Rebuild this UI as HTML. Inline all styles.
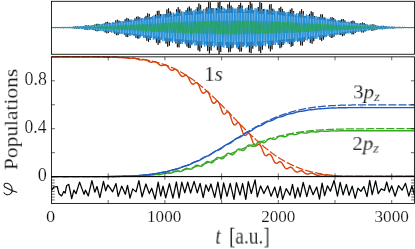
<!DOCTYPE html>
<html><head><meta charset="utf-8"><title>fig</title>
<style>
html,body{margin:0;padding:0;background:#fff;}
body{width:415px;height:249px;position:relative;overflow:hidden;font-family:"Liberation Serif",serif;color:#111;}
.t{position:absolute;left:0;top:0;white-space:nowrap;line-height:1;transform-origin:0 0;will-change:transform;-webkit-text-stroke:0.15px #fff;}
i{font-style:italic;}
sub{font-size:70%;vertical-align:baseline;position:relative;top:0.2em;line-height:0;}
</style></head><body>
<svg width="415" height="249" viewBox="0 0 415 249" style="position:absolute;left:0;top:0"><rect width="415" height="249" fill="#fff"/><clipPath id="ct"><rect x="51.5" y="1.3" width="362.9" height="52.95"/></clipPath><clipPath id="co"><path clip-rule="evenodd" d="M51.5,1.3H414.4V54.25H51.5ZM51.5,27.6L53.8,27.5L56.0,27.5L58.3,27.5L60.6,27.5L62.8,27.4L65.1,27.3L67.4,27.3L69.6,27.2L71.9,27.1L74.2,27.0L76.4,26.9L78.7,26.8L81.0,26.6L83.3,26.5L85.5,26.3L87.8,26.2L90.1,26.0L92.3,25.8L94.6,25.6L96.9,25.4L99.1,25.2L101.4,25.0L103.7,24.8L105.9,24.5L108.2,24.3L110.5,24.1L112.7,23.8L115.0,23.6L117.3,23.3L119.5,23.0L121.8,22.8L124.1,22.5L126.3,22.2L128.6,21.9L130.9,21.7L133.2,21.4L135.4,21.1L137.7,20.8L140.0,20.5L142.2,20.2L144.5,20.0L146.8,19.7L149.0,19.4L151.3,19.1L153.6,18.8L155.8,18.5L158.1,18.3L160.4,18.0L162.6,17.7L164.9,17.4L167.2,17.2L169.4,16.9L171.7,16.7L174.0,16.4L176.2,16.2L178.5,15.9L180.8,15.7L183.1,15.5L185.3,15.3L187.6,15.1L189.9,14.9L192.1,14.7L194.4,14.5L196.7,14.3L198.9,14.2L201.2,14.0L203.5,13.9L205.7,13.7L208.0,13.6L210.3,13.5L212.5,13.4L214.8,13.3L217.1,13.2L219.3,13.1L221.6,13.1L223.9,13.0L226.1,13.0L228.4,13.0L230.7,12.9L232.9,12.9L235.2,12.9L237.5,13.0L239.8,13.0L242.0,13.0L244.3,13.1L246.6,13.1L248.8,13.2L251.1,13.3L253.4,13.4L255.6,13.5L257.9,13.6L260.2,13.7L262.4,13.9L264.7,14.0L267.0,14.2L269.2,14.3L271.5,14.5L273.8,14.7L276.0,14.9L278.3,15.1L280.6,15.3L282.8,15.5L285.1,15.7L287.4,15.9L289.7,16.2L291.9,16.4L294.2,16.7L296.5,16.9L298.7,17.2L301.0,17.4L303.3,17.7L305.5,18.0L307.8,18.3L310.1,18.5L312.3,18.8L314.6,19.1L316.9,19.4L319.1,19.7L321.4,20.0L323.7,20.2L325.9,20.5L328.2,20.8L330.5,21.1L332.7,21.4L335.0,21.7L337.3,21.9L339.6,22.2L341.8,22.5L344.1,22.8L346.4,23.0L348.6,23.3L350.9,23.6L353.2,23.8L355.4,24.1L357.7,24.3L360.0,24.5L362.2,24.8L364.5,25.0L366.8,25.2L369.0,25.4L371.3,25.6L373.6,25.8L375.8,26.0L378.1,26.2L380.4,26.3L382.6,26.5L384.9,26.6L387.2,26.8L389.5,26.9L391.7,27.0L394.0,27.1L396.3,27.2L398.5,27.3L400.8,27.3L403.1,27.4L405.3,27.5L407.6,27.5L409.9,27.5L412.1,27.5L414.4,27.6L414.4,27.6L412.1,27.6L409.9,27.6L407.6,27.6L405.3,27.6L403.1,27.7L400.8,27.8L398.5,27.8L396.3,27.9L394.0,28.0L391.7,28.1L389.5,28.2L387.2,28.3L384.9,28.5L382.6,28.6L380.4,28.8L378.1,28.9L375.8,29.1L373.6,29.3L371.3,29.5L369.0,29.7L366.8,29.9L364.5,30.1L362.2,30.3L360.0,30.6L357.7,30.8L355.4,31.0L353.2,31.3L350.9,31.5L348.6,31.8L346.4,32.1L344.1,32.3L341.8,32.6L339.6,32.9L337.3,33.2L335.0,33.4L332.7,33.7L330.5,34.0L328.2,34.3L325.9,34.6L323.7,34.9L321.4,35.1L319.1,35.4L316.9,35.7L314.6,36.0L312.3,36.3L310.1,36.6L307.8,36.8L305.5,37.1L303.3,37.4L301.0,37.7L298.7,37.9L296.5,38.2L294.2,38.4L291.9,38.7L289.7,38.9L287.4,39.2L285.1,39.4L282.8,39.6L280.6,39.8L278.3,40.0L276.0,40.2L273.8,40.4L271.5,40.6L269.2,40.8L267.0,40.9L264.7,41.1L262.4,41.2L260.2,41.4L257.9,41.5L255.6,41.6L253.4,41.7L251.1,41.8L248.8,41.9L246.6,42.0L244.3,42.0L242.0,42.1L239.8,42.1L237.5,42.1L235.2,42.2L232.9,42.2L230.7,42.2L228.4,42.1L226.1,42.1L223.9,42.1L221.6,42.0L219.3,42.0L217.1,41.9L214.8,41.8L212.5,41.7L210.3,41.6L208.0,41.5L205.7,41.4L203.5,41.2L201.2,41.1L198.9,40.9L196.7,40.8L194.4,40.6L192.1,40.4L189.9,40.2L187.6,40.0L185.3,39.8L183.1,39.6L180.8,39.4L178.5,39.2L176.2,38.9L174.0,38.7L171.7,38.4L169.4,38.2L167.2,37.9L164.9,37.7L162.6,37.4L160.4,37.1L158.1,36.8L155.8,36.6L153.6,36.3L151.3,36.0L149.0,35.7L146.8,35.4L144.5,35.1L142.2,34.9L140.0,34.6L137.7,34.3L135.4,34.0L133.2,33.7L130.9,33.4L128.6,33.2L126.3,32.9L124.1,32.6L121.8,32.3L119.5,32.1L117.3,31.8L115.0,31.5L112.7,31.3L110.5,31.0L108.2,30.8L105.9,30.6L103.7,30.3L101.4,30.1L99.1,29.9L96.9,29.7L94.6,29.5L92.3,29.3L90.1,29.1L87.8,28.9L85.5,28.8L83.3,28.6L81.0,28.5L78.7,28.3L76.4,28.2L74.2,28.1L71.9,28.0L69.6,27.9L67.4,27.8L65.1,27.8L62.8,27.7L60.6,27.6L58.3,27.6L56.0,27.6L53.8,27.6L51.5,27.6Z"/></clipPath><g clip-path="url(#ct)" fill="none" stroke-linejoin="round"><path clip-path="url(#co)" d="M51.5,27.6L51.8,27.5L52.1,27.6L52.4,27.6L52.6,27.5L52.9,27.5L53.2,27.5L53.5,27.6L53.8,27.6L54.1,27.6L54.3,27.5L54.6,27.5L54.9,27.5L55.2,27.6L55.5,27.6L55.8,27.6L56.0,27.5L56.3,27.5L56.6,27.5L56.9,27.6L57.2,27.6L57.5,27.6L57.7,27.5L58.0,27.5L58.3,27.5L58.6,27.6L58.9,27.6L59.2,27.6L59.4,27.5L59.7,27.5L60.0,27.6L60.3,27.6L60.6,27.6L60.9,27.5L61.1,27.5L61.4,27.5L61.7,27.7L62.0,27.7L62.3,27.5L62.6,27.4L62.8,27.4L63.1,27.6L63.4,27.8L63.7,27.7L64.0,27.4L64.3,27.2L64.5,27.4L64.8,27.7L65.1,27.9L65.4,27.7L65.7,27.3L66.0,27.1L66.2,27.4L66.5,27.8L66.8,28.0L67.1,27.7L67.4,27.3L67.7,27.1L67.9,27.4L68.2,27.9L68.5,28.0L68.8,27.6L69.1,27.2L69.4,27.2L69.6,27.6L69.9,27.9L70.2,27.8L70.5,27.4L70.8,27.2L71.1,27.5L71.3,27.9L71.6,27.9L71.9,27.5L72.2,27.0L72.5,27.2L72.8,27.8L73.0,28.3L73.3,27.9L73.6,27.1L73.9,26.7L74.2,27.2L74.5,28.2L74.7,28.6L75.0,27.9L75.3,26.8L75.6,26.4L75.9,27.2L76.2,28.4L76.4,28.7L76.7,27.8L77.0,26.6L77.3,26.4L77.6,27.4L77.9,28.5L78.2,28.6L78.4,27.6L78.7,26.6L79.0,26.7L79.3,27.7L79.6,28.5L79.9,28.1L80.1,27.2L80.4,26.7L80.7,27.3L81.0,28.2L81.3,28.3L81.6,27.4L81.8,26.6L82.1,26.9L82.4,28.1L82.7,28.8L83.0,28.1L83.3,26.6L83.5,26.0L83.8,27.1L84.1,28.9L84.4,29.4L84.7,27.9L85.0,25.9L85.2,25.5L85.5,27.3L85.8,29.5L86.1,29.7L86.4,27.6L86.7,25.5L86.9,25.5L87.2,27.6L87.5,29.7L87.8,29.5L88.1,27.3L88.4,25.5L88.6,25.9L88.9,28.0L89.2,29.5L89.5,28.7L89.8,26.8L90.1,25.9L90.3,26.9L90.6,28.7L90.9,29.0L91.2,27.5L91.5,26.1L91.8,26.5L92.0,28.3L92.3,29.4L92.6,28.3L92.9,26.0L93.2,25.3L93.5,27.2L93.7,29.8L94.0,30.1L94.3,27.6L94.6,24.7L94.9,24.7L95.2,27.8L95.4,30.9L95.7,30.5L96.0,27.0L96.3,23.9L96.6,24.6L96.9,28.3L97.1,31.3L97.4,30.4L97.7,26.5L98.0,23.8L98.3,25.1L98.6,28.8L98.8,31.0L99.1,29.4L99.4,26.0L99.7,24.5L100.0,26.5L100.3,29.4L100.5,30.0L100.8,27.7L101.1,25.4L101.4,25.8L101.7,28.4L102.0,30.0L102.2,28.5L102.5,25.6L102.8,24.7L103.1,27.3L103.4,30.6L103.7,30.7L104.0,27.1L104.2,23.5L104.5,24.2L104.8,28.7L105.1,32.4L105.4,31.1L105.7,25.9L105.9,22.1L106.2,24.0L106.5,29.7L106.8,33.3L107.1,31.0L107.4,25.1L107.6,21.8L107.9,24.5L108.2,30.3L108.5,32.9L108.8,29.9L109.1,24.6L109.3,22.8L109.6,26.1L109.9,30.6L110.2,31.4L110.5,28.0L110.8,24.4L111.0,24.8L111.3,28.4L111.6,30.9L111.9,29.1L112.2,25.3L112.5,24.1L112.7,27.3L113.0,31.2L113.3,31.1L113.6,26.6L113.9,22.6L114.2,23.9L114.4,29.7L114.7,33.7L115.0,31.2L115.3,24.4L115.6,20.5L115.9,23.9L116.1,31.5L116.4,35.2L116.7,31.0L117.0,23.0L117.3,19.7L117.6,24.5L117.8,32.4L118.1,35.1L118.4,29.9L118.7,22.5L119.0,20.7L119.3,26.1L119.5,32.5L119.8,33.3L120.1,27.9L120.4,22.7L120.7,23.3L121.0,28.5L121.2,32.1L121.5,30.1L121.8,25.1L122.1,23.2L122.4,26.9L122.7,31.6L122.9,31.6L123.2,26.3L123.5,21.9L123.8,23.8L124.1,30.6L124.4,34.7L124.6,30.9L124.9,22.9L125.2,19.2L125.5,24.5L125.8,33.6L126.1,36.8L126.3,30.2L126.6,20.6L126.9,17.9L127.2,25.3L127.5,35.1L127.8,37.1L128.0,29.1L128.3,19.7L128.6,18.7L128.9,26.8L129.2,35.2L129.5,35.2L129.8,27.3L130.0,20.3L130.3,21.6L130.6,29.1L130.9,34.1L131.2,31.4L131.5,24.6L131.7,21.9L132.0,26.1L132.3,32.0L132.6,32.3L132.9,26.4L133.2,21.5L133.4,23.7L133.7,31.2L134.0,35.2L134.3,30.5L134.6,21.6L134.9,18.5L135.1,25.5L135.4,35.5L135.7,37.6L136.0,28.8L136.3,18.0L136.6,16.8L136.8,27.0L137.1,38.1L137.4,38.4L137.7,27.4L138.0,16.5L138.3,17.2L138.5,28.5L138.8,38.5L139.1,36.8L139.4,25.7L139.7,17.3L140.0,20.1L140.2,30.4L140.5,36.7L140.8,32.7L141.1,23.6L141.4,19.8L141.7,25.1L141.9,32.8L142.2,33.7L142.5,27.0L142.8,21.0L143.1,23.2L143.4,31.2L143.6,35.4L143.9,30.2L144.2,20.9L144.5,18.4L144.8,26.5L145.1,36.9L145.3,37.7L145.6,27.1L145.9,15.9L146.2,16.6L146.5,29.3L146.8,40.8L147.0,38.7L147.3,24.8L147.6,13.4L147.9,16.7L148.2,31.2L148.5,41.8L148.7,37.5L149.0,23.1L149.3,13.9L149.6,19.2L149.9,32.7L150.2,39.9L150.4,33.7L150.7,21.7L151.0,17.1L151.3,24.2L151.6,34.2L151.9,35.7L152.1,27.7L152.4,20.1L152.7,22.0L153.0,30.8L153.3,35.8L153.6,30.4L153.8,20.8L154.1,18.5L154.4,27.3L154.7,37.6L155.0,37.3L155.3,25.4L155.6,14.6L155.8,17.3L156.1,31.7L156.4,42.7L156.7,38.0L157.0,21.7L157.3,10.9L157.5,17.3L157.8,34.7L158.1,44.8L158.4,37.0L158.7,19.6L159.0,10.7L159.2,19.4L159.5,36.1L159.8,43.1L160.1,33.7L160.4,18.7L160.7,14.1L160.9,23.9L161.2,36.5L161.5,38.2L161.8,28.1L162.1,18.5L162.4,20.2L162.6,30.4L162.9,36.6L163.2,31.4L163.5,21.1L163.8,18.5L164.1,27.3L164.3,37.6L164.6,36.6L164.9,24.4L165.2,14.2L165.5,18.5L165.8,33.8L166.0,43.6L166.3,36.4L166.6,18.8L166.9,9.5L167.2,19.1L167.5,38.2L167.7,46.7L168.0,35.3L168.3,15.6L168.6,8.3L168.9,21.0L169.2,40.2L169.4,45.8L169.7,32.5L170.0,14.8L170.3,11.3L170.6,24.7L170.9,39.9L171.1,40.8L171.4,27.7L171.7,15.9L172.0,18.0L172.3,30.4L172.6,38.3L172.8,32.9L173.1,21.4L173.4,17.8L173.7,26.6L174.0,37.1L174.3,36.3L174.5,24.1L174.8,14.6L175.1,19.8L175.4,35.0L175.7,43.4L176.0,34.4L176.2,16.5L176.5,9.3L176.8,21.7L177.1,41.4L177.4,47.3L177.7,32.4L177.9,11.8L178.2,7.2L178.5,23.8L178.8,44.4L179.1,47.3L179.4,29.9L179.6,10.6L179.9,9.4L180.2,26.9L180.5,43.9L180.8,42.9L181.1,26.2L181.4,12.4L181.6,15.9L181.9,31.3L182.2,40.9L182.5,34.8L182.8,21.1L183.1,16.2L183.3,25.3L183.6,36.8L183.9,36.7L184.2,24.8L184.5,15.4L184.8,20.5L185.0,35.3L185.3,42.5L185.6,32.5L185.9,15.4L186.2,10.3L186.5,24.4L186.7,43.5L187.0,46.5L187.3,29.0L187.6,8.8L187.9,7.7L188.2,27.6L188.4,48.0L188.7,47.3L189.0,26.1L189.3,6.5L189.6,9.0L189.9,30.4L190.1,48.1L190.4,43.8L190.7,23.2L191.0,8.5L191.3,14.6L191.6,33.5L191.8,44.3L192.1,36.2L192.4,19.8L192.7,13.7L193.0,23.8L193.3,37.2L193.5,38.1L193.8,25.9L194.1,15.8L194.4,20.4L194.7,34.6L195.0,41.3L195.2,31.4L195.5,15.4L195.8,12.0L196.1,26.7L196.4,44.2L196.7,44.6L196.9,25.8L197.2,7.3L197.5,9.6L197.8,31.6L198.1,50.3L198.4,45.6L198.6,21.7L198.9,3.5L199.2,10.2L199.5,34.8L199.8,51.5L200.1,43.1L200.3,19.1L200.6,4.9L200.9,14.7L201.2,36.9L201.5,47.7L201.8,36.7L202.0,17.3L202.3,10.8L202.6,22.9L202.9,38.7L203.2,40.3L203.5,27.1L203.7,15.5L204.0,19.2L204.3,33.4L204.6,40.5L204.9,31.4L205.2,16.4L205.4,13.7L205.7,27.9L206.0,43.6L206.3,42.1L206.6,23.3L206.9,7.2L207.2,12.5L207.4,35.0L207.7,51.1L208.0,42.6L208.3,17.5L208.6,2.1L208.9,13.0L209.1,39.4L209.4,53.6L209.7,40.8L210.0,14.5L210.3,2.4L210.6,16.4L210.8,41.2L211.1,50.5L211.4,35.7L211.7,13.7L212.0,8.0L212.3,23.1L212.5,41.3L212.8,42.8L213.1,27.6L213.4,14.1L213.7,17.4L214.0,32.3L214.2,40.6L214.5,32.4L214.8,17.8L215.1,14.8L215.4,28.0L215.7,42.2L215.9,39.9L216.2,22.2L216.5,8.5L216.8,15.6L217.1,37.3L217.4,50.2L217.6,38.9L217.9,14.3L218.2,2.4L218.5,16.9L218.8,43.4L219.1,53.9L219.3,37.0L219.6,10.1L219.9,1.4L220.2,19.8L220.5,45.7L220.8,52.1L221.0,33.1L221.3,9.6L221.6,6.0L221.9,24.8L222.2,44.7L222.5,44.9L222.7,26.9L223.0,11.7L223.3,15.4L223.6,32.1L223.9,41.9L224.2,34.0L224.4,18.9L224.7,14.9L225.0,27.0L225.3,40.4L225.6,38.5L225.9,22.3L226.1,10.6L226.4,18.2L226.7,38.1L227.0,48.0L227.3,35.4L227.6,12.5L227.8,4.4L228.1,21.2L228.4,46.0L228.7,52.3L229.0,32.5L229.3,6.8L229.5,2.3L229.8,24.2L230.1,49.4L230.4,51.8L230.7,29.2L231.0,5.7L231.2,5.6L231.5,27.9L231.8,48.3L232.1,45.9L232.4,24.8L232.7,8.6L232.9,13.9L233.2,33.0L233.5,44.0L233.8,35.6L234.1,19.1L234.4,14.0L234.7,25.5L234.9,39.1L235.2,38.2L235.5,23.5L235.8,12.8L236.1,19.8L236.4,37.5L236.6,45.2L236.9,32.6L237.2,12.4L237.5,7.5L237.8,24.9L238.1,47.0L238.3,49.3L238.6,28.1L238.9,5.0L239.2,5.0L239.5,28.9L239.8,51.8L240.0,49.7L240.3,24.6L240.6,2.8L240.9,7.0L241.2,32.0L241.5,51.4L241.7,45.3L242.0,21.5L242.3,5.7L242.6,13.7L242.9,35.2L243.2,46.5L243.4,36.5L243.7,18.2L244.0,12.2L244.3,24.1L244.6,38.8L244.9,38.9L245.1,25.1L245.4,14.4L245.7,20.2L246.0,35.9L246.3,42.6L246.6,31.0L246.8,13.7L247.1,10.9L247.4,27.6L247.7,46.2L248.0,45.5L248.3,24.5L248.5,5.1L248.8,8.9L249.1,33.1L249.4,52.4L249.7,46.1L250.0,20.1L250.2,1.6L250.5,10.0L250.8,36.4L251.1,53.2L251.4,43.1L251.7,17.6L251.9,3.6L252.2,15.0L252.5,38.3L252.8,48.6L253.1,36.2L253.4,16.1L253.6,10.3L253.9,23.5L254.2,39.5L254.5,40.3L254.8,26.4L255.1,15.0L255.3,19.5L255.6,34.1L255.9,40.7L256.2,30.8L256.5,15.7L256.8,13.8L257.0,28.8L257.3,44.2L257.6,41.7L257.9,22.3L258.2,6.9L258.5,13.2L258.7,36.0L259.0,51.2L259.3,41.6L259.6,16.5L259.9,2.2L260.2,14.2L260.5,40.3L260.7,53.2L261.0,39.5L261.3,13.8L261.6,3.0L261.9,17.8L262.2,41.7L262.4,49.7L262.7,34.5L263.0,13.5L263.3,9.0L263.6,24.2L263.9,41.2L264.1,41.7L264.4,26.8L264.7,14.5L265.0,18.4L265.3,32.7L265.6,39.9L265.8,31.5L266.1,17.9L266.4,15.9L266.7,28.7L267.0,41.6L267.3,38.6L267.5,21.7L267.8,9.7L268.1,17.2L268.4,37.4L268.7,48.5L269.0,37.2L269.2,14.5L269.5,4.6L269.8,18.9L270.1,42.9L270.4,51.4L270.7,35.1L270.9,10.9L271.2,4.1L271.5,21.6L271.8,44.6L272.1,49.3L272.4,31.5L272.6,10.8L272.9,8.7L273.2,26.0L273.5,43.3L273.8,42.5L274.1,26.2L274.3,13.3L274.6,17.3L274.9,32.2L275.2,40.1L275.5,32.7L275.8,19.5L276.0,16.8L276.3,27.7L276.6,39.0L276.9,36.6L277.2,22.4L277.5,12.9L277.7,20.2L278.0,37.3L278.3,45.0L278.6,33.4L278.9,14.0L279.2,8.1L279.4,23.1L279.7,43.9L280.0,48.2L280.3,30.7L280.6,9.4L280.9,6.8L281.1,25.8L281.4,46.4L281.7,47.3L282.0,27.9L282.3,8.9L282.6,9.9L282.8,28.8L283.1,45.0L283.4,42.1L283.7,24.5L284.0,11.9L284.3,17.0L284.5,32.6L284.8,40.9L285.1,33.5L285.4,20.3L285.7,16.8L286.0,26.5L286.3,37.1L286.5,35.7L286.8,23.7L287.1,15.7L287.4,22.0L287.7,36.0L288.0,41.4L288.2,30.8L288.5,15.1L288.8,12.1L289.1,26.3L289.4,43.2L289.7,44.1L289.9,27.0L290.2,9.6L290.5,10.6L290.8,29.5L291.1,46.7L291.4,44.0L291.6,24.3L291.9,8.3L292.2,12.5L292.5,31.9L292.8,45.9L293.1,40.4L293.3,22.2L293.6,11.0L293.9,17.8L294.2,33.9L294.5,41.7L294.8,33.7L295.0,20.1L295.3,16.3L295.6,25.6L295.9,36.1L296.2,35.6L296.5,25.2L296.7,17.8L297.0,22.6L297.3,34.1L297.6,38.4L297.9,29.5L298.2,17.1L298.4,15.8L298.7,28.3L299.0,41.3L299.3,40.0L299.6,24.6L299.9,11.3L300.1,14.8L300.4,32.3L300.7,45.4L301.0,40.0L301.3,21.5L301.6,9.1L301.8,15.9L302.1,34.6L302.4,45.5L302.7,37.7L303.0,19.9L303.3,11.0L303.5,19.5L303.8,35.6L304.1,41.9L304.4,32.9L304.7,19.3L305.0,16.0L305.2,25.4L305.5,36.0L305.8,35.9L306.1,26.3L306.4,19.0L306.7,22.6L306.9,32.3L307.2,36.3L307.5,29.2L307.8,19.4L308.1,18.7L308.4,28.9L308.6,38.7L308.9,36.4L309.2,23.5L309.5,13.9L309.8,18.8L310.1,33.7L310.3,42.9L310.6,36.0L310.9,19.8L311.2,11.3L311.5,19.7L311.8,36.3L312.1,43.8L312.3,34.4L312.6,18.2L312.9,12.2L313.2,22.1L313.5,37.0L313.8,41.2L314.0,31.2L314.3,18.4L314.6,16.2L314.9,26.0L315.2,36.2L315.5,36.0L315.7,26.7L316.0,19.4L316.3,22.3L316.6,31.0L316.9,35.0L317.2,29.6L317.4,21.5L317.7,20.7L318.0,28.7L318.3,36.1L318.6,33.8L318.9,23.6L319.1,16.9L319.4,21.9L319.7,33.9L320.0,39.8L320.3,32.6L320.6,19.4L320.8,14.3L321.1,23.1L321.4,36.9L321.7,41.1L322.0,31.2L322.3,17.5L322.5,14.4L322.8,24.8L323.1,37.6L323.4,39.6L323.7,29.2L324.0,17.8L324.2,17.3L324.5,27.2L324.8,36.5L325.1,35.5L325.4,26.3L325.7,19.6L325.9,22.2L326.2,30.4L326.5,34.4L326.8,30.0L327.1,23.0L327.4,21.9L327.6,28.0L327.9,33.8L328.2,32.1L328.5,24.4L328.8,19.7L329.1,24.0L329.3,33.0L329.6,36.6L329.9,30.2L330.2,20.1L330.5,17.6L330.8,25.8L331.0,36.3L331.3,38.0L331.6,28.6L331.9,18.0L332.2,17.2L332.5,27.2L332.7,37.4L333.0,37.2L333.3,27.2L333.6,18.0L333.9,19.0L334.2,28.6L334.4,36.4L334.7,34.4L335.0,25.6L335.3,19.8L335.6,22.7L335.9,30.3L336.1,34.0L336.4,30.2L336.7,23.8L337.0,22.5L337.3,27.3L337.6,32.2L337.9,31.2L338.1,25.5L338.4,22.0L338.7,25.2L339.0,31.7L339.3,33.9L339.6,28.7L339.8,21.6L340.1,20.6L340.4,27.4L340.7,34.9L341.0,34.9L341.3,26.9L341.5,19.3L341.8,20.2L342.1,28.9L342.4,36.2L342.7,34.5L343.0,25.7L343.2,19.0L343.5,21.3L343.8,29.8L344.1,35.6L344.4,32.8L344.7,24.9L344.9,20.4L345.2,23.7L345.5,30.5L345.8,33.5L346.1,29.9L346.4,24.2L346.6,22.9L346.9,27.0L347.2,31.2L347.5,30.7L347.8,26.4L348.1,23.6L348.3,25.7L348.6,30.4L348.9,31.8L349.2,28.1L349.5,23.2L349.8,23.0L350.0,28.1L350.3,33.1L350.6,32.2L350.9,26.1L351.2,21.2L351.5,22.9L351.7,29.7L352.0,34.4L352.3,32.0L352.6,24.9L352.9,20.6L353.2,23.5L353.4,30.5L353.7,34.2L354.0,31.0L354.3,24.5L354.6,21.5L354.9,24.9L355.1,30.7L355.4,32.7L355.7,29.2L356.0,24.5L356.3,23.5L356.6,27.0L356.8,30.6L357.1,30.4L357.4,27.0L357.7,24.6L358.0,26.0L358.3,29.3L358.5,30.5L358.8,28.0L359.1,24.7L359.4,24.7L359.7,28.2L360.0,31.3L360.2,30.3L360.5,26.0L360.8,23.1L361.1,24.9L361.4,29.7L361.7,32.4L361.9,30.0L362.2,24.9L362.5,22.5L362.8,25.3L363.1,30.4L363.4,32.5L363.7,29.4L363.9,24.6L364.2,23.0L364.5,26.1L364.8,30.5L365.1,31.5L365.4,28.4L365.6,24.8L365.9,24.4L366.2,27.3L366.5,30.1L366.8,29.8L367.1,27.2L367.3,25.3L367.6,26.2L367.9,28.6L368.2,29.6L368.5,28.0L368.8,25.9L369.0,25.8L369.3,28.0L369.6,29.8L369.9,29.1L370.2,26.4L370.5,24.8L370.7,26.2L371.0,29.3L371.3,30.6L371.6,28.7L371.9,25.4L372.2,24.3L372.4,26.6L372.7,29.9L373.0,30.7L373.3,28.3L373.6,25.1L373.9,24.5L374.1,27.1L374.4,29.9L374.7,30.2L375.0,27.8L375.3,25.3L375.6,25.4L375.8,27.6L376.1,29.5L376.4,29.2L376.7,27.2L377.0,25.9L377.3,26.5L377.5,28.2L377.8,28.9L378.1,28.0L378.4,26.6L378.7,26.5L379.0,27.7L379.2,28.8L379.5,28.4L379.8,26.9L380.1,26.1L380.4,27.0L380.7,28.6L380.9,29.2L381.2,27.9L381.5,26.2L381.8,25.8L382.1,27.3L382.4,29.1L382.6,29.3L382.9,27.6L383.2,25.9L383.5,25.9L383.8,27.6L384.1,29.2L384.3,29.0L384.6,27.4L384.9,26.1L385.2,26.3L385.5,27.8L385.8,28.9L386.0,28.5L386.3,27.2L386.6,26.4L386.9,26.9L387.2,28.0L387.5,28.4L387.7,27.9L388.0,27.0L388.3,26.9L388.6,27.6L388.9,28.2L389.2,28.0L389.5,27.3L389.7,26.9L390.0,27.3L390.3,28.1L390.6,28.3L390.9,27.6L391.2,26.9L391.4,26.8L391.7,27.6L392.0,28.3L392.3,28.3L392.6,27.4L392.9,26.7L393.1,26.9L393.4,27.7L393.7,28.4L394.0,28.2L394.3,27.3L394.6,26.8L394.8,27.0L395.1,27.8L395.4,28.2L395.7,27.9L396.0,27.3L396.3,27.0L396.5,27.3L396.8,27.8L397.1,28.0L397.4,27.7L397.7,27.3L398.0,27.3L398.2,27.5L398.5,27.8L398.8,27.7L399.1,27.5L399.4,27.3L399.7,27.5L399.9,27.7L400.2,27.8L400.5,27.6L400.8,27.3L401.1,27.3L401.4,27.6L401.6,27.8L401.9,27.7L402.2,27.5L402.5,27.3L402.8,27.4L403.1,27.6L403.3,27.8L403.6,27.7L403.9,27.5L404.2,27.3L404.5,27.4L404.8,27.6L405.0,27.7L405.3,27.6L405.6,27.5L405.9,27.4L406.2,27.5L406.5,27.6L406.7,27.6L407.0,27.6L407.3,27.5L407.6,27.5L407.9,27.5L408.2,27.6L408.4,27.6L408.7,27.5L409.0,27.5L409.3,27.5L409.6,27.6L409.9,27.6L410.1,27.6L410.4,27.5L410.7,27.5L411.0,27.6L411.3,27.6L411.6,27.6L411.8,27.5L412.1,27.5L412.4,27.5L412.7,27.6L413.0,27.6L413.3,27.6L413.5,27.5L413.8,27.5L414.1,27.5L414.4,27.6" stroke="#000" stroke-width="0.75"/><path d="M51.5,27.6L51.8,27.5L52.1,27.6L52.4,27.6L52.6,27.6L52.9,27.5L53.2,27.5L53.5,27.5L53.8,27.6L54.1,27.6L54.3,27.5L54.6,27.5L54.9,27.5L55.2,27.6L55.5,27.6L55.8,27.6L56.0,27.5L56.3,27.5L56.6,27.5L56.9,27.6L57.2,27.6L57.5,27.6L57.7,27.5L58.0,27.5L58.3,27.5L58.6,27.6L58.9,27.6L59.2,27.5L59.4,27.5L59.7,27.5L60.0,27.6L60.3,27.7L60.6,27.6L60.9,27.5L61.1,27.4L61.4,27.5L61.7,27.7L62.0,27.7L62.3,27.6L62.6,27.4L62.8,27.4L63.1,27.6L63.4,27.7L63.7,27.7L64.0,27.5L64.3,27.3L64.5,27.4L64.8,27.7L65.1,27.8L65.4,27.7L65.7,27.4L66.0,27.2L66.2,27.4L66.5,27.8L66.8,27.9L67.1,27.6L67.4,27.2L67.7,27.2L67.9,27.6L68.2,27.9L68.5,27.9L68.8,27.4L69.1,27.1L69.4,27.2L69.6,27.8L69.9,28.1L70.2,27.8L70.5,27.2L70.8,27.0L71.1,27.4L71.3,28.0L71.6,28.1L71.9,27.6L72.2,27.0L72.5,27.0L72.8,27.6L73.0,28.2L73.3,28.1L73.6,27.4L73.9,26.8L74.2,27.1L74.5,27.9L74.7,28.4L75.0,27.9L75.3,27.0L75.6,26.7L75.9,27.3L76.2,28.2L76.4,28.4L76.7,27.6L77.0,26.7L77.3,26.7L77.6,27.7L77.9,28.5L78.2,28.3L78.4,27.2L78.7,26.5L79.0,26.9L79.3,28.1L79.6,28.7L79.9,28.0L80.1,26.8L80.4,26.3L80.7,27.3L81.0,28.6L81.3,28.7L81.6,27.6L81.8,26.3L82.1,26.4L82.4,27.8L82.7,28.9L83.0,28.6L83.3,27.0L83.5,26.0L83.8,26.7L84.1,28.4L84.4,29.1L84.7,28.1L85.0,26.4L85.2,25.9L85.5,27.2L85.8,28.9L86.1,29.1L86.4,27.5L86.7,25.9L86.9,26.1L87.2,27.9L87.5,29.4L87.8,28.8L88.1,26.8L88.4,25.6L88.6,26.5L88.9,28.7L89.2,29.6L89.5,28.2L89.8,26.0L90.1,25.5L90.3,27.2L90.6,29.4L90.9,29.5L91.2,27.4L91.5,25.4L91.8,25.7L92.0,28.1L92.3,29.9L92.6,29.1L92.9,26.5L93.2,25.0L93.5,26.3L93.7,29.1L94.0,30.1L94.3,28.3L94.6,25.6L94.9,25.0L95.2,27.3L95.4,29.9L95.7,30.0L96.0,27.3L96.3,24.8L96.6,25.4L96.9,28.4L97.1,30.5L97.4,29.4L97.7,26.2L98.0,24.4L98.3,26.2L98.6,29.5L98.8,30.7L99.1,28.4L99.4,25.1L99.7,24.5L100.0,27.3L100.3,30.5L100.5,30.4L100.8,27.1L101.1,24.2L101.4,25.0L101.7,28.7L102.0,31.1L102.2,29.6L102.5,25.7L102.8,23.8L103.1,26.0L103.4,30.0L103.7,31.3L104.0,28.4L104.2,24.5L104.5,23.9L104.8,27.4L105.1,31.1L105.4,30.9L105.7,26.9L105.9,23.5L106.2,24.7L106.5,29.0L106.8,31.8L107.1,29.9L107.4,25.3L107.6,23.1L107.9,25.9L108.2,30.6L108.5,31.9L108.8,28.4L109.1,23.8L109.3,23.4L109.6,27.6L109.9,31.8L110.2,31.3L110.5,26.6L110.8,22.8L111.0,24.3L111.3,29.5L111.6,32.6L111.9,30.1L112.2,24.7L112.5,22.4L112.7,25.9L113.0,31.2L113.3,32.6L113.6,28.3L113.9,23.1L114.2,22.8L114.4,27.8L114.7,32.6L115.0,31.8L115.3,26.2L115.6,22.1L115.9,24.0L116.1,30.0L116.4,33.3L116.7,30.3L117.0,24.1L117.3,21.7L117.6,25.8L117.8,31.9L118.1,33.2L118.4,28.2L118.7,22.4L119.0,22.3L119.3,28.1L119.5,33.4L119.8,32.2L120.1,25.8L120.4,21.2L120.7,23.7L121.0,30.5L121.2,34.1L121.5,30.4L121.8,23.4L122.1,21.0L122.4,25.9L122.7,32.7L122.9,33.8L123.2,28.0L123.5,21.5L123.8,21.8L124.1,28.5L124.4,34.2L124.6,32.6L124.9,25.3L125.2,20.4L125.5,23.5L125.8,31.1L126.1,34.9L126.3,30.5L126.6,22.7L126.9,20.3L127.2,26.0L127.5,33.5L127.8,34.5L128.0,27.7L128.3,20.7L128.6,21.3L128.9,28.9L129.2,35.1L129.5,33.0L129.8,24.7L130.0,19.6L130.3,23.3L130.6,31.8L130.9,35.7L131.2,30.5L131.5,21.9L131.7,19.6L132.0,26.1L132.3,34.3L132.6,35.1L132.9,27.4L133.2,19.8L133.4,20.8L133.7,29.3L134.0,36.0L134.3,33.3L134.6,24.1L134.9,18.7L135.1,23.1L135.4,32.6L135.7,36.5L136.0,30.5L136.3,21.1L136.6,18.9L136.8,26.3L137.1,35.2L137.4,35.6L137.7,27.0L138.0,18.9L138.3,20.4L138.5,29.9L138.8,36.9L139.1,33.5L139.4,23.4L139.7,17.9L140.0,23.1L140.2,33.3L140.5,37.3L140.8,30.4L141.1,20.3L141.4,18.2L141.7,26.6L141.9,36.1L142.2,36.2L142.5,26.6L142.8,18.0L143.1,20.0L143.4,30.5L143.6,37.8L143.9,33.7L144.2,22.7L144.5,17.0L144.8,23.0L145.1,34.2L145.3,38.0L145.6,30.2L145.9,19.3L146.2,17.6L146.5,26.9L146.8,37.1L147.0,36.7L147.3,26.1L147.6,17.0L147.9,19.7L148.2,31.1L148.5,38.7L148.7,33.9L149.0,21.9L149.3,16.2L149.6,23.1L149.9,35.0L150.2,38.7L150.4,30.0L150.7,18.4L151.0,17.0L151.3,27.3L151.6,38.0L151.9,37.1L152.1,25.5L152.4,16.1L152.7,19.4L153.0,31.9L153.3,39.6L153.6,33.9L153.8,21.1L154.1,15.4L154.4,23.2L154.7,35.9L155.0,39.4L155.3,29.6L155.6,17.5L155.8,16.5L156.1,27.8L156.4,39.0L156.7,37.4L157.0,24.9L157.3,15.2L157.5,19.2L157.8,32.6L158.1,40.4L158.4,33.9L158.7,20.2L159.0,14.6L159.2,23.4L159.5,36.9L159.8,40.0L160.1,29.3L160.4,16.5L160.7,16.0L160.9,28.4L161.2,39.9L161.5,37.7L161.8,24.2L162.1,14.3L162.4,19.1L162.6,33.4L162.9,41.3L163.2,33.8L163.5,19.3L163.8,13.9L164.1,23.7L164.3,37.8L164.6,40.6L164.9,28.8L165.2,15.6L165.5,15.6L165.8,29.0L166.0,40.9L166.3,38.0L166.6,23.4L166.9,13.4L167.2,19.1L167.5,34.3L167.7,42.0L168.0,33.7L168.3,18.4L168.6,13.3L168.9,24.0L169.2,38.8L169.4,41.1L169.7,28.3L170.0,14.6L170.3,15.3L170.6,29.6L170.9,41.8L171.1,38.1L171.4,22.6L171.7,12.6L172.0,19.2L172.3,35.1L172.6,42.8L172.8,33.4L173.1,17.5L173.4,12.7L173.7,24.4L174.0,39.7L174.3,41.5L174.5,27.7L174.8,13.7L175.1,15.0L175.4,30.3L175.7,42.6L176.0,38.2L176.2,21.8L176.5,11.8L176.8,19.3L177.1,36.0L177.4,43.4L177.7,33.1L177.9,16.6L178.2,12.2L178.5,24.9L178.8,40.7L179.1,41.9L179.4,27.1L179.6,12.8L179.9,14.8L180.2,31.1L180.5,43.5L180.8,38.1L181.1,21.0L181.4,11.1L181.6,19.5L181.9,36.9L182.2,44.0L182.5,32.7L182.8,15.6L183.1,11.7L183.3,25.5L183.6,41.6L183.9,42.1L184.2,26.4L184.5,11.9L184.8,14.8L185.0,31.9L185.3,44.2L185.6,38.0L185.9,20.1L186.2,10.4L186.5,19.8L186.7,37.9L187.0,44.5L187.3,32.3L187.6,14.7L187.9,11.4L188.2,26.1L188.4,42.5L188.7,42.3L189.0,25.7L189.3,11.1L189.6,14.8L189.9,32.7L190.1,45.0L190.4,37.8L190.7,19.2L191.0,9.8L191.3,20.1L191.6,38.8L191.8,45.0L192.1,31.8L192.4,13.8L192.7,11.1L193.0,26.7L193.3,43.3L193.5,42.4L193.8,24.9L194.1,10.3L194.4,14.9L194.7,33.5L195.0,45.6L195.2,37.6L195.5,18.4L195.8,9.3L196.1,20.6L196.4,39.6L196.7,45.3L196.9,31.2L197.2,13.0L197.5,11.0L197.8,27.4L198.1,44.1L198.4,42.4L198.6,24.1L198.9,9.7L199.2,15.1L199.5,34.4L199.8,46.2L200.1,37.2L200.3,17.5L200.6,8.9L200.9,21.1L201.2,40.5L201.5,45.5L201.8,30.5L202.0,12.2L202.3,10.9L202.6,28.2L202.9,44.8L203.2,42.3L203.5,23.3L203.7,9.0L204.0,15.3L204.3,35.3L204.6,46.6L204.9,36.8L205.2,16.6L205.4,8.6L205.7,21.7L206.0,41.3L206.3,45.7L206.6,29.9L206.9,11.4L207.2,10.9L207.4,28.9L207.7,45.5L208.0,42.1L208.3,22.5L208.6,8.5L208.9,15.7L209.1,36.1L209.4,47.0L209.7,36.3L210.0,15.8L210.3,8.4L210.6,22.3L210.8,42.1L211.1,45.7L211.4,29.1L211.7,10.7L212.0,11.0L212.3,29.7L212.5,46.0L212.8,41.8L213.1,21.7L213.4,8.1L213.7,16.1L214.0,36.9L214.2,47.3L214.5,35.7L214.8,15.0L215.1,8.2L215.4,23.0L215.7,42.8L215.9,45.7L216.2,28.4L216.5,10.1L216.8,11.2L217.1,30.5L217.4,46.5L217.6,41.4L217.9,20.9L218.2,7.7L218.5,16.6L218.8,37.7L219.1,47.5L219.3,35.1L219.6,14.3L219.9,8.2L220.2,23.7L220.5,43.5L220.8,45.6L221.0,27.6L221.3,9.6L221.6,11.5L221.9,31.3L222.2,46.9L222.5,41.0L222.7,20.1L223.0,7.5L223.3,17.2L223.6,38.5L223.9,47.6L224.2,34.4L224.4,13.6L224.7,8.3L225.0,24.4L225.3,44.1L225.6,45.3L225.9,26.8L226.1,9.1L226.4,11.9L226.7,32.1L227.0,47.3L227.3,40.5L227.6,19.3L227.8,7.3L228.1,17.9L228.4,39.2L228.7,47.6L229.0,33.7L229.3,12.9L229.5,8.5L229.8,25.2L230.1,44.6L230.4,45.0L230.7,26.0L231.0,8.7L231.2,12.4L231.5,32.9L231.8,47.5L232.1,39.9L232.4,18.5L232.7,7.3L232.9,18.5L233.2,39.9L233.5,47.5L233.8,32.9L234.1,12.4L234.4,8.7L234.7,26.0L234.9,45.0L235.2,44.6L235.5,25.2L235.8,8.5L236.1,12.9L236.4,33.7L236.6,47.6L236.9,39.2L237.2,17.8L237.5,7.3L237.8,19.3L238.1,40.5L238.3,47.3L238.6,32.1L238.9,11.9L239.2,9.1L239.5,26.8L239.8,45.3L240.0,44.1L240.3,24.4L240.6,8.3L240.9,13.6L241.2,34.4L241.5,47.6L241.7,38.5L242.0,17.2L242.3,7.4L242.6,20.1L242.9,41.0L243.2,47.0L243.4,31.3L243.7,11.5L244.0,9.5L244.3,27.6L244.6,45.6L244.9,43.5L245.1,23.7L245.4,8.2L245.7,14.3L246.0,35.1L246.3,47.5L246.6,37.7L246.8,16.6L247.1,7.7L247.4,20.9L247.7,41.4L248.0,46.6L248.3,30.5L248.5,11.2L248.8,10.1L249.1,28.4L249.4,45.7L249.7,42.8L250.0,23.0L250.2,8.2L250.5,15.0L250.8,35.7L251.1,47.3L251.4,36.9L251.7,16.1L251.9,8.0L252.2,21.7L252.5,41.8L252.8,46.1L253.1,29.7L253.4,11.0L253.6,10.7L253.9,29.1L254.2,45.8L254.5,42.1L254.8,22.3L255.1,8.3L255.3,15.8L255.6,36.3L255.9,47.1L256.2,36.1L256.5,15.7L256.8,8.5L257.0,22.5L257.3,42.1L257.6,45.5L257.9,28.9L258.2,10.9L258.5,11.4L258.7,29.9L259.0,45.7L259.3,41.4L259.6,21.6L259.9,8.5L260.2,16.6L260.5,36.8L260.7,46.7L261.0,35.3L261.3,15.3L261.6,9.0L261.9,23.3L262.2,42.3L262.4,44.8L262.7,28.2L263.0,10.8L263.3,12.1L263.6,30.6L263.9,45.6L264.1,40.5L264.4,21.1L264.7,8.9L265.0,17.5L265.3,37.2L265.6,46.2L265.8,34.4L266.1,15.0L266.4,9.6L266.7,24.1L267.0,42.4L267.3,44.1L267.5,27.4L267.8,10.9L268.1,12.9L268.4,31.2L268.7,45.3L269.0,39.7L269.2,20.6L269.5,9.3L269.8,18.3L270.1,37.6L270.4,45.7L270.7,33.6L270.9,14.8L271.2,10.3L271.5,24.9L271.8,42.4L272.1,43.3L272.4,26.7L272.6,11.1L272.9,13.8L273.2,31.8L273.5,45.0L273.8,38.8L274.1,20.1L274.3,9.8L274.6,19.2L274.9,37.9L275.2,45.0L275.5,32.7L275.8,14.7L276.0,11.0L276.3,25.7L276.6,42.4L276.9,42.5L277.2,26.0L277.5,11.3L277.7,14.7L278.0,32.3L278.3,44.6L278.6,37.9L278.9,19.7L279.2,10.3L279.4,20.1L279.7,38.1L280.0,44.3L280.3,31.9L280.6,14.7L280.9,11.8L281.1,26.4L281.4,42.2L281.7,41.6L282.0,25.4L282.3,11.7L282.6,15.6L282.8,32.8L283.1,44.1L283.4,37.0L283.7,19.4L284.0,11.0L284.3,20.9L284.5,38.2L284.8,43.5L285.1,31.1L285.4,14.8L285.7,12.7L286.0,27.1L286.3,41.9L286.5,40.7L286.8,24.9L287.1,12.1L287.4,16.5L287.7,33.2L288.0,43.5L288.2,36.1L288.5,19.2L288.8,11.7L289.1,21.8L289.4,38.2L289.7,42.7L289.9,30.4L290.2,14.9L290.5,13.6L290.8,27.7L291.1,41.6L291.4,39.8L291.6,24.4L291.9,12.6L292.2,17.4L292.5,33.5L292.8,42.8L293.1,35.2L293.3,19.1L293.6,12.5L293.9,22.6L294.2,38.2L294.5,41.9L294.8,29.6L295.0,15.2L295.3,14.5L295.6,28.3L295.9,41.2L296.2,38.8L296.5,24.0L296.7,13.2L297.0,18.4L297.3,33.7L297.6,42.1L297.9,34.3L298.2,19.0L298.4,13.3L298.7,23.4L299.0,38.0L299.3,40.9L299.6,29.0L299.9,15.5L300.1,15.5L300.4,28.8L300.7,40.7L301.0,37.9L301.3,23.6L301.6,13.8L301.8,19.3L302.1,33.9L302.4,41.4L302.7,33.5L303.0,19.1L303.3,14.2L303.5,24.1L303.8,37.8L304.1,40.0L304.4,28.4L304.7,15.9L305.0,16.4L305.2,29.3L305.5,40.1L305.8,36.9L306.1,23.4L306.4,14.5L306.7,20.2L306.9,34.0L307.2,40.5L307.5,32.7L307.8,19.2L308.1,15.1L308.4,24.8L308.6,37.5L308.9,39.1L309.2,27.8L309.5,16.4L309.8,17.4L310.1,29.7L310.3,39.5L310.6,36.0L310.9,23.2L311.2,15.3L311.5,21.1L311.8,34.0L312.1,39.7L312.3,31.9L312.6,19.4L312.9,16.0L313.2,25.5L313.5,37.2L313.8,38.1L314.0,27.3L314.3,16.9L314.6,18.3L314.9,30.0L315.2,38.8L315.5,35.1L315.7,23.0L316.0,16.1L316.3,21.9L316.6,33.9L316.9,38.8L317.2,31.2L317.4,19.6L317.7,16.9L318.0,26.0L318.3,36.7L318.6,37.2L318.9,26.9L319.1,17.5L319.4,19.3L319.7,30.2L320.0,38.1L320.3,34.2L320.6,23.0L320.8,16.9L321.1,22.7L321.4,33.8L321.7,37.9L322.0,30.5L322.3,19.9L322.5,17.9L322.8,26.6L323.1,36.3L323.4,36.2L323.7,26.6L324.0,18.1L324.2,20.2L324.5,30.4L324.8,37.4L325.1,33.4L325.4,23.0L325.7,17.8L325.9,23.4L326.2,33.6L326.5,37.0L326.8,29.9L327.1,20.3L327.4,18.8L327.6,27.0L327.9,35.7L328.2,35.3L328.5,26.3L328.8,18.8L329.1,21.0L329.3,30.5L329.6,36.6L329.9,32.6L330.2,23.1L330.5,18.6L330.8,24.1L331.0,33.3L331.3,36.1L331.6,29.4L331.9,20.7L332.2,19.7L332.5,27.4L332.7,35.2L333.0,34.4L333.3,26.1L333.6,19.5L333.9,21.9L334.2,30.5L334.4,35.8L334.7,31.9L335.0,23.2L335.3,19.5L335.6,24.7L335.9,33.0L336.1,35.2L336.4,28.9L336.7,21.2L337.0,20.6L337.3,27.7L337.6,34.6L337.9,33.6L338.1,25.9L338.4,20.2L338.7,22.7L339.0,30.5L339.3,35.0L339.6,31.2L339.8,23.4L340.1,20.3L340.4,25.3L340.7,32.7L341.0,34.3L341.3,28.5L341.5,21.7L341.8,21.5L342.1,28.0L342.4,33.9L342.7,32.7L343.0,25.8L343.2,20.9L343.5,23.4L343.8,30.4L344.1,34.2L344.4,30.6L344.7,23.7L344.9,21.2L345.2,25.8L345.5,32.3L345.8,33.5L346.1,28.1L346.4,22.2L346.6,22.3L346.9,28.2L347.2,33.3L347.5,32.0L347.8,25.8L348.1,21.6L348.3,24.1L348.6,30.3L348.9,33.4L349.2,30.0L349.5,23.9L349.8,22.0L350.0,26.2L350.3,31.8L350.6,32.7L350.9,27.8L351.2,22.8L351.5,23.0L351.7,28.3L352.0,32.6L352.3,31.3L352.6,25.8L352.9,22.4L353.2,24.7L353.4,30.1L353.7,32.6L354.0,29.5L354.3,24.3L354.6,22.7L354.9,26.6L355.1,31.4L355.4,31.9L355.7,27.6L356.0,23.3L356.3,23.8L356.6,28.4L356.8,32.0L357.1,30.6L357.4,25.9L357.7,23.1L358.0,25.2L358.3,29.9L358.5,31.9L358.8,29.1L359.1,24.6L359.4,23.5L359.7,26.9L360.0,30.9L360.2,31.2L360.5,27.4L360.8,23.9L361.1,24.4L361.4,28.4L361.7,31.4L361.9,30.1L362.2,26.0L362.5,23.7L362.8,25.7L363.1,29.7L363.4,31.2L363.7,28.7L363.9,25.0L364.2,24.2L364.5,27.1L364.8,30.5L365.1,30.6L365.4,27.3L365.6,24.4L365.9,25.0L366.2,28.4L366.5,30.8L366.8,29.6L367.1,26.1L367.3,24.4L367.6,26.1L367.9,29.4L368.2,30.6L368.5,28.4L368.8,25.3L369.0,24.8L369.3,27.3L369.6,30.0L369.9,30.0L370.2,27.3L370.5,24.9L370.7,25.5L371.0,28.4L371.3,30.2L371.6,29.1L371.9,26.3L372.2,25.0L372.4,26.5L372.7,29.1L373.0,30.0L373.3,28.1L373.6,25.7L373.9,25.4L374.1,27.4L374.4,29.6L374.7,29.4L375.0,27.2L375.3,25.4L375.6,26.0L375.8,28.3L376.1,29.7L376.4,28.7L376.7,26.5L377.0,25.5L377.3,26.8L377.5,28.9L377.8,29.5L378.1,27.9L378.4,26.0L378.7,25.9L379.0,27.5L379.2,29.2L379.5,29.0L379.8,27.2L380.1,25.9L380.4,26.4L380.7,28.2L380.9,29.2L381.2,28.4L381.5,26.7L381.8,26.0L382.1,27.0L382.4,28.6L382.6,29.0L382.9,27.8L383.2,26.4L383.5,26.3L383.8,27.6L384.1,28.8L384.3,28.6L384.6,27.3L384.9,26.3L385.2,26.7L385.5,28.1L385.8,28.8L386.0,28.1L386.3,26.9L386.6,26.4L386.9,27.2L387.2,28.3L387.5,28.6L387.7,27.7L388.0,26.7L388.3,26.7L388.6,27.6L388.9,28.5L389.2,28.3L389.5,27.3L389.7,26.7L390.0,27.0L390.3,27.9L390.6,28.4L390.9,27.9L391.2,27.1L391.4,26.8L391.7,27.3L392.0,28.1L392.3,28.2L392.6,27.6L392.9,27.0L393.1,27.0L393.4,27.6L393.7,28.2L394.0,28.0L394.3,27.4L394.6,27.0L394.8,27.2L395.1,27.8L395.4,28.1L395.7,27.8L396.0,27.2L396.3,27.1L396.5,27.4L396.8,27.9L397.1,28.0L397.4,27.6L397.7,27.2L398.0,27.2L398.2,27.6L398.5,27.9L398.8,27.8L399.1,27.4L399.4,27.2L399.7,27.4L399.9,27.7L400.2,27.9L400.5,27.7L400.8,27.4L401.1,27.3L401.4,27.5L401.6,27.7L401.9,27.8L402.2,27.6L402.5,27.4L402.8,27.4L403.1,27.6L403.3,27.7L403.6,27.7L403.9,27.5L404.2,27.4L404.5,27.5L404.8,27.6L405.0,27.7L405.3,27.6L405.6,27.5L405.9,27.4L406.2,27.5L406.5,27.6L406.7,27.6L407.0,27.5L407.3,27.5L407.6,27.5L407.9,27.6L408.2,27.6L408.4,27.6L408.7,27.5L409.0,27.5L409.3,27.5L409.6,27.6L409.9,27.6L410.1,27.6L410.4,27.5L410.7,27.5L411.0,27.5L411.3,27.6L411.6,27.6L411.8,27.5L412.1,27.5L412.4,27.5L412.7,27.6L413.0,27.6L413.3,27.6L413.5,27.5L413.8,27.5L414.1,27.5L414.4,27.6" stroke="#1e8ad6" stroke-width="0.95"/><path d="M51.5,27.6L51.8,27.6L52.1,27.6L52.4,27.5L52.6,27.5L52.9,27.5L53.2,27.6L53.5,27.6L53.8,27.6L54.1,27.6L54.3,27.5L54.6,27.5L54.9,27.5L55.2,27.6L55.5,27.6L55.8,27.6L56.0,27.5L56.3,27.5L56.6,27.5L56.9,27.5L57.2,27.6L57.5,27.6L57.7,27.6L58.0,27.5L58.3,27.5L58.6,27.5L58.9,27.6L59.2,27.6L59.4,27.6L59.7,27.6L60.0,27.5L60.3,27.5L60.6,27.5L60.9,27.6L61.1,27.6L61.4,27.6L61.7,27.6L62.0,27.5L62.3,27.5L62.6,27.5L62.8,27.6L63.1,27.6L63.4,27.6L63.7,27.5L64.0,27.5L64.3,27.5L64.5,27.5L64.8,27.6L65.1,27.6L65.4,27.6L65.7,27.5L66.0,27.4L66.2,27.5L66.5,27.6L66.8,27.7L67.1,27.7L67.4,27.6L67.7,27.5L67.9,27.4L68.2,27.5L68.5,27.6L68.8,27.7L69.1,27.7L69.4,27.5L69.6,27.4L69.9,27.4L70.2,27.5L70.5,27.7L70.8,27.7L71.1,27.6L71.3,27.5L71.6,27.3L71.9,27.4L72.2,27.6L72.5,27.7L72.8,27.8L73.0,27.6L73.3,27.4L73.6,27.3L73.9,27.4L74.2,27.6L74.5,27.8L74.7,27.8L75.0,27.5L75.3,27.3L75.6,27.3L75.9,27.5L76.2,27.7L76.4,27.9L76.7,27.7L77.0,27.4L77.3,27.2L77.6,27.3L77.9,27.6L78.2,27.8L78.4,27.9L78.7,27.7L79.0,27.3L79.3,27.2L79.6,27.3L79.9,27.7L80.1,27.9L80.4,27.9L80.7,27.6L81.0,27.2L81.3,27.1L81.6,27.4L81.8,27.8L82.1,28.0L82.4,27.9L82.7,27.4L83.0,27.1L83.3,27.1L83.5,27.5L83.8,27.9L84.1,28.1L84.4,27.8L84.7,27.3L85.0,27.0L85.2,27.2L85.5,27.7L85.8,28.1L86.1,28.1L86.4,27.6L86.7,27.1L86.9,26.9L87.2,27.3L87.5,27.8L87.8,28.2L88.1,28.0L88.4,27.5L88.6,26.9L88.9,26.9L89.2,27.4L89.5,28.0L89.8,28.3L90.1,27.9L90.3,27.3L90.6,26.8L90.9,27.0L91.2,27.6L91.5,28.2L91.8,28.3L92.0,27.8L92.3,27.0L92.6,26.7L92.9,27.1L93.2,27.9L93.5,28.4L93.7,28.2L94.0,27.5L94.3,26.8L94.6,26.7L94.9,27.3L95.2,28.1L95.4,28.5L95.7,28.1L96.0,27.3L96.3,26.6L96.6,26.7L96.9,27.5L97.1,28.4L97.4,28.5L97.7,27.9L98.0,27.0L98.3,26.5L98.6,26.9L98.8,27.8L99.1,28.6L99.4,28.5L99.7,27.6L100.0,26.7L100.3,26.4L100.5,27.1L100.8,28.2L101.1,28.7L101.4,28.4L101.7,27.3L102.0,26.4L102.2,26.5L102.5,27.4L102.8,28.5L103.1,28.8L103.4,28.1L103.7,26.9L104.0,26.2L104.2,26.6L104.5,27.8L104.8,28.8L105.1,28.8L105.4,27.8L105.7,26.6L105.9,26.1L106.2,26.9L106.5,28.2L106.8,29.0L107.1,28.6L107.4,27.4L107.6,26.2L107.9,26.2L108.2,27.2L108.5,28.6L108.8,29.1L109.1,28.4L109.3,26.9L109.6,26.0L109.9,26.3L110.2,27.7L110.5,28.9L110.8,29.1L111.0,28.0L111.3,26.5L111.6,25.8L111.9,26.6L112.2,28.1L112.5,29.2L112.7,29.0L113.0,27.5L113.3,26.1L113.6,25.8L113.9,27.0L114.2,28.6L114.4,29.4L114.7,28.7L115.0,27.0L115.3,25.8L115.6,26.0L115.9,27.5L116.1,29.1L116.4,29.4L116.7,28.3L117.0,26.5L117.3,25.5L117.6,26.3L117.8,28.0L118.1,29.4L118.4,29.3L118.7,27.7L119.0,26.0L119.3,25.5L119.5,26.7L119.8,28.6L120.1,29.7L120.4,29.0L120.7,27.1L121.0,25.6L121.2,25.6L121.5,27.2L121.8,29.2L122.1,29.8L122.4,28.6L122.7,26.5L122.9,25.3L123.2,25.9L123.5,27.9L123.8,29.6L124.1,29.7L124.4,28.0L124.6,25.9L124.9,25.1L125.2,26.3L125.5,28.6L125.8,30.0L126.1,29.4L126.3,27.3L126.6,25.4L126.9,25.2L127.2,26.9L127.5,29.2L127.8,30.1L128.0,29.0L128.3,26.6L128.6,25.0L128.9,25.5L129.2,27.7L129.5,29.8L129.8,30.1L130.0,28.3L130.3,25.9L130.6,24.8L130.9,25.9L131.2,28.4L131.5,30.2L131.7,29.8L132.0,27.6L132.3,25.3L132.6,24.8L132.9,26.6L133.2,29.2L133.4,30.5L133.7,29.4L134.0,26.8L134.3,24.8L134.6,25.0L134.9,27.4L135.1,29.9L135.4,30.5L135.7,28.7L136.0,25.9L136.3,24.5L136.6,25.5L136.8,28.2L137.1,30.4L137.4,30.3L137.7,27.9L138.0,25.2L138.3,24.4L138.5,26.2L138.8,29.1L139.1,30.8L139.4,29.8L139.7,27.0L140.0,24.6L140.2,24.6L140.5,27.0L140.8,29.9L141.1,30.9L141.4,29.1L141.7,26.1L141.9,24.2L142.2,25.0L142.5,28.0L142.8,30.6L143.1,30.7L143.4,28.3L143.6,25.2L143.9,24.0L144.2,25.7L144.5,29.0L144.8,31.1L145.1,30.3L145.3,27.3L145.6,24.5L145.9,24.1L146.2,26.6L146.5,29.9L146.8,31.3L147.0,29.6L147.3,26.3L147.6,23.9L147.9,24.5L148.2,27.6L148.5,30.7L148.7,31.2L149.0,28.7L149.3,25.3L149.6,23.7L149.9,25.2L150.2,28.7L150.4,31.3L150.7,30.8L151.0,27.7L151.3,24.4L151.6,23.7L151.9,26.1L152.1,29.8L152.4,31.6L152.7,30.1L153.0,26.5L153.3,23.7L153.6,24.1L153.8,27.2L154.1,30.7L154.4,31.6L154.7,29.2L155.0,25.4L155.3,23.3L155.6,24.7L155.8,28.4L156.1,31.4L156.4,31.3L156.7,28.1L157.0,24.4L157.3,23.3L157.5,25.6L157.8,29.6L158.1,31.9L158.4,30.7L158.7,26.9L159.0,23.6L159.2,23.6L159.5,26.8L159.8,30.6L160.1,32.0L160.4,29.7L160.7,25.7L160.9,23.1L161.2,24.2L161.5,28.0L161.8,31.5L162.1,31.8L162.4,28.6L162.6,24.5L162.9,22.9L163.2,25.1L163.5,29.3L163.8,32.1L164.1,31.2L164.3,27.3L164.6,23.6L164.9,23.1L165.2,26.2L165.5,30.5L165.8,32.4L166.0,30.3L166.3,26.0L166.6,22.9L166.9,23.6L167.2,27.6L167.5,31.5L167.7,32.2L168.0,29.1L168.3,24.7L168.6,22.6L168.9,24.5L169.2,28.9L169.4,32.3L169.7,31.7L170.0,27.8L170.3,23.6L170.6,22.6L170.9,25.7L171.1,30.3L171.4,32.7L171.7,30.9L172.0,26.4L172.3,22.8L172.6,23.1L172.8,27.1L173.1,31.4L173.4,32.7L173.7,29.7L174.0,25.0L174.3,22.3L174.5,23.9L174.8,28.5L175.1,32.3L175.4,32.3L175.7,28.3L176.0,23.7L176.2,22.3L176.5,25.1L176.8,30.0L177.1,32.9L177.4,31.5L177.7,26.8L177.9,22.8L178.2,22.6L178.5,26.5L178.8,31.3L179.1,33.0L179.4,30.3L179.6,25.3L179.9,22.1L180.2,23.4L180.5,28.0L180.8,32.3L181.1,32.7L181.4,28.9L181.6,24.0L181.9,21.9L182.2,24.5L182.5,29.6L182.8,33.0L183.1,32.0L183.3,27.4L183.6,22.8L183.9,22.1L184.2,25.9L184.5,31.0L184.8,33.3L185.0,30.9L185.3,25.8L185.6,22.0L185.9,22.8L186.2,27.5L186.5,32.2L186.7,33.2L187.0,29.5L187.3,24.3L187.6,21.7L187.9,23.9L188.2,29.1L188.4,33.1L188.7,32.6L189.0,27.9L189.3,23.0L189.6,21.7L189.9,25.3L190.1,30.6L190.4,33.5L190.7,31.5L191.0,26.3L191.3,22.0L191.6,22.3L191.8,26.9L192.1,32.0L192.4,33.5L192.7,30.2L193.0,24.7L193.3,21.5L193.5,23.3L193.8,28.6L194.1,33.0L194.4,33.0L194.7,28.6L195.0,23.2L195.2,21.4L195.5,24.6L195.8,30.2L196.1,33.7L196.4,32.1L196.7,26.8L196.9,22.1L197.2,21.8L197.5,26.2L197.8,31.7L198.1,33.8L198.4,30.8L198.6,25.1L198.9,21.4L199.2,22.7L199.5,28.0L199.8,32.9L200.1,33.5L200.3,29.2L200.6,23.6L200.9,21.2L201.2,24.0L201.5,29.7L201.8,33.7L202.0,32.7L202.3,27.5L202.6,22.3L202.9,21.4L203.2,25.6L203.5,31.3L203.7,34.0L204.0,31.4L204.3,25.7L204.6,21.4L204.9,22.2L205.2,27.3L205.4,32.7L205.7,33.8L206.0,29.9L206.3,24.0L206.6,21.0L206.9,23.4L207.2,29.1L207.4,33.6L207.7,33.2L208.0,28.1L208.3,22.6L208.6,21.1L208.9,24.9L209.1,30.9L209.4,34.1L209.7,32.0L210.0,26.3L210.3,21.5L210.6,21.7L210.8,26.7L211.1,32.3L211.4,34.1L211.7,30.5L212.0,24.5L212.3,21.0L212.5,22.8L212.8,28.5L213.1,33.5L213.4,33.6L213.7,28.8L214.0,23.0L214.2,20.9L214.5,24.2L214.8,30.3L215.1,34.1L215.4,32.6L215.7,26.9L215.9,21.8L216.2,21.3L216.5,26.0L216.8,31.9L217.1,34.3L217.4,31.2L217.6,25.1L217.9,21.0L218.2,22.3L218.5,27.9L218.8,33.2L219.1,33.9L219.3,29.5L219.6,23.4L219.9,20.7L220.2,23.6L220.5,29.7L220.8,34.1L221.0,33.1L221.3,27.6L221.6,22.1L221.9,21.0L222.2,25.3L222.5,31.4L222.7,34.4L223.0,31.8L223.3,25.7L223.6,21.1L223.9,21.8L224.2,27.2L224.4,32.9L224.7,34.2L225.0,30.1L225.3,23.9L225.6,20.7L225.9,23.1L226.1,29.1L226.4,33.9L226.7,33.5L227.0,28.3L227.3,22.5L227.6,20.8L227.8,24.7L228.1,30.9L228.4,34.4L228.7,32.3L229.0,26.3L229.3,21.4L229.5,21.4L229.8,26.5L230.1,32.4L230.4,34.4L230.7,30.8L231.0,24.5L231.2,20.8L231.5,22.5L231.8,28.4L232.1,33.6L232.4,33.8L232.7,28.9L232.9,22.9L233.2,20.7L233.5,24.0L233.8,30.3L234.1,34.3L234.4,32.8L234.7,27.0L234.9,21.7L235.2,21.1L235.5,25.8L235.8,31.9L236.1,34.4L236.4,31.3L236.6,25.2L236.9,20.9L237.2,22.1L237.5,27.7L237.8,33.2L238.1,34.1L238.3,29.6L238.6,23.5L238.9,20.7L239.2,23.5L239.5,29.6L239.8,34.1L240.0,33.2L240.3,27.7L240.6,22.1L240.9,21.0L241.2,25.2L241.5,31.3L241.7,34.4L242.0,31.9L242.3,25.8L242.6,21.2L242.9,21.7L243.2,27.0L243.4,32.8L243.7,34.2L244.0,30.2L244.3,24.1L244.6,20.8L244.9,23.0L245.1,28.9L245.4,33.8L245.7,33.5L246.0,28.4L246.3,22.6L246.6,20.9L246.8,24.6L247.1,30.7L247.4,34.3L247.7,32.3L248.0,26.5L248.3,21.5L248.5,21.5L248.8,26.4L249.1,32.2L249.4,34.3L249.7,30.8L250.0,24.7L250.2,20.9L250.5,22.6L250.8,28.3L251.1,33.4L251.4,33.7L251.7,29.0L251.9,23.1L252.2,20.9L252.5,24.0L252.8,30.1L253.1,34.0L253.4,32.7L253.6,27.2L253.9,22.0L254.2,21.3L254.5,25.8L254.8,31.7L255.1,34.2L255.3,31.3L255.6,25.4L255.9,21.2L256.2,22.2L256.5,27.6L256.8,32.9L257.0,33.8L257.3,29.6L257.6,23.7L257.9,21.0L258.2,23.6L258.5,29.4L258.7,33.7L259.0,33.0L259.3,27.8L259.6,22.5L259.9,21.2L260.2,25.2L260.5,31.0L260.7,34.0L261.0,31.7L261.3,26.0L261.6,21.6L261.9,22.0L262.2,27.0L262.4,32.4L262.7,33.9L263.0,30.2L263.3,24.4L263.6,21.2L263.9,23.2L264.1,28.7L264.4,33.3L264.7,33.2L265.0,28.5L265.3,23.0L265.6,21.3L265.8,24.7L266.1,30.4L266.4,33.8L266.7,32.1L267.0,26.7L267.3,22.0L267.5,21.9L267.8,26.3L268.1,31.8L268.4,33.8L268.7,30.7L269.0,25.0L269.2,21.5L269.5,22.9L269.8,28.1L270.1,32.9L270.4,33.3L270.7,29.0L270.9,23.6L271.2,21.4L271.5,24.2L271.8,29.8L272.1,33.5L272.4,32.4L272.6,27.3L272.9,22.5L273.2,21.8L273.5,25.8L273.8,31.2L274.1,33.6L274.3,31.1L274.6,25.7L274.9,21.8L275.2,22.7L275.5,27.5L275.8,32.3L276.0,33.3L276.3,29.6L276.6,24.2L276.9,21.6L277.2,23.9L277.5,29.1L277.7,33.1L278.0,32.5L278.3,27.9L278.6,23.0L278.9,21.9L279.2,25.3L279.4,30.6L279.7,33.4L280.0,31.4L280.3,26.3L280.6,22.3L280.9,22.5L281.1,26.9L281.4,31.8L281.7,33.2L282.0,30.0L282.3,24.8L282.6,21.9L282.8,23.6L283.1,28.5L283.4,32.6L283.7,32.6L284.0,28.5L284.3,23.6L284.5,22.0L284.8,24.9L285.1,30.0L285.4,33.0L285.7,31.6L286.0,26.9L286.3,22.7L286.5,22.5L286.8,26.4L287.1,31.2L287.4,33.0L287.7,30.4L288.0,25.4L288.2,22.3L288.5,23.4L288.8,27.9L289.1,32.1L289.4,32.6L289.7,28.9L289.9,24.2L290.2,22.2L290.5,24.6L290.8,29.4L291.1,32.6L291.4,31.8L291.6,27.5L291.9,23.3L292.2,22.6L292.5,25.9L292.8,30.6L293.1,32.7L293.3,30.6L293.6,26.0L293.9,22.7L294.2,23.3L294.5,27.4L294.8,31.6L295.0,32.5L295.3,29.3L295.6,24.8L295.9,22.5L296.2,24.3L296.5,28.8L296.7,32.2L297.0,31.8L297.3,28.0L297.6,23.8L297.9,22.7L298.2,25.6L298.4,30.0L298.7,32.4L299.0,30.8L299.3,26.6L299.6,23.2L299.9,23.3L300.1,26.9L300.4,31.0L300.7,32.3L301.0,29.7L301.3,25.4L301.6,22.9L301.8,24.2L302.1,28.2L302.4,31.7L302.7,31.8L303.0,28.4L303.3,24.4L303.5,23.0L303.8,25.3L304.1,29.5L304.4,32.0L304.7,30.9L305.0,27.1L305.2,23.7L305.5,23.4L305.8,26.5L306.1,30.5L306.4,32.0L306.7,29.9L306.9,25.9L307.2,23.3L307.5,24.1L307.8,27.8L308.1,31.2L308.4,31.6L308.6,28.8L308.9,24.9L309.2,23.2L309.5,25.1L309.8,28.9L310.1,31.6L310.3,31.0L310.6,27.6L310.9,24.2L311.2,23.6L311.5,26.2L311.8,29.9L312.1,31.7L312.3,30.1L312.6,26.4L312.9,23.7L313.2,24.1L313.5,27.3L313.8,30.7L314.0,31.4L314.3,29.0L314.6,25.4L314.9,23.6L315.2,25.0L315.5,28.4L315.7,31.2L316.0,30.9L316.3,27.9L316.6,24.7L316.9,23.8L317.2,25.9L317.4,29.4L317.7,31.3L318.0,30.2L318.3,26.9L318.6,24.2L318.9,24.2L319.1,27.0L319.4,30.2L319.7,31.2L320.0,29.2L320.3,25.9L320.6,24.0L320.8,24.9L321.1,28.0L321.4,30.7L321.7,30.8L322.0,28.3L322.3,25.2L322.5,24.1L322.8,25.8L323.1,28.9L323.4,30.9L323.7,30.2L324.0,27.3L324.2,24.6L324.5,24.4L324.8,26.7L325.1,29.7L325.4,30.9L325.7,29.4L325.9,26.4L326.2,24.4L326.5,25.0L326.8,27.6L327.1,30.2L327.4,30.6L327.6,28.5L327.9,25.6L328.2,24.4L328.5,25.7L328.8,28.5L329.1,30.5L329.3,30.1L329.6,27.6L329.9,25.1L330.2,24.6L330.5,26.5L330.8,29.2L331.0,30.6L331.3,29.4L331.6,26.8L331.9,24.8L332.2,25.1L332.5,27.3L332.7,29.8L333.0,30.4L333.3,28.7L333.6,26.1L333.9,24.7L334.2,25.7L334.4,28.1L334.7,30.1L335.0,30.0L335.3,27.9L335.6,25.5L335.9,24.9L336.1,26.4L336.4,28.8L336.7,30.2L337.0,29.4L337.3,27.1L337.6,25.2L337.9,25.2L338.1,27.1L338.4,29.3L338.7,30.1L339.0,28.8L339.3,26.5L339.6,25.1L339.8,25.7L340.1,27.8L340.4,29.7L340.7,29.8L341.0,28.1L341.3,26.0L341.5,25.2L341.8,26.3L342.1,28.4L342.4,29.8L342.7,29.3L343.0,27.4L343.2,25.6L343.5,25.4L343.8,26.9L344.1,28.9L344.4,29.8L344.7,28.8L344.9,26.8L345.2,25.5L345.5,25.8L345.8,27.6L346.1,29.3L346.4,29.6L346.6,28.2L346.9,26.3L347.2,25.5L347.5,26.3L347.8,28.1L348.1,29.5L348.3,29.2L348.6,27.6L348.9,26.0L349.2,25.6L349.5,26.8L349.8,28.6L350.0,29.5L350.3,28.8L350.6,27.1L350.9,25.8L351.2,26.0L351.5,27.4L351.7,28.9L352.0,29.3L352.3,28.3L352.6,26.7L352.9,25.8L353.2,26.3L353.4,27.9L353.7,29.1L354.0,29.1L354.3,27.8L354.6,26.3L354.9,25.9L355.1,26.8L355.4,28.3L355.7,29.2L356.0,28.7L356.3,27.3L356.6,26.1L356.8,26.1L357.1,27.3L357.4,28.6L357.7,29.1L358.0,28.3L358.3,26.9L358.5,26.1L358.8,26.4L359.1,27.7L359.4,28.8L359.7,28.9L360.0,27.9L360.2,26.6L360.5,26.2L360.8,26.8L361.1,28.0L361.4,28.9L361.7,28.6L361.9,27.5L362.2,26.5L362.5,26.3L362.8,27.2L363.1,28.3L363.4,28.8L363.7,28.3L363.9,27.2L364.2,26.4L364.5,26.6L364.8,27.5L365.1,28.5L365.4,28.7L365.6,27.9L365.9,26.9L366.2,26.4L366.5,26.9L366.8,27.8L367.1,28.6L367.3,28.5L367.6,27.6L367.9,26.7L368.2,26.5L368.5,27.2L368.8,28.1L369.0,28.6L369.3,28.2L369.6,27.3L369.9,26.7L370.2,26.7L370.5,27.4L370.7,28.2L371.0,28.5L371.3,27.9L371.6,27.1L371.9,26.7L372.2,26.9L372.4,27.7L372.7,28.3L373.0,28.3L373.3,27.7L373.6,27.0L373.9,26.7L374.1,27.2L374.4,27.9L374.7,28.3L375.0,28.1L375.3,27.5L375.6,26.9L375.8,26.9L376.1,27.4L376.4,28.0L376.7,28.3L377.0,27.9L377.3,27.3L377.5,26.9L377.8,27.0L378.1,27.6L378.4,28.1L378.7,28.1L379.0,27.7L379.2,27.2L379.5,26.9L379.8,27.2L380.1,27.8L380.4,28.1L380.7,28.0L380.9,27.5L381.2,27.1L381.5,27.0L381.8,27.4L382.1,27.9L382.4,28.1L382.6,27.9L382.9,27.4L383.2,27.1L383.5,27.2L383.8,27.5L384.1,27.9L384.3,28.0L384.6,27.7L384.9,27.3L385.2,27.1L385.5,27.3L385.8,27.7L386.0,27.9L386.3,27.9L386.6,27.6L386.9,27.3L387.2,27.2L387.5,27.4L387.7,27.7L388.0,27.9L388.3,27.8L388.6,27.5L388.9,27.2L389.2,27.3L389.5,27.5L389.7,27.8L390.0,27.8L390.3,27.7L390.6,27.4L390.9,27.3L391.2,27.4L391.4,27.6L391.7,27.8L392.0,27.8L392.3,27.6L392.6,27.4L392.9,27.3L393.1,27.4L393.4,27.6L393.7,27.8L394.0,27.7L394.3,27.5L394.6,27.4L394.8,27.4L395.1,27.5L395.4,27.7L395.7,27.7L396.0,27.6L396.3,27.5L396.5,27.4L396.8,27.4L397.1,27.6L397.4,27.7L397.7,27.7L398.0,27.6L398.2,27.5L398.5,27.4L398.8,27.5L399.1,27.6L399.4,27.7L399.7,27.6L399.9,27.5L400.2,27.5L400.5,27.5L400.8,27.5L401.1,27.6L401.4,27.6L401.6,27.6L401.9,27.5L402.2,27.5L402.5,27.5L402.8,27.5L403.1,27.6L403.3,27.6L403.6,27.6L403.9,27.5L404.2,27.5L404.5,27.5L404.8,27.6L405.0,27.6L405.3,27.6L405.6,27.6L405.9,27.5L406.2,27.5L406.5,27.5L406.7,27.6L407.0,27.6L407.3,27.6L407.6,27.5L407.9,27.5L408.2,27.5L408.4,27.5L408.7,27.6L409.0,27.6L409.3,27.6L409.6,27.5L409.9,27.5L410.1,27.5L410.4,27.6L410.7,27.6L411.0,27.6L411.3,27.6L411.6,27.5L411.8,27.5L412.1,27.5L412.4,27.6L412.7,27.6L413.0,27.6L413.3,27.5L413.5,27.5L413.8,27.5L414.1,27.5L414.4,27.6" stroke="#25a455" stroke-width="0.85"/></g><rect x="51.5" y="1.3" width="362.9" height="52.95" stroke="#000" stroke-width="0.85" fill="none"/><clipPath id="cm"><rect x="51.5" y="55.85" width="362.9" height="121.80000000000001"/></clipPath><g clip-path="url(#cm)" fill="none" stroke-linejoin="round"><path d="M51.5,56.8L51.8,56.9L52.2,56.9L52.5,56.9L52.9,56.9L53.2,56.9L53.5,56.9L53.9,56.9L54.2,56.9L54.6,56.9L54.9,56.9L55.2,56.9L55.6,56.9L55.9,56.9L56.3,56.9L56.6,56.9L56.9,56.9L57.3,56.9L57.6,56.9L58.0,56.9L58.3,56.9L58.6,56.9L59.0,56.9L59.3,56.9L59.7,56.9L60.0,56.9L60.3,56.9L60.7,56.9L61.0,56.9L61.4,56.9L61.7,56.9L62.0,56.9L62.4,56.9L62.7,56.9L63.1,56.9L63.4,56.9L63.7,56.9L64.1,56.9L64.4,56.9L64.8,56.9L65.1,56.9L65.4,56.9L65.8,56.9L66.1,56.9L66.5,56.9L66.8,56.9L67.2,56.9L67.5,56.9L67.8,56.9L68.2,56.9L68.5,56.9L68.9,56.9L69.2,56.9L69.5,56.9L69.9,56.9L70.2,56.9L70.6,56.9L70.9,56.9L71.2,56.9L71.6,56.9L71.9,56.9L72.3,56.9L72.6,56.9L72.9,56.9L73.3,56.9L73.6,56.9L74.0,56.9L74.3,56.9L74.6,56.9L75.0,56.9L75.3,56.9L75.7,56.9L76.0,56.9L76.3,56.9L76.7,56.9L77.0,56.9L77.4,56.9L77.7,56.9L78.0,56.9L78.4,56.9L78.7,56.9L79.1,56.9L79.4,56.9L79.7,56.9L80.1,56.9L80.4,56.9L80.8,56.9L81.1,56.9L81.4,56.9L81.8,56.9L82.1,56.9L82.5,56.9L82.8,56.9L83.1,56.9L83.5,56.9L83.8,56.9L84.2,56.9L84.5,56.9L84.8,56.9L85.2,56.9L85.5,56.9L85.9,56.9L86.2,56.9L86.5,56.9L86.9,56.9L87.2,56.9L87.6,56.9L87.9,56.9L88.2,56.9L88.6,56.9L88.9,56.9L89.3,56.9L89.6,56.9L89.9,56.9L90.3,56.9L90.6,56.9L91.0,56.9L91.3,56.9L91.6,56.9L92.0,56.9L92.3,56.9L92.7,56.9L93.0,56.9L93.3,56.9L93.7,56.9L94.0,56.9L94.4,56.9L94.7,56.9L95.0,56.9L95.4,56.9L95.7,56.9L96.1,56.9L96.4,56.9L96.7,56.9L97.1,56.9L97.4,56.9L97.8,56.9L98.1,56.9L98.5,56.9L98.8,56.9L99.1,56.9L99.5,56.9L99.8,56.9L100.2,56.9L100.5,56.9L100.8,56.9L101.2,56.9L101.5,56.9L101.9,56.9L102.2,56.9L102.5,56.9L102.9,56.9L103.2,56.9L103.6,57.0L103.9,57.0L104.2,57.0L104.6,57.0L104.9,57.0L105.3,57.0L105.6,57.0L105.9,57.0L106.3,57.0L106.6,57.0L107.0,57.0L107.3,57.0L107.6,57.0L108.0,57.0L108.3,57.0L108.7,57.0L109.0,57.0L109.3,57.0L109.7,57.0L110.0,57.1L110.4,57.1L110.7,57.1L111.0,57.1L111.4,57.1L111.7,57.1L112.1,57.1L112.4,57.1L112.7,57.1L113.1,57.1L113.4,57.1L113.8,57.1L114.1,57.1L114.4,57.2L114.8,57.2L115.1,57.2L115.5,57.2L115.8,57.2L116.1,57.2L116.5,57.2L116.8,57.2L117.2,57.2L117.5,57.3L117.8,57.3L118.2,57.3L118.5,57.3L118.9,57.3L119.2,57.3L119.5,57.3L119.9,57.3L120.2,57.4L120.6,57.4L120.9,57.4L121.2,57.4L121.6,57.4L121.9,57.4L122.3,57.5L122.6,57.5L122.9,57.5L123.3,57.5L123.6,57.5L124.0,57.5L124.3,57.6L124.6,57.6L125.0,57.6L125.3,57.6L125.7,57.6L126.0,57.7L126.3,57.7L126.7,57.7L127.0,57.7L127.4,57.7L127.7,57.8L128.0,57.8L128.4,57.8L128.7,57.8L129.1,57.9L129.4,57.9L129.8,57.9L130.1,57.9L130.4,58.0L130.8,58.0L131.1,58.0L131.5,58.1L131.8,58.1L132.1,58.1L132.5,58.1L132.8,58.2L133.2,58.2L133.5,58.2L133.8,58.3L134.2,58.3L134.5,58.3L134.9,58.4L135.2,58.4L135.5,58.4L135.9,58.5L136.2,58.5L136.6,58.5L136.9,58.6L137.2,58.6L137.6,58.7L137.9,58.7L138.3,58.7L138.6,58.8L138.9,58.8L139.3,58.9L139.6,58.9L140.0,59.0L140.3,59.0L140.6,59.0L141.0,59.1L141.3,59.1L141.7,59.2L142.0,59.2L142.3,59.3L142.7,59.3L143.0,59.4L143.4,59.4L143.7,59.5L144.0,59.5L144.4,59.6L144.7,59.7L145.1,59.7L145.4,59.8L145.7,59.8L146.1,59.9L146.4,59.9L146.8,60.0L147.1,60.1L147.4,60.1L147.8,60.2L148.1,60.3L148.5,60.3L148.8,60.4L149.1,60.5L149.5,60.5L149.8,60.6L150.2,60.7L150.5,60.7L150.8,60.8L151.2,60.9L151.5,61.0L151.9,61.0L152.2,61.1L152.5,61.2L152.9,61.3L153.2,61.3L153.6,61.4L153.9,61.5L154.2,61.6L154.6,61.7L154.9,61.8L155.3,61.8L155.6,61.9L155.9,62.0L156.3,62.1L156.6,62.2L157.0,62.3L157.3,62.4L157.6,62.5L158.0,62.6L158.3,62.7L158.7,62.8L159.0,62.9L159.3,63.0L159.7,63.1L160.0,63.2L160.4,63.3L160.7,63.4L161.1,63.5L161.4,63.6L161.7,63.7L162.1,63.8L162.4,63.9L162.8,64.0L163.1,64.1L163.4,64.2L163.8,64.4L164.1,64.5L164.5,64.6L164.8,64.7L165.1,64.8L165.5,65.0L165.8,65.1L166.2,65.2L166.5,65.3L166.8,65.5L167.2,65.6L167.5,65.7L167.9,65.9L168.2,66.0L168.5,66.1L168.9,66.3L169.2,66.4L169.6,66.5L169.9,66.7L170.2,66.8L170.6,67.0L170.9,67.1L171.3,67.3L171.6,67.4L171.9,67.6L172.3,67.7L172.6,67.9L173.0,68.0L173.3,68.2L173.6,68.3L174.0,68.5L174.3,68.6L174.7,68.8L175.0,69.0L175.3,69.1L175.7,69.3L176.0,69.5L176.4,69.6L176.7,69.8L177.0,70.0L177.4,70.2L177.7,70.3L178.1,70.5L178.4,70.7L178.7,70.9L179.1,71.0L179.4,71.2L179.8,71.4L180.1,71.6L180.4,71.8L180.8,72.0L181.1,72.2L181.5,72.4L181.8,72.6L182.1,72.7L182.5,72.9L182.8,73.1L183.2,73.3L183.5,73.5L183.8,73.7L184.2,74.0L184.5,74.2L184.9,74.4L185.2,74.6L185.5,74.8L185.9,75.0L186.2,75.2L186.6,75.4L186.9,75.6L187.2,75.9L187.6,76.1L187.9,76.3L188.3,76.5L188.6,76.8L188.9,77.0L189.3,77.2L189.6,77.4L190.0,77.7L190.3,77.9L190.6,78.1L191.0,78.4L191.3,78.6L191.7,78.9L192.0,79.1L192.4,79.3L192.7,79.6L193.0,79.8L193.4,80.1L193.7,80.3L194.1,80.6L194.4,80.8L194.7,81.1L195.1,81.3L195.4,81.6L195.8,81.8L196.1,82.1L196.4,82.4L196.8,82.6L197.1,82.9L197.5,83.1L197.8,83.4L198.1,83.7L198.5,83.9L198.8,84.2L199.2,84.5L199.5,84.8L199.8,85.0L200.2,85.3L200.5,85.6L200.9,85.9L201.2,86.2L201.5,86.4L201.9,86.7L202.2,87.0L202.6,87.3L202.9,87.6L203.2,87.9L203.6,88.2L203.9,88.4L204.3,88.7L204.6,89.0L204.9,89.3L205.3,89.6L205.6,89.9L206.0,90.2L206.3,90.5L206.6,90.8L207.0,91.1L207.3,91.4L207.7,91.7L208.0,92.0L208.3,92.3L208.7,92.7L209.0,93.0L209.4,93.3L209.7,93.6L210.0,93.9L210.4,94.2L210.7,94.5L211.1,94.8L211.4,95.2L211.7,95.5L212.1,95.8L212.4,96.1L212.8,96.4L213.1,96.8L213.4,97.1L213.8,97.4L214.1,97.7L214.5,98.1L214.8,98.4L215.1,98.7L215.5,99.0L215.8,99.4L216.2,99.7L216.5,100.0L216.8,100.4L217.2,100.7L217.5,101.0L217.9,101.4L218.2,101.7L218.5,102.0L218.9,102.4L219.2,102.7L219.6,103.1L219.9,103.4L220.2,103.7L220.6,104.1L220.9,104.4L221.3,104.8L221.6,105.1L221.9,105.4L222.3,105.8L222.6,106.1L223.0,106.5L223.3,106.8L223.7,107.2L224.0,107.5L224.3,107.9L224.7,108.2L225.0,108.6L225.4,108.9L225.7,109.3L226.0,109.6L226.4,110.0L226.7,110.3L227.1,110.7L227.4,111.0L227.7,111.4L228.1,111.7L228.4,112.1L228.8,112.4L229.1,112.8L229.4,113.1L229.8,113.5L230.1,113.8L230.5,114.2L230.8,114.5L231.1,114.9L231.5,115.2L231.8,115.6L232.2,115.9L232.5,116.3L232.8,116.6L233.2,117.0L233.5,117.3L233.9,117.7L234.2,118.0L234.5,118.4L234.9,118.7L235.2,119.1L235.6,119.5L235.9,119.8L236.2,120.2L236.6,120.5L236.9,120.9L237.3,121.2L237.6,121.6L237.9,121.9L238.3,122.3L238.6,122.6L239.0,123.0L239.3,123.3L239.6,123.7L240.0,124.0L240.3,124.4L240.7,124.7L241.0,125.1L241.3,125.4L241.7,125.8L242.0,126.1L242.4,126.4L242.7,126.8L243.0,127.1L243.4,127.5L243.7,127.8L244.1,128.2L244.4,128.5L244.7,128.9L245.1,129.2L245.4,129.5L245.8,129.9L246.1,130.2L246.4,130.6L246.8,130.9L247.1,131.2L247.5,131.6L247.8,131.9L248.1,132.2L248.5,132.6L248.8,132.9L249.2,133.2L249.5,133.6L249.8,133.9L250.2,134.2L250.5,134.6L250.9,134.9L251.2,135.2L251.5,135.5L251.9,135.9L252.2,136.2L252.6,136.5L252.9,136.8L253.2,137.2L253.6,137.5L253.9,137.8L254.3,138.1L254.6,138.4L255.0,138.8L255.3,139.1L255.6,139.4L256.0,139.7L256.3,140.0L256.7,140.3L257.0,140.6L257.3,141.0L257.7,141.3L258.0,141.6L258.4,141.9L258.7,142.2L259.0,142.5L259.4,142.8L259.7,143.1L260.1,143.4L260.4,143.7L260.7,144.0L261.1,144.3L261.4,144.6L261.8,144.9L262.1,145.2L262.4,145.4L262.8,145.7L263.1,146.0L263.5,146.3L263.8,146.6L264.1,146.9L264.5,147.2L264.8,147.4L265.2,147.7L265.5,148.0L265.8,148.3L266.2,148.6L266.5,148.8L266.9,149.1L267.2,149.4L267.5,149.6L267.9,149.9L268.2,150.2L268.6,150.4L268.9,150.7L269.2,151.0L269.6,151.2L269.9,151.5L270.3,151.7L270.6,152.0L270.9,152.3L271.3,152.5L271.6,152.8L272.0,153.0L272.3,153.3L272.6,153.5L273.0,153.8L273.3,154.0L273.7,154.2L274.0,154.5L274.3,154.7L274.7,155.0L275.0,155.2L275.4,155.4L275.7,155.7L276.0,155.9L276.4,156.1L276.7,156.4L277.1,156.6L277.4,156.8L277.7,157.0L278.1,157.3L278.4,157.5L278.8,157.7L279.1,157.9L279.4,158.1L279.8,158.4L280.1,158.6L280.5,158.8L280.8,159.0L281.1,159.2L281.5,159.4L281.8,159.6L282.2,159.8L282.5,160.0L282.8,160.2L283.2,160.4L283.5,160.6L283.9,160.8L284.2,161.0L284.5,161.2L284.9,161.4L285.2,161.6L285.6,161.8L285.9,162.0L286.3,162.1L286.6,162.3L286.9,162.5L287.3,162.7L287.6,162.9L288.0,163.1L288.3,163.2L288.6,163.4L289.0,163.6L289.3,163.7L289.7,163.9L290.0,164.1L290.3,164.3L290.7,164.4L291.0,164.6L291.4,164.7L291.7,164.9L292.0,165.1L292.4,165.2L292.7,165.4L293.1,165.5L293.4,165.7L293.7,165.8L294.1,166.0L294.4,166.1L294.8,166.3L295.1,166.4L295.4,166.6L295.8,166.7L296.1,166.9L296.5,167.0L296.8,167.1L297.1,167.3L297.5,167.4L297.8,167.5L298.2,167.7L298.5,167.8L298.8,167.9L299.2,168.1L299.5,168.2L299.9,168.3L300.2,168.5L300.5,168.6L300.9,168.7L301.2,168.8L301.6,168.9L301.9,169.1L302.2,169.2L302.6,169.3L302.9,169.4L303.3,169.5L303.6,169.6L303.9,169.7L304.3,169.8L304.6,170.0L305.0,170.1L305.3,170.2L305.6,170.3L306.0,170.4L306.3,170.5L306.7,170.6L307.0,170.7L307.3,170.8L307.7,170.9L308.0,171.0L308.4,171.1L308.7,171.2L309.0,171.2L309.4,171.3L309.7,171.4L310.1,171.5L310.4,171.6L310.7,171.7L311.1,171.8L311.4,171.9L311.8,171.9L312.1,172.0L312.4,172.1L312.8,172.2L313.1,172.3L313.5,172.3L313.8,172.4L314.1,172.5L314.5,172.6L314.8,172.6L315.2,172.7L315.5,172.8L315.8,172.9L316.2,172.9L316.5,173.0L316.9,173.1L317.2,173.1L317.6,173.2L317.9,173.3L318.2,173.3L318.6,173.4L318.9,173.5L319.3,173.5L319.6,173.6L319.9,173.6L320.3,173.7L320.6,173.7L321.0,173.8L321.3,173.9L321.6,173.9L322.0,174.0L322.3,174.0L322.7,174.1L323.0,174.1L323.3,174.2L323.7,174.2L324.0,174.3L324.4,174.3L324.7,174.4L325.0,174.4L325.4,174.5L325.7,174.5L326.1,174.6L326.4,174.6L326.7,174.6L327.1,174.7L327.4,174.7L327.8,174.8L328.1,174.8L328.4,174.8L328.8,174.9L329.1,174.9L329.5,175.0L329.8,175.0L330.1,175.0L330.5,175.1L330.8,175.1L331.2,175.1L331.5,175.2L331.8,175.2L332.2,175.2L332.5,175.3L332.9,175.3L333.2,175.3L333.5,175.4L333.9,175.4L334.2,175.4L334.6,175.5L334.9,175.5L335.2,175.5L335.6,175.5L335.9,175.6L336.3,175.6L336.6,175.6L336.9,175.6L337.3,175.7L337.6,175.7L338.0,175.7L338.3,175.7L338.6,175.8L339.0,175.8L339.3,175.8L339.7,175.8L340.0,175.8L340.3,175.9L340.7,175.9L341.0,175.9L341.4,175.9L341.7,175.9L342.0,176.0L342.4,176.0L342.7,176.0L343.1,176.0L343.4,176.0L343.7,176.1L344.1,176.1L344.4,176.1L344.8,176.1L345.1,176.1L345.4,176.1L345.8,176.1L346.1,176.2L346.5,176.2L346.8,176.2L347.2,176.2L347.5,176.2L347.8,176.2L348.2,176.2L348.5,176.2L348.9,176.2L349.2,176.2L349.5,176.2L349.9,176.2L350.2,176.2L350.6,176.2L350.9,176.2L351.2,176.2L351.6,176.2L351.9,176.2L352.3,176.2L352.6,176.2L352.9,176.2L353.3,176.2L353.6,176.2L354.0,176.2L354.3,176.2L354.6,176.2L355.0,176.2L355.3,176.2L355.7,176.2L356.0,176.2L356.3,176.2L356.7,176.2L357.0,176.2L357.4,176.2L357.7,176.2L358.0,176.2L358.4,176.2L358.7,176.2L359.1,176.2L359.4,176.2L359.7,176.2L360.1,176.2L360.4,176.2L360.8,176.2L361.1,176.2L361.4,176.2L361.8,176.2L362.1,176.2L362.5,176.2L362.8,176.2L363.1,176.2L363.5,176.2L363.8,176.2L364.2,176.2L364.5,176.2L364.8,176.2L365.2,176.2L365.5,176.2L365.9,176.2L366.2,176.2L366.5,176.2L366.9,176.2L367.2,176.2L367.6,176.2L367.9,176.2L368.2,176.2L368.6,176.2L368.9,176.2L369.3,176.2L369.6,176.2L369.9,176.2L370.3,176.2L370.6,176.2L371.0,176.2L371.3,176.2L371.6,176.2L372.0,176.2L372.3,176.2L372.7,176.2L373.0,176.2L373.3,176.2L373.7,176.2L374.0,176.2L374.4,176.2L374.7,176.2L375.0,176.2L375.4,176.2L375.7,176.2L376.1,176.2L376.4,176.2L376.7,176.2L377.1,176.2L377.4,176.2L377.8,176.2L378.1,176.2L378.5,176.2L378.8,176.2L379.1,176.2L379.5,176.2L379.8,176.2L380.2,176.2L380.5,176.2L380.8,176.2L381.2,176.2L381.5,176.2L381.9,176.2L382.2,176.2L382.5,176.2L382.9,176.2L383.2,176.2L383.6,176.2L383.9,176.2L384.2,176.2L384.6,176.2L384.9,176.2L385.3,176.2L385.6,176.2L385.9,176.2L386.3,176.2L386.6,176.2L387.0,176.2L387.3,176.2L387.6,176.2L388.0,176.2L388.3,176.2L388.7,176.2L389.0,176.2L389.3,176.2L389.7,176.2L390.0,176.2L390.4,176.2L390.7,176.2L391.0,176.2L391.4,176.2L391.7,176.2L392.1,176.2L392.4,176.2L392.7,176.2L393.1,176.2L393.4,176.2L393.8,176.2L394.1,176.2L394.4,176.2L394.8,176.2L395.1,176.2L395.5,176.2L395.8,176.2L396.1,176.2L396.5,176.2L396.8,176.2L397.2,176.2L397.5,176.2L397.8,176.2L398.2,176.2L398.5,176.2L398.9,176.2L399.2,176.2L399.5,176.2L399.9,176.2L400.2,176.2L400.6,176.2L400.9,176.2L401.2,176.2L401.6,176.2L401.9,176.2L402.3,176.2L402.6,176.2L402.9,176.2L403.3,176.2L403.6,176.2L404.0,176.2L404.3,176.2L404.6,176.2L405.0,176.2L405.3,176.2L405.7,176.2L406.0,176.2L406.3,176.2L406.7,176.2L407.0,176.2L407.4,176.2L407.7,176.2L408.0,176.2L408.4,176.2L408.7,176.2L409.1,176.2L409.4,176.2L409.8,176.2L410.1,176.2L410.4,176.2L410.8,176.2L411.1,176.2L411.5,176.2L411.8,176.2L412.1,176.2L412.5,176.2L412.8,176.2L413.2,176.2L413.5,176.2L413.8,176.2L414.2,176.2" stroke="#d8440f" stroke-width="1.25" stroke-dasharray="8.1,2"/><path d="M51.5,56.8L51.8,56.9L52.2,56.9L52.5,56.9L52.9,56.9L53.2,56.9L53.5,56.9L53.9,56.9L54.2,56.9L54.6,56.9L54.9,56.9L55.2,56.9L55.6,56.9L55.9,56.9L56.3,56.9L56.6,56.9L56.9,56.9L57.3,56.9L57.6,56.9L58.0,56.9L58.3,56.9L58.6,56.9L59.0,56.9L59.3,56.9L59.7,56.9L60.0,56.9L60.3,56.9L60.7,56.9L61.0,56.9L61.4,56.9L61.7,56.9L62.0,56.9L62.4,56.9L62.7,56.9L63.1,56.9L63.4,56.9L63.7,56.9L64.1,56.9L64.4,56.9L64.8,56.9L65.1,56.9L65.4,56.9L65.8,56.9L66.1,56.9L66.5,56.9L66.8,56.9L67.2,56.9L67.5,56.9L67.8,56.9L68.2,56.9L68.5,56.9L68.9,56.9L69.2,56.9L69.5,56.9L69.9,56.9L70.2,56.9L70.6,56.9L70.9,56.9L71.2,56.9L71.6,56.9L71.9,56.9L72.3,56.9L72.6,56.9L72.9,56.9L73.3,56.9L73.6,56.9L74.0,56.9L74.3,56.9L74.6,56.9L75.0,56.9L75.3,56.9L75.7,56.9L76.0,56.9L76.3,56.9L76.7,56.9L77.0,56.9L77.4,56.9L77.7,56.9L78.0,56.9L78.4,56.9L78.7,56.9L79.1,56.9L79.4,56.9L79.7,56.9L80.1,56.9L80.4,56.9L80.8,56.9L81.1,56.9L81.4,56.9L81.8,56.9L82.1,56.9L82.5,56.9L82.8,56.9L83.1,56.9L83.5,56.9L83.8,56.9L84.2,56.9L84.5,56.9L84.8,56.9L85.2,56.9L85.5,56.9L85.9,56.9L86.2,56.9L86.5,56.9L86.9,56.9L87.2,56.9L87.6,56.9L87.9,56.9L88.2,56.9L88.6,56.9L88.9,56.9L89.3,56.9L89.6,56.9L89.9,56.9L90.3,56.9L90.6,56.9L91.0,56.9L91.3,56.9L91.6,56.9L92.0,56.9L92.3,56.9L92.7,56.9L93.0,56.9L93.3,56.9L93.7,56.9L94.0,56.9L94.4,56.9L94.7,56.9L95.0,56.9L95.4,56.9L95.7,56.9L96.1,56.9L96.4,56.9L96.7,56.9L97.1,56.9L97.4,56.9L97.8,56.9L98.1,56.9L98.5,57.0L98.8,57.0L99.1,57.0L99.5,57.0L99.8,57.0L100.2,57.0L100.5,57.0L100.8,56.9L101.2,56.9L101.5,56.9L101.9,56.9L102.2,56.9L102.5,56.9L102.9,56.9L103.2,56.9L103.6,57.0L103.9,57.0L104.2,57.0L104.6,57.0L104.9,57.0L105.3,57.0L105.6,57.0L105.9,57.0L106.3,57.1L106.6,57.1L107.0,57.1L107.3,57.1L107.6,57.1L108.0,57.1L108.3,57.1L108.7,57.1L109.0,57.2L109.3,57.2L109.7,57.2L110.0,57.2L110.4,57.2L110.7,57.1L111.0,57.1L111.4,57.1L111.7,57.1L112.1,57.1L112.4,57.1L112.7,57.1L113.1,57.1L113.4,57.1L113.8,57.1L114.1,57.2L114.4,57.2L114.8,57.2L115.1,57.2L115.5,57.3L115.8,57.3L116.1,57.3L116.5,57.4L116.8,57.4L117.2,57.4L117.5,57.5L117.8,57.5L118.2,57.5L118.5,57.5L118.9,57.6L119.2,57.6L119.5,57.6L119.9,57.6L120.2,57.6L120.6,57.6L120.9,57.6L121.2,57.6L121.6,57.6L121.9,57.5L122.3,57.5L122.6,57.5L122.9,57.5L123.3,57.5L123.6,57.5L124.0,57.5L124.3,57.6L124.6,57.6L125.0,57.6L125.3,57.7L125.7,57.7L126.0,57.8L126.3,57.9L126.7,57.9L127.0,58.0L127.4,58.1L127.7,58.1L128.0,58.2L128.4,58.3L128.7,58.3L129.1,58.4L129.4,58.4L129.8,58.4L130.1,58.4L130.4,58.4L130.8,58.4L131.1,58.4L131.5,58.4L131.8,58.4L132.1,58.4L132.5,58.3L132.8,58.3L133.2,58.3L133.5,58.3L133.8,58.3L134.2,58.3L134.5,58.3L134.9,58.4L135.2,58.4L135.5,58.5L135.9,58.6L136.2,58.7L136.6,58.8L136.9,58.9L137.2,59.1L137.6,59.2L137.9,59.3L138.3,59.4L138.6,59.5L138.9,59.6L139.3,59.7L139.6,59.8L140.0,59.8L140.3,59.9L140.6,59.9L141.0,59.9L141.3,59.9L141.7,59.8L142.0,59.8L142.3,59.8L142.7,59.7L143.0,59.7L143.4,59.6L143.7,59.6L144.0,59.6L144.4,59.6L144.7,59.7L145.1,59.7L145.4,59.8L145.7,59.9L146.1,60.0L146.4,60.2L146.8,60.4L147.1,60.5L147.4,60.7L147.8,60.9L148.1,61.1L148.5,61.3L148.8,61.5L149.1,61.7L149.5,61.8L149.8,62.0L150.2,62.1L150.5,62.1L150.8,62.2L151.2,62.2L151.5,62.2L151.9,62.1L152.2,62.1L152.5,62.0L152.9,62.0L153.2,61.9L153.6,61.8L153.9,61.8L154.2,61.8L154.6,61.8L154.9,61.8L155.3,61.8L155.6,61.9L155.9,62.1L156.3,62.2L156.6,62.4L157.0,62.7L157.3,62.9L157.6,63.2L158.0,63.5L158.3,63.8L158.7,64.1L159.0,64.4L159.3,64.7L159.7,64.9L160.0,65.1L160.4,65.3L160.7,65.4L161.1,65.5L161.4,65.6L161.7,65.6L162.1,65.6L162.4,65.5L162.8,65.4L163.1,65.3L163.4,65.2L163.8,65.1L164.1,65.0L164.5,65.0L164.8,64.9L165.1,64.9L165.5,65.0L165.8,65.1L166.2,65.2L166.5,65.4L166.8,65.7L167.2,66.0L167.5,66.4L167.9,66.7L168.2,67.1L168.5,67.6L168.9,68.0L169.2,68.4L169.6,68.8L169.9,69.2L170.2,69.5L170.6,69.8L170.9,70.0L171.3,70.2L171.6,70.3L171.9,70.3L172.3,70.3L172.6,70.2L173.0,70.2L173.3,70.0L173.6,69.9L174.0,69.7L174.3,69.6L174.7,69.5L175.0,69.4L175.3,69.4L175.7,69.4L176.0,69.5L176.4,69.6L176.7,69.9L177.0,70.2L177.4,70.5L177.7,71.0L178.1,71.4L178.4,72.0L178.7,72.5L179.1,73.1L179.4,73.6L179.8,74.2L180.1,74.7L180.4,75.1L180.8,75.5L181.1,75.9L181.5,76.2L181.8,76.3L182.1,76.5L182.5,76.5L182.8,76.5L183.2,76.4L183.5,76.2L183.8,76.1L184.2,75.9L184.5,75.7L184.9,75.5L185.2,75.4L185.5,75.3L185.9,75.3L186.2,75.3L186.6,75.4L186.9,75.7L187.2,76.0L187.6,76.4L187.9,76.9L188.3,77.4L188.6,78.0L188.9,78.7L189.3,79.4L189.6,80.1L190.0,80.8L190.3,81.5L190.6,82.1L191.0,82.7L191.3,83.1L191.7,83.5L192.0,83.8L192.4,84.0L192.7,84.2L193.0,84.2L193.4,84.1L193.7,84.0L194.1,83.8L194.4,83.5L194.7,83.3L195.1,83.1L195.4,82.9L195.8,82.7L196.1,82.6L196.4,82.6L196.8,82.7L197.1,82.9L197.5,83.2L197.8,83.6L198.1,84.1L198.5,84.7L198.8,85.4L199.2,86.2L199.5,87.0L199.8,87.8L200.2,88.7L200.5,89.5L200.9,90.3L201.2,91.0L201.5,91.6L201.9,92.2L202.2,92.6L202.6,92.9L202.9,93.1L203.2,93.2L203.6,93.2L203.9,93.1L204.3,92.9L204.6,92.6L204.9,92.4L205.3,92.1L205.6,91.8L206.0,91.6L206.3,91.4L206.6,91.3L207.0,91.3L207.3,91.5L207.7,91.7L208.0,92.1L208.3,92.6L208.7,93.2L209.0,94.0L209.4,94.8L209.7,95.7L210.0,96.6L210.4,97.6L210.7,98.5L211.1,99.4L211.4,100.3L211.7,101.1L212.1,101.8L212.4,102.3L212.8,102.8L213.1,103.1L213.4,103.3L213.8,103.3L214.1,103.3L214.5,103.1L214.8,102.9L215.1,102.6L215.5,102.3L215.8,101.9L216.2,101.6L216.5,101.4L216.8,101.2L217.2,101.2L217.5,101.2L217.9,101.4L218.2,101.7L218.5,102.2L218.9,102.8L219.2,103.5L219.6,104.3L219.9,105.2L220.2,106.2L220.6,107.2L220.9,108.2L221.3,109.3L221.6,110.2L221.9,111.1L222.3,111.9L222.6,112.6L223.0,113.2L223.3,113.6L223.7,113.9L224.0,114.1L224.3,114.1L224.7,114.0L225.0,113.8L225.4,113.5L225.7,113.2L226.0,112.8L226.4,112.5L226.7,112.2L227.1,111.9L227.4,111.8L227.7,111.7L228.1,111.8L228.4,112.1L228.8,112.4L229.1,112.9L229.4,113.6L229.8,114.4L230.1,115.3L230.5,116.2L230.8,117.2L231.1,118.3L231.5,119.4L231.8,120.4L232.2,121.4L232.5,122.3L232.8,123.1L233.2,123.7L233.5,124.2L233.9,124.6L234.2,124.9L234.5,125.0L234.9,124.9L235.2,124.8L235.6,124.6L235.9,124.3L236.2,123.9L236.6,123.6L236.9,123.2L237.3,122.9L237.6,122.7L237.9,122.6L238.3,122.6L238.6,122.7L239.0,123.0L239.3,123.4L239.6,123.9L240.0,124.6L240.3,125.4L240.7,126.3L241.0,127.3L241.3,128.3L241.7,129.3L242.0,130.4L242.4,131.3L242.7,132.3L243.0,133.1L243.4,133.8L243.7,134.4L244.1,134.9L244.4,135.2L244.7,135.4L245.1,135.5L245.4,135.4L245.8,135.3L246.1,135.0L246.4,134.7L246.8,134.4L247.1,134.1L247.5,133.8L247.8,133.5L248.1,133.3L248.5,133.3L248.8,133.3L249.2,133.5L249.5,133.8L249.8,134.3L250.2,134.9L250.5,135.6L250.9,136.4L251.2,137.3L251.5,138.2L251.9,139.2L252.2,140.2L252.6,141.2L252.9,142.2L253.2,143.0L253.6,143.8L253.9,144.5L254.3,145.1L254.6,145.5L255.0,145.8L255.3,146.0L255.6,146.0L256.0,146.0L256.3,145.8L256.7,145.6L257.0,145.3L257.3,145.1L257.7,144.8L258.0,144.6L258.4,144.4L258.7,144.3L259.0,144.3L259.4,144.4L259.7,144.6L260.1,144.9L260.4,145.4L260.7,145.9L261.1,146.6L261.4,147.4L261.8,148.2L262.1,149.1L262.4,150.0L262.8,150.9L263.1,151.7L263.5,152.6L263.8,153.3L264.1,154.0L264.5,154.6L264.8,155.0L265.2,155.3L265.5,155.6L265.8,155.7L266.2,155.7L266.5,155.6L266.9,155.5L267.2,155.2L267.5,155.0L267.9,154.7L268.2,154.5L268.6,154.3L268.9,154.1L269.2,154.1L269.6,154.1L269.9,154.2L270.3,154.4L270.6,154.7L270.9,155.1L271.3,155.6L271.6,156.2L272.0,156.8L272.3,157.5L272.6,158.2L273.0,159.0L273.3,159.7L273.7,160.4L274.0,161.1L274.3,161.7L274.7,162.2L275.0,162.6L275.4,163.0L275.7,163.2L276.0,163.3L276.4,163.4L276.7,163.3L277.1,163.2L277.4,163.0L277.7,162.8L278.1,162.6L278.4,162.4L278.8,162.1L279.1,162.0L279.4,161.8L279.8,161.8L280.1,161.8L280.5,161.8L280.8,162.0L281.1,162.3L281.5,162.6L281.8,163.0L282.2,163.4L282.5,164.0L282.8,164.5L283.2,165.1L283.5,165.7L283.9,166.2L284.2,166.7L284.5,167.2L284.9,167.7L285.2,168.0L285.6,168.3L285.9,168.5L286.3,168.7L286.6,168.7L286.9,168.7L287.3,168.6L287.6,168.5L288.0,168.3L288.3,168.1L288.6,167.9L289.0,167.7L289.3,167.5L289.7,167.4L290.0,167.3L290.3,167.2L290.7,167.2L291.0,167.3L291.4,167.4L291.7,167.6L292.0,167.8L292.4,168.1L292.7,168.5L293.1,168.8L293.4,169.3L293.7,169.7L294.1,170.1L294.4,170.5L294.8,170.9L295.1,171.2L295.4,171.5L295.8,171.7L296.1,171.9L296.5,172.0L296.8,172.1L297.1,172.1L297.5,172.0L297.8,172.0L298.2,171.8L298.5,171.7L298.8,171.5L299.2,171.3L299.5,171.2L299.9,171.0L300.2,170.9L300.5,170.8L300.9,170.8L301.2,170.8L301.6,170.8L301.9,170.9L302.2,171.0L302.6,171.2L302.9,171.4L303.3,171.7L303.6,171.9L303.9,172.2L304.3,172.5L304.6,172.8L305.0,173.1L305.3,173.3L305.6,173.5L306.0,173.7L306.3,173.9L306.7,174.0L307.0,174.1L307.3,174.1L307.7,174.1L308.0,174.0L308.4,173.9L308.7,173.8L309.0,173.7L309.4,173.6L309.7,173.5L310.1,173.4L310.4,173.3L310.7,173.2L311.1,173.1L311.4,173.1L311.8,173.1L312.1,173.1L312.4,173.2L312.8,173.3L313.1,173.4L313.5,173.6L313.8,173.8L314.1,173.9L314.5,174.1L314.8,174.3L315.2,174.5L315.5,174.7L315.8,174.9L316.2,175.0L316.5,175.1L316.9,175.2L317.2,175.3L317.6,175.3L317.9,175.3L318.2,175.3L318.6,175.3L318.9,175.2L319.3,175.1L319.6,175.1L319.9,175.0L320.3,174.9L320.6,174.8L321.0,174.7L321.3,174.7L321.6,174.7L322.0,174.7L322.3,174.7L322.7,174.7L323.0,174.7L323.3,174.8L323.7,174.9L324.0,175.0L324.4,175.1L324.7,175.2L325.0,175.4L325.4,175.5L325.7,175.6L326.1,175.7L326.4,175.8L326.7,175.9L327.1,175.9L327.4,176.0L327.8,176.0L328.1,176.0L328.4,176.0L328.8,176.0L329.1,176.0L329.5,175.9L329.8,175.9L330.1,175.9L330.5,175.8L330.8,175.8L331.2,175.7L331.5,175.7L331.8,175.6L332.2,175.6L332.5,175.6L332.9,175.6L333.2,175.7L333.5,175.7L333.9,175.7L334.2,175.8L334.6,175.8L334.9,175.9L335.2,176.0L335.6,176.0L335.9,176.1L336.3,176.2L336.6,176.2L336.9,176.2L337.3,176.2L337.6,176.2L338.0,176.2L338.3,176.2L338.6,176.2L339.0,176.2L339.3,176.2L339.7,176.2L340.0,176.2L340.3,176.2L340.7,176.2L341.0,176.2L341.4,176.2L341.7,176.2L342.0,176.2L342.4,176.2L342.7,176.2L343.1,176.2L343.4,176.2L343.7,176.2L344.1,176.2L344.4,176.2L344.8,176.2L345.1,176.2L345.4,176.2L345.8,176.2L346.1,176.2L346.5,176.2L346.8,176.2L347.2,176.2L347.5,176.2L347.8,176.2L348.2,176.2L348.5,176.2L348.9,176.2L349.2,176.2L349.5,176.2L349.9,176.2L350.2,176.2L350.6,176.2L350.9,176.2L351.2,176.2L351.6,176.2L351.9,176.2L352.3,176.2L352.6,176.2L352.9,176.2L353.3,176.2L353.6,176.2L354.0,176.2L354.3,176.2L354.6,176.2L355.0,176.2L355.3,176.2L355.7,176.2L356.0,176.2L356.3,176.2L356.7,176.2L357.0,176.2L357.4,176.2L357.7,176.2L358.0,176.2L358.4,176.2L358.7,176.2L359.1,176.2L359.4,176.2L359.7,176.2L360.1,176.2L360.4,176.2L360.8,176.2L361.1,176.2L361.4,176.2L361.8,176.2L362.1,176.2L362.5,176.2L362.8,176.2L363.1,176.2L363.5,176.2L363.8,176.2L364.2,176.2L364.5,176.2L364.8,176.2L365.2,176.2L365.5,176.2L365.9,176.2L366.2,176.2L366.5,176.2L366.9,176.2L367.2,176.2L367.6,176.2L367.9,176.2L368.2,176.2L368.6,176.2L368.9,176.2L369.3,176.2L369.6,176.2L369.9,176.2L370.3,176.2L370.6,176.2L371.0,176.2L371.3,176.2L371.6,176.2L372.0,176.2L372.3,176.2L372.7,176.2L373.0,176.2L373.3,176.2L373.7,176.2L374.0,176.2L374.4,176.2L374.7,176.2L375.0,176.2L375.4,176.2L375.7,176.2L376.1,176.2L376.4,176.2L376.7,176.2L377.1,176.2L377.4,176.2L377.8,176.2L378.1,176.2L378.5,176.2L378.8,176.2L379.1,176.2L379.5,176.2L379.8,176.2L380.2,176.2L380.5,176.2L380.8,176.2L381.2,176.2L381.5,176.2L381.9,176.2L382.2,176.2L382.5,176.2L382.9,176.2L383.2,176.2L383.6,176.2L383.9,176.2L384.2,176.2L384.6,176.2L384.9,176.2L385.3,176.2L385.6,176.2L385.9,176.2L386.3,176.2L386.6,176.2L387.0,176.2L387.3,176.2L387.6,176.2L388.0,176.2L388.3,176.2L388.7,176.2L389.0,176.2L389.3,176.2L389.7,176.2L390.0,176.2L390.4,176.2L390.7,176.2L391.0,176.2L391.4,176.2L391.7,176.2L392.1,176.2L392.4,176.2L392.7,176.2L393.1,176.2L393.4,176.2L393.8,176.2L394.1,176.2L394.4,176.2L394.8,176.2L395.1,176.2L395.5,176.2L395.8,176.2L396.1,176.2L396.5,176.2L396.8,176.2L397.2,176.2L397.5,176.2L397.8,176.2L398.2,176.2L398.5,176.2L398.9,176.2L399.2,176.2L399.5,176.2L399.9,176.2L400.2,176.2L400.6,176.2L400.9,176.2L401.2,176.2L401.6,176.2L401.9,176.2L402.3,176.2L402.6,176.2L402.9,176.2L403.3,176.2L403.6,176.2L404.0,176.2L404.3,176.2L404.6,176.2L405.0,176.2L405.3,176.2L405.7,176.2L406.0,176.2L406.3,176.2L406.7,176.2L407.0,176.2L407.4,176.2L407.7,176.2L408.0,176.2L408.4,176.2L408.7,176.2L409.1,176.2L409.4,176.2L409.8,176.2L410.1,176.2L410.4,176.2L410.8,176.2L411.1,176.2L411.5,176.2L411.8,176.2L412.1,176.2L412.5,176.2L412.8,176.2L413.2,176.2L413.5,176.2L413.8,176.2L414.2,176.2" stroke="#d8440f" stroke-width="1.4"/><path d="M51.5,176.7L51.8,176.7L52.2,176.6L52.5,176.6L52.9,176.6L53.2,176.6L53.5,176.6L53.9,176.6L54.2,176.6L54.6,176.6L54.9,176.6L55.2,176.6L55.6,176.6L55.9,176.6L56.3,176.6L56.6,176.6L56.9,176.6L57.3,176.6L57.6,176.6L58.0,176.6L58.3,176.6L58.6,176.6L59.0,176.6L59.3,176.6L59.7,176.6L60.0,176.6L60.3,176.6L60.7,176.6L61.0,176.6L61.4,176.6L61.7,176.6L62.0,176.6L62.4,176.6L62.7,176.6L63.1,176.6L63.4,176.6L63.7,176.6L64.1,176.6L64.4,176.6L64.8,176.6L65.1,176.6L65.4,176.6L65.8,176.6L66.1,176.6L66.5,176.6L66.8,176.6L67.2,176.6L67.5,176.6L67.8,176.6L68.2,176.6L68.5,176.6L68.9,176.6L69.2,176.6L69.5,176.6L69.9,176.6L70.2,176.6L70.6,176.6L70.9,176.6L71.2,176.6L71.6,176.6L71.9,176.6L72.3,176.6L72.6,176.6L72.9,176.6L73.3,176.6L73.6,176.6L74.0,176.6L74.3,176.6L74.6,176.6L75.0,176.6L75.3,176.6L75.7,176.6L76.0,176.6L76.3,176.6L76.7,176.6L77.0,176.6L77.4,176.6L77.7,176.6L78.0,176.6L78.4,176.6L78.7,176.6L79.1,176.6L79.4,176.6L79.7,176.6L80.1,176.6L80.4,176.6L80.8,176.6L81.1,176.6L81.4,176.6L81.8,176.6L82.1,176.6L82.5,176.6L82.8,176.6L83.1,176.6L83.5,176.6L83.8,176.6L84.2,176.6L84.5,176.6L84.8,176.6L85.2,176.6L85.5,176.6L85.9,176.6L86.2,176.6L86.5,176.6L86.9,176.6L87.2,176.6L87.6,176.6L87.9,176.6L88.2,176.6L88.6,176.6L88.9,176.6L89.3,176.6L89.6,176.6L89.9,176.6L90.3,176.6L90.6,176.6L91.0,176.6L91.3,176.6L91.6,176.6L92.0,176.6L92.3,176.6L92.7,176.6L93.0,176.6L93.3,176.6L93.7,176.6L94.0,176.6L94.4,176.6L94.7,176.6L95.0,176.6L95.4,176.6L95.7,176.6L96.1,176.6L96.4,176.6L96.7,176.6L97.1,176.6L97.4,176.6L97.8,176.6L98.1,176.6L98.5,176.6L98.8,176.6L99.1,176.6L99.5,176.6L99.8,176.6L100.2,176.6L100.5,176.6L100.8,176.6L101.2,176.6L101.5,176.6L101.9,176.6L102.2,176.6L102.5,176.6L102.9,176.6L103.2,176.6L103.6,176.6L103.9,176.6L104.2,176.6L104.6,176.6L104.9,176.6L105.3,176.6L105.6,176.6L105.9,176.6L106.3,176.6L106.6,176.6L107.0,176.6L107.3,176.6L107.6,176.6L108.0,176.6L108.3,176.6L108.7,176.6L109.0,176.6L109.3,176.6L109.7,176.6L110.0,176.6L110.4,176.6L110.7,176.6L111.0,176.6L111.4,176.6L111.7,176.6L112.1,176.6L112.4,176.5L112.7,176.5L113.1,176.5L113.4,176.5L113.8,176.5L114.1,176.5L114.4,176.5L114.8,176.5L115.1,176.5L115.5,176.5L115.8,176.5L116.1,176.5L116.5,176.5L116.8,176.5L117.2,176.5L117.5,176.5L117.8,176.5L118.2,176.5L118.5,176.5L118.9,176.5L119.2,176.5L119.5,176.5L119.9,176.5L120.2,176.4L120.6,176.4L120.9,176.4L121.2,176.4L121.6,176.4L121.9,176.4L122.3,176.4L122.6,176.4L122.9,176.4L123.3,176.4L123.6,176.4L124.0,176.4L124.3,176.4L124.6,176.4L125.0,176.4L125.3,176.3L125.7,176.3L126.0,176.3L126.3,176.3L126.7,176.3L127.0,176.3L127.4,176.3L127.7,176.3L128.0,176.3L128.4,176.3L128.7,176.3L129.1,176.2L129.4,176.2L129.8,176.2L130.1,176.2L130.4,176.2L130.8,176.2L131.1,176.2L131.5,176.2L131.8,176.2L132.1,176.1L132.5,176.1L132.8,176.1L133.2,176.1L133.5,176.1L133.8,176.1L134.2,176.1L134.5,176.1L134.9,176.0L135.2,176.0L135.5,176.0L135.9,176.0L136.2,176.0L136.6,176.0L136.9,176.0L137.2,175.9L137.6,175.9L137.9,175.9L138.3,175.9L138.6,175.9L138.9,175.9L139.3,175.8L139.6,175.8L140.0,175.8L140.3,175.8L140.6,175.8L141.0,175.8L141.3,175.7L141.7,175.7L142.0,175.7L142.3,175.7L142.7,175.7L143.0,175.6L143.4,175.6L143.7,175.6L144.0,175.6L144.4,175.5L144.7,175.5L145.1,175.5L145.4,175.5L145.7,175.5L146.1,175.4L146.4,175.4L146.8,175.4L147.1,175.4L147.4,175.3L147.8,175.3L148.1,175.3L148.5,175.3L148.8,175.2L149.1,175.2L149.5,175.2L149.8,175.2L150.2,175.1L150.5,175.1L150.8,175.1L151.2,175.0L151.5,175.0L151.9,175.0L152.2,174.9L152.5,174.9L152.9,174.9L153.2,174.9L153.6,174.8L153.9,174.8L154.2,174.8L154.6,174.7L154.9,174.7L155.3,174.7L155.6,174.6L155.9,174.6L156.3,174.5L156.6,174.5L157.0,174.5L157.3,174.4L157.6,174.4L158.0,174.4L158.3,174.3L158.7,174.3L159.0,174.2L159.3,174.2L159.7,174.2L160.0,174.1L160.4,174.1L160.7,174.0L161.1,174.0L161.4,174.0L161.7,173.9L162.1,173.9L162.4,173.8L162.8,173.8L163.1,173.7L163.4,173.7L163.8,173.6L164.1,173.6L164.5,173.5L164.8,173.5L165.1,173.5L165.5,173.4L165.8,173.4L166.2,173.3L166.5,173.3L166.8,173.2L167.2,173.2L167.5,173.1L167.9,173.0L168.2,173.0L168.5,172.9L168.9,172.9L169.2,172.8L169.6,172.8L169.9,172.7L170.2,172.7L170.6,172.6L170.9,172.5L171.3,172.5L171.6,172.4L171.9,172.4L172.3,172.3L172.6,172.2L173.0,172.2L173.3,172.1L173.6,172.1L174.0,172.0L174.3,171.9L174.7,171.9L175.0,171.8L175.3,171.7L175.7,171.7L176.0,171.6L176.4,171.5L176.7,171.5L177.0,171.4L177.4,171.3L177.7,171.3L178.1,171.2L178.4,171.1L178.7,171.0L179.1,171.0L179.4,170.9L179.8,170.8L180.1,170.8L180.4,170.7L180.8,170.6L181.1,170.5L181.5,170.4L181.8,170.4L182.1,170.3L182.5,170.2L182.8,170.1L183.2,170.1L183.5,170.0L183.8,169.9L184.2,169.8L184.5,169.7L184.9,169.6L185.2,169.6L185.5,169.5L185.9,169.4L186.2,169.3L186.6,169.2L186.9,169.1L187.2,169.0L187.6,169.0L187.9,168.9L188.3,168.8L188.6,168.7L188.9,168.6L189.3,168.5L189.6,168.4L190.0,168.3L190.3,168.2L190.6,168.1L191.0,168.0L191.3,167.9L191.7,167.8L192.0,167.8L192.4,167.7L192.7,167.6L193.0,167.5L193.4,167.4L193.7,167.3L194.1,167.2L194.4,167.1L194.7,167.0L195.1,166.9L195.4,166.8L195.8,166.7L196.1,166.6L196.4,166.4L196.8,166.3L197.1,166.2L197.5,166.1L197.8,166.0L198.1,165.9L198.5,165.8L198.8,165.7L199.2,165.6L199.5,165.5L199.8,165.4L200.2,165.3L200.5,165.2L200.9,165.0L201.2,164.9L201.5,164.8L201.9,164.7L202.2,164.6L202.6,164.5L202.9,164.4L203.2,164.2L203.6,164.1L203.9,164.0L204.3,163.9L204.6,163.8L204.9,163.7L205.3,163.5L205.6,163.4L206.0,163.3L206.3,163.2L206.6,163.1L207.0,162.9L207.3,162.8L207.7,162.7L208.0,162.6L208.3,162.5L208.7,162.3L209.0,162.2L209.4,162.1L209.7,162.0L210.0,161.8L210.4,161.7L210.7,161.6L211.1,161.5L211.4,161.3L211.7,161.2L212.1,161.1L212.4,160.9L212.8,160.8L213.1,160.7L213.4,160.6L213.8,160.4L214.1,160.3L214.5,160.2L214.8,160.0L215.1,159.9L215.5,159.8L215.8,159.6L216.2,159.5L216.5,159.4L216.8,159.2L217.2,159.1L217.5,159.0L217.9,158.8L218.2,158.7L218.5,158.6L218.9,158.4L219.2,158.3L219.6,158.2L219.9,158.0L220.2,157.9L220.6,157.8L220.9,157.6L221.3,157.5L221.6,157.3L221.9,157.2L222.3,157.1L222.6,156.9L223.0,156.8L223.3,156.7L223.7,156.5L224.0,156.4L224.3,156.2L224.7,156.1L225.0,156.0L225.4,155.8L225.7,155.7L226.0,155.5L226.4,155.4L226.7,155.3L227.1,155.1L227.4,155.0L227.7,154.8L228.1,154.7L228.4,154.6L228.8,154.4L229.1,154.3L229.4,154.1L229.8,154.0L230.1,153.9L230.5,153.7L230.8,153.6L231.1,153.4L231.5,153.3L231.8,153.2L232.2,153.0L232.5,152.9L232.8,152.7L233.2,152.6L233.5,152.5L233.9,152.3L234.2,152.2L234.5,152.0L234.9,151.9L235.2,151.7L235.6,151.6L235.9,151.5L236.2,151.3L236.6,151.2L236.9,151.0L237.3,150.9L237.6,150.8L237.9,150.6L238.3,150.5L238.6,150.3L239.0,150.2L239.3,150.1L239.6,149.9L240.0,149.8L240.3,149.6L240.7,149.5L241.0,149.4L241.3,149.2L241.7,149.1L242.0,148.9L242.4,148.8L242.7,148.7L243.0,148.5L243.4,148.4L243.7,148.3L244.1,148.1L244.4,148.0L244.7,147.8L245.1,147.7L245.4,147.6L245.8,147.4L246.1,147.3L246.4,147.2L246.8,147.0L247.1,146.9L247.5,146.8L247.8,146.6L248.1,146.5L248.5,146.4L248.8,146.2L249.2,146.1L249.5,146.0L249.8,145.8L250.2,145.7L250.5,145.6L250.9,145.4L251.2,145.3L251.5,145.2L251.9,145.0L252.2,144.9L252.6,144.8L252.9,144.7L253.2,144.5L253.6,144.4L253.9,144.3L254.3,144.1L254.6,144.0L255.0,143.9L255.3,143.8L255.6,143.6L256.0,143.5L256.3,143.4L256.7,143.3L257.0,143.1L257.3,143.0L257.7,142.9L258.0,142.8L258.4,142.6L258.7,142.5L259.0,142.4L259.4,142.3L259.7,142.2L260.1,142.0L260.4,141.9L260.7,141.8L261.1,141.7L261.4,141.6L261.8,141.4L262.1,141.3L262.4,141.2L262.8,141.1L263.1,141.0L263.5,140.9L263.8,140.8L264.1,140.6L264.5,140.5L264.8,140.4L265.2,140.3L265.5,140.2L265.8,140.1L266.2,140.0L266.5,139.9L266.9,139.8L267.2,139.6L267.5,139.5L267.9,139.4L268.2,139.3L268.6,139.2L268.9,139.1L269.2,139.0L269.6,138.9L269.9,138.8L270.3,138.7L270.6,138.6L270.9,138.5L271.3,138.4L271.6,138.3L272.0,138.2L272.3,138.1L272.6,138.0L273.0,137.9L273.3,137.8L273.7,137.7L274.0,137.6L274.3,137.5L274.7,137.4L275.0,137.3L275.4,137.2L275.7,137.1L276.0,137.0L276.4,136.9L276.7,136.8L277.1,136.8L277.4,136.7L277.7,136.6L278.1,136.5L278.4,136.4L278.8,136.3L279.1,136.2L279.4,136.1L279.8,136.0L280.1,136.0L280.5,135.9L280.8,135.8L281.1,135.7L281.5,135.6L281.8,135.5L282.2,135.5L282.5,135.4L282.8,135.3L283.2,135.2L283.5,135.1L283.9,135.1L284.2,135.0L284.5,134.9L284.9,134.8L285.2,134.8L285.6,134.7L285.9,134.6L286.3,134.5L286.6,134.5L286.9,134.4L287.3,134.3L287.6,134.2L288.0,134.2L288.3,134.1L288.6,134.0L289.0,134.0L289.3,133.9L289.7,133.8L290.0,133.8L290.3,133.7L290.7,133.6L291.0,133.6L291.4,133.5L291.7,133.4L292.0,133.4L292.4,133.3L292.7,133.2L293.1,133.2L293.4,133.1L293.7,133.1L294.1,133.0L294.4,132.9L294.8,132.9L295.1,132.8L295.4,132.8L295.8,132.7L296.1,132.6L296.5,132.6L296.8,132.5L297.1,132.5L297.5,132.4L297.8,132.4L298.2,132.3L298.5,132.3L298.8,132.2L299.2,132.2L299.5,132.1L299.9,132.1L300.2,132.0L300.5,132.0L300.9,131.9L301.2,131.9L301.6,131.8L301.9,131.8L302.2,131.7L302.6,131.7L302.9,131.6L303.3,131.6L303.6,131.5L303.9,131.5L304.3,131.5L304.6,131.4L305.0,131.4L305.3,131.3L305.6,131.3L306.0,131.2L306.3,131.2L306.7,131.2L307.0,131.1L307.3,131.1L307.7,131.0L308.0,131.0L308.4,131.0L308.7,130.9L309.0,130.9L309.4,130.9L309.7,130.8L310.1,130.8L310.4,130.7L310.7,130.7L311.1,130.7L311.4,130.6L311.8,130.6L312.1,130.6L312.4,130.5L312.8,130.5L313.1,130.5L313.5,130.5L313.8,130.4L314.1,130.4L314.5,130.4L314.8,130.3L315.2,130.3L315.5,130.3L315.8,130.2L316.2,130.2L316.5,130.2L316.9,130.2L317.2,130.1L317.6,130.1L317.9,130.1L318.2,130.1L318.6,130.0L318.9,130.0L319.3,130.0L319.6,130.0L319.9,129.9L320.3,129.9L320.6,129.9L321.0,129.9L321.3,129.8L321.6,129.8L322.0,129.8L322.3,129.8L322.7,129.8L323.0,129.7L323.3,129.7L323.7,129.7L324.0,129.7L324.4,129.7L324.7,129.6L325.0,129.6L325.4,129.6L325.7,129.6L326.1,129.6L326.4,129.6L326.7,129.5L327.1,129.5L327.4,129.5L327.8,129.5L328.1,129.5L328.4,129.5L328.8,129.4L329.1,129.4L329.5,129.4L329.8,129.4L330.1,129.4L330.5,129.4L330.8,129.3L331.2,129.3L331.5,129.3L331.8,129.3L332.2,129.3L332.5,129.3L332.9,129.3L333.2,129.3L333.5,129.2L333.9,129.2L334.2,129.2L334.6,129.2L334.9,129.2L335.2,129.2L335.6,129.2L335.9,129.2L336.3,129.2L336.6,129.1L336.9,129.1L337.3,129.1L337.6,129.1L338.0,129.1L338.3,129.1L338.6,129.1L339.0,129.1L339.3,129.1L339.7,129.1L340.0,129.1L340.3,129.0L340.7,129.0L341.0,129.0L341.4,129.0L341.7,129.0L342.0,129.0L342.4,129.0L342.7,129.0L343.1,129.0L343.4,129.0L343.7,129.0L344.1,129.0L344.4,129.0L344.8,129.0L345.1,128.9L345.4,128.9L345.8,128.9L346.1,128.9L346.5,128.9L346.8,128.9L347.2,128.9L347.5,128.9L347.8,128.9L348.2,128.9L348.5,128.9L348.9,128.9L349.2,128.9L349.5,128.9L349.9,128.9L350.2,128.9L350.6,128.9L350.9,128.9L351.2,128.9L351.6,128.9L351.9,128.8L352.3,128.8L352.6,128.8L352.9,128.8L353.3,128.8L353.6,128.8L354.0,128.8L354.3,128.8L354.6,128.8L355.0,128.8L355.3,128.8L355.7,128.8L356.0,128.8L356.3,128.8L356.7,128.8L357.0,128.8L357.4,128.8L357.7,128.8L358.0,128.8L358.4,128.8L358.7,128.8L359.1,128.8L359.4,128.8L359.7,128.8L360.1,128.8L360.4,128.8L360.8,128.8L361.1,128.8L361.4,128.8L361.8,128.8L362.1,128.8L362.5,128.8L362.8,128.8L363.1,128.8L363.5,128.8L363.8,128.8L364.2,128.8L364.5,128.8L364.8,128.8L365.2,128.8L365.5,128.8L365.9,128.8L366.2,128.8L366.5,128.8L366.9,128.8L367.2,128.8L367.6,128.8L367.9,128.8L368.2,128.8L368.6,128.7L368.9,128.7L369.3,128.7L369.6,128.7L369.9,128.7L370.3,128.7L370.6,128.7L371.0,128.7L371.3,128.7L371.6,128.7L372.0,128.7L372.3,128.7L372.7,128.7L373.0,128.7L373.3,128.7L373.7,128.7L374.0,128.7L374.4,128.7L374.7,128.7L375.0,128.7L375.4,128.7L375.7,128.7L376.1,128.7L376.4,128.7L376.7,128.7L377.1,128.7L377.4,128.7L377.8,128.7L378.1,128.7L378.5,128.7L378.8,128.7L379.1,128.7L379.5,128.7L379.8,128.7L380.2,128.7L380.5,128.7L380.8,128.7L381.2,128.7L381.5,128.7L381.9,128.7L382.2,128.7L382.5,128.7L382.9,128.7L383.2,128.7L383.6,128.7L383.9,128.7L384.2,128.7L384.6,128.7L384.9,128.7L385.3,128.7L385.6,128.7L385.9,128.7L386.3,128.7L386.6,128.7L387.0,128.7L387.3,128.7L387.6,128.7L388.0,128.7L388.3,128.7L388.7,128.7L389.0,128.7L389.3,128.7L389.7,128.7L390.0,128.7L390.4,128.7L390.7,128.7L391.0,128.7L391.4,128.7L391.7,128.7L392.1,128.7L392.4,128.7L392.7,128.7L393.1,128.7L393.4,128.7L393.8,128.7L394.1,128.7L394.4,128.7L394.8,128.7L395.1,128.7L395.5,128.7L395.8,128.7L396.1,128.7L396.5,128.7L396.8,128.7L397.2,128.7L397.5,128.7L397.8,128.7L398.2,128.7L398.5,128.7L398.9,128.7L399.2,128.7L399.5,128.7L399.9,128.7L400.2,128.7L400.6,128.7L400.9,128.7L401.2,128.7L401.6,128.7L401.9,128.7L402.3,128.7L402.6,128.7L402.9,128.7L403.3,128.7L403.6,128.7L404.0,128.7L404.3,128.7L404.6,128.7L405.0,128.7L405.3,128.7L405.7,128.7L406.0,128.7L406.3,128.7L406.7,128.7L407.0,128.7L407.4,128.7L407.7,128.7L408.0,128.7L408.4,128.7L408.7,128.7L409.1,128.7L409.4,128.7L409.8,128.7L410.1,128.7L410.4,128.7L410.8,128.7L411.1,128.7L411.5,128.7L411.8,128.7L412.1,128.7L412.5,128.7L412.8,128.7L413.2,128.7L413.5,128.7L413.8,128.7L414.2,128.7" stroke="#38a822" stroke-width="1.25" stroke-dasharray="8.1,2"/><path d="M51.5,176.7L51.8,176.6L52.2,176.6L52.5,176.6L52.9,176.7L53.2,176.7L53.5,176.7L53.9,176.7L54.2,176.7L54.6,176.7L54.9,176.7L55.2,176.7L55.6,176.7L55.9,176.7L56.3,176.7L56.6,176.7L56.9,176.7L57.3,176.7L57.6,176.6L58.0,176.6L58.3,176.6L58.6,176.6L59.0,176.6L59.3,176.6L59.7,176.6L60.0,176.6L60.3,176.6L60.7,176.6L61.0,176.6L61.4,176.6L61.7,176.6L62.0,176.6L62.4,176.6L62.7,176.6L63.1,176.6L63.4,176.6L63.7,176.6L64.1,176.7L64.4,176.7L64.8,176.7L65.1,176.7L65.4,176.7L65.8,176.7L66.1,176.7L66.5,176.7L66.8,176.7L67.2,176.6L67.5,176.6L67.8,176.6L68.2,176.6L68.5,176.6L68.9,176.6L69.2,176.6L69.5,176.6L69.9,176.6L70.2,176.6L70.6,176.6L70.9,176.6L71.2,176.6L71.6,176.6L71.9,176.6L72.3,176.6L72.6,176.6L72.9,176.6L73.3,176.6L73.6,176.6L74.0,176.6L74.3,176.6L74.6,176.6L75.0,176.6L75.3,176.6L75.7,176.6L76.0,176.6L76.3,176.6L76.7,176.6L77.0,176.6L77.4,176.6L77.7,176.6L78.0,176.6L78.4,176.6L78.7,176.6L79.1,176.6L79.4,176.6L79.7,176.6L80.1,176.6L80.4,176.6L80.8,176.6L81.1,176.6L81.4,176.6L81.8,176.6L82.1,176.6L82.5,176.6L82.8,176.6L83.1,176.6L83.5,176.6L83.8,176.6L84.2,176.6L84.5,176.6L84.8,176.6L85.2,176.6L85.5,176.6L85.9,176.6L86.2,176.6L86.5,176.6L86.9,176.6L87.2,176.6L87.6,176.6L87.9,176.6L88.2,176.6L88.6,176.6L88.9,176.6L89.3,176.6L89.6,176.6L89.9,176.6L90.3,176.6L90.6,176.6L91.0,176.6L91.3,176.6L91.6,176.6L92.0,176.6L92.3,176.6L92.7,176.6L93.0,176.6L93.3,176.6L93.7,176.6L94.0,176.6L94.4,176.6L94.7,176.6L95.0,176.6L95.4,176.6L95.7,176.6L96.1,176.6L96.4,176.6L96.7,176.6L97.1,176.6L97.4,176.6L97.8,176.6L98.1,176.6L98.5,176.6L98.8,176.6L99.1,176.6L99.5,176.6L99.8,176.6L100.2,176.6L100.5,176.6L100.8,176.6L101.2,176.6L101.5,176.6L101.9,176.6L102.2,176.6L102.5,176.6L102.9,176.6L103.2,176.6L103.6,176.6L103.9,176.6L104.2,176.6L104.6,176.6L104.9,176.6L105.3,176.6L105.6,176.6L105.9,176.6L106.3,176.6L106.6,176.6L107.0,176.6L107.3,176.6L107.6,176.6L108.0,176.6L108.3,176.6L108.7,176.6L109.0,176.6L109.3,176.6L109.7,176.6L110.0,176.6L110.4,176.6L110.7,176.6L111.0,176.5L111.4,176.5L111.7,176.5L112.1,176.5L112.4,176.5L112.7,176.5L113.1,176.5L113.4,176.5L113.8,176.5L114.1,176.5L114.4,176.5L114.8,176.5L115.1,176.5L115.5,176.5L115.8,176.5L116.1,176.5L116.5,176.5L116.8,176.5L117.2,176.5L117.5,176.5L117.8,176.5L118.2,176.5L118.5,176.5L118.9,176.5L119.2,176.5L119.5,176.5L119.9,176.5L120.2,176.5L120.6,176.4L120.9,176.4L121.2,176.4L121.6,176.4L121.9,176.4L122.3,176.3L122.6,176.3L122.9,176.3L123.3,176.3L123.6,176.3L124.0,176.3L124.3,176.3L124.6,176.3L125.0,176.3L125.3,176.3L125.7,176.3L126.0,176.3L126.3,176.4L126.7,176.4L127.0,176.4L127.4,176.4L127.7,176.4L128.0,176.4L128.4,176.4L128.7,176.4L129.1,176.4L129.4,176.3L129.8,176.3L130.1,176.3L130.4,176.2L130.8,176.2L131.1,176.2L131.5,176.1L131.8,176.1L132.1,176.1L132.5,176.0L132.8,176.0L133.2,176.0L133.5,175.9L133.8,175.9L134.2,175.9L134.5,175.9L134.9,175.9L135.2,175.9L135.5,175.9L135.9,176.0L136.2,176.0L136.6,176.0L136.9,176.0L137.2,176.0L137.6,176.1L137.9,176.1L138.3,176.1L138.6,176.1L138.9,176.1L139.3,176.0L139.6,176.0L140.0,176.0L140.3,175.9L140.6,175.9L141.0,175.8L141.3,175.8L141.7,175.7L142.0,175.6L142.3,175.6L142.7,175.5L143.0,175.4L143.4,175.4L143.7,175.3L144.0,175.3L144.4,175.3L144.7,175.3L145.1,175.3L145.4,175.3L145.7,175.3L146.1,175.3L146.4,175.4L146.8,175.4L147.1,175.4L147.4,175.5L147.8,175.5L148.1,175.5L148.5,175.5L148.8,175.5L149.1,175.5L149.5,175.5L149.8,175.5L150.2,175.4L150.5,175.3L150.8,175.3L151.2,175.2L151.5,175.1L151.9,175.0L152.2,174.9L152.5,174.8L152.9,174.7L153.2,174.6L153.6,174.5L153.9,174.4L154.2,174.4L154.6,174.3L154.9,174.3L155.3,174.3L155.6,174.3L155.9,174.3L156.3,174.3L156.6,174.4L157.0,174.4L157.3,174.5L157.6,174.5L158.0,174.6L158.3,174.6L158.7,174.7L159.0,174.7L159.3,174.7L159.7,174.7L160.0,174.6L160.4,174.5L160.7,174.5L161.1,174.4L161.4,174.2L161.7,174.1L162.1,174.0L162.4,173.8L162.8,173.7L163.1,173.5L163.4,173.4L163.8,173.2L164.1,173.1L164.5,173.0L164.8,172.9L165.1,172.9L165.5,172.8L165.8,172.8L166.2,172.9L166.5,172.9L166.8,172.9L167.2,173.0L167.5,173.1L167.9,173.2L168.2,173.2L168.5,173.3L168.9,173.3L169.2,173.4L169.6,173.4L169.9,173.4L170.2,173.3L170.6,173.3L170.9,173.2L171.3,173.1L171.6,172.9L171.9,172.7L172.3,172.5L172.6,172.3L173.0,172.1L173.3,171.9L173.6,171.7L174.0,171.5L174.3,171.3L174.7,171.2L175.0,171.1L175.3,171.0L175.7,170.9L176.0,170.9L176.4,170.9L176.7,170.9L177.0,170.9L177.4,171.0L177.7,171.1L178.1,171.2L178.4,171.3L178.7,171.4L179.1,171.5L179.4,171.6L179.8,171.6L180.1,171.6L180.4,171.6L180.8,171.5L181.1,171.4L181.5,171.3L181.8,171.1L182.1,170.9L182.5,170.7L182.8,170.4L183.2,170.1L183.5,169.9L183.8,169.6L184.2,169.3L184.5,169.1L184.9,168.8L185.2,168.7L185.5,168.5L185.9,168.4L186.2,168.3L186.6,168.3L186.9,168.3L187.2,168.4L187.6,168.4L187.9,168.5L188.3,168.7L188.6,168.8L188.9,168.9L189.3,169.0L189.6,169.1L190.0,169.2L190.3,169.2L190.6,169.2L191.0,169.2L191.3,169.1L191.7,169.0L192.0,168.8L192.4,168.5L192.7,168.3L193.0,168.0L193.4,167.6L193.7,167.3L194.1,167.0L194.4,166.6L194.7,166.3L195.1,166.0L195.4,165.8L195.8,165.5L196.1,165.4L196.4,165.2L196.8,165.2L197.1,165.2L197.5,165.2L197.8,165.3L198.1,165.4L198.5,165.5L198.8,165.6L199.2,165.8L199.5,165.9L199.8,166.1L200.2,166.2L200.5,166.3L200.9,166.3L201.2,166.3L201.5,166.2L201.9,166.1L202.2,165.9L202.6,165.7L202.9,165.4L203.2,165.0L203.6,164.7L203.9,164.3L204.3,163.9L204.6,163.5L204.9,163.1L205.3,162.7L205.6,162.4L206.0,162.1L206.3,161.9L206.6,161.7L207.0,161.6L207.3,161.5L207.7,161.5L208.0,161.6L208.3,161.7L208.7,161.8L209.0,161.9L209.4,162.1L209.7,162.3L210.0,162.5L210.4,162.6L210.7,162.7L211.1,162.8L211.4,162.8L211.7,162.8L212.1,162.7L212.4,162.5L212.8,162.3L213.1,162.0L213.4,161.7L213.8,161.3L214.1,160.9L214.5,160.4L214.8,160.0L215.1,159.5L215.5,159.1L215.8,158.7L216.2,158.4L216.5,158.1L216.8,157.8L217.2,157.6L217.5,157.5L217.9,157.5L218.2,157.5L218.5,157.6L218.9,157.7L219.2,157.8L219.6,158.0L219.9,158.2L220.2,158.4L220.6,158.6L220.9,158.7L221.3,158.9L221.6,158.9L221.9,158.9L222.3,158.9L222.6,158.7L223.0,158.5L223.3,158.3L223.7,157.9L224.0,157.6L224.3,157.1L224.7,156.7L225.0,156.2L225.4,155.8L225.7,155.3L226.0,154.8L226.4,154.4L226.7,154.1L227.1,153.8L227.4,153.6L227.7,153.4L228.1,153.3L228.4,153.3L228.8,153.3L229.1,153.4L229.4,153.5L229.8,153.7L230.1,153.9L230.5,154.1L230.8,154.3L231.1,154.5L231.5,154.6L231.8,154.7L232.2,154.8L232.5,154.7L232.8,154.7L233.2,154.5L233.5,154.3L233.9,154.0L234.2,153.6L234.5,153.3L234.9,152.8L235.2,152.3L235.6,151.9L235.9,151.4L236.2,150.9L236.6,150.5L236.9,150.1L237.3,149.8L237.6,149.5L237.9,149.3L238.3,149.1L238.6,149.0L239.0,149.0L239.3,149.1L239.6,149.2L240.0,149.3L240.3,149.5L240.7,149.7L241.0,149.9L241.3,150.1L241.7,150.3L242.0,150.4L242.4,150.5L242.7,150.5L243.0,150.5L243.4,150.4L243.7,150.2L244.1,150.0L244.4,149.7L244.7,149.3L245.1,148.9L245.4,148.5L245.8,148.1L246.1,147.6L246.4,147.1L246.8,146.7L247.1,146.3L247.5,145.9L247.8,145.6L248.1,145.4L248.5,145.2L248.8,145.1L249.2,145.0L249.5,145.0L249.8,145.1L250.2,145.2L250.5,145.4L250.9,145.6L251.2,145.7L251.5,145.9L251.9,146.1L252.2,146.3L252.6,146.4L252.9,146.4L253.2,146.4L253.6,146.4L253.9,146.3L254.3,146.1L254.6,145.9L255.0,145.6L255.3,145.3L255.6,144.9L256.0,144.5L256.3,144.1L256.7,143.6L257.0,143.2L257.3,142.8L257.7,142.5L258.0,142.2L258.4,141.9L258.7,141.7L259.0,141.5L259.4,141.5L259.7,141.4L260.1,141.5L260.4,141.5L260.7,141.6L261.1,141.8L261.4,142.0L261.8,142.1L262.1,142.3L262.4,142.4L262.8,142.6L263.1,142.7L263.5,142.7L263.8,142.7L264.1,142.6L264.5,142.5L264.8,142.4L265.2,142.1L265.5,141.9L265.8,141.6L266.2,141.2L266.5,140.9L266.9,140.5L267.2,140.1L267.5,139.8L267.9,139.5L268.2,139.2L268.6,138.9L268.9,138.7L269.2,138.5L269.6,138.4L269.9,138.4L270.3,138.3L270.6,138.4L270.9,138.5L271.3,138.6L271.6,138.7L272.0,138.8L272.3,139.0L272.6,139.1L273.0,139.3L273.3,139.4L273.7,139.4L274.0,139.5L274.3,139.4L274.7,139.4L275.0,139.3L275.4,139.1L275.7,138.9L276.0,138.7L276.4,138.4L276.7,138.1L277.1,137.8L277.4,137.5L277.7,137.2L278.1,136.9L278.4,136.7L278.8,136.4L279.1,136.2L279.4,136.1L279.8,136.0L280.1,135.9L280.5,135.9L280.8,135.9L281.1,135.9L281.5,136.0L281.8,136.1L282.2,136.2L282.5,136.3L282.8,136.4L283.2,136.5L283.5,136.6L283.9,136.7L284.2,136.7L284.5,136.8L284.9,136.7L285.2,136.7L285.6,136.6L285.9,136.4L286.3,136.3L286.6,136.1L286.9,135.9L287.3,135.7L287.6,135.4L288.0,135.2L288.3,134.9L288.6,134.7L289.0,134.5L289.3,134.4L289.7,134.2L290.0,134.1L290.3,134.0L290.7,134.0L291.0,133.9L291.4,134.0L291.7,134.0L292.0,134.1L292.4,134.1L292.7,134.2L293.1,134.3L293.4,134.4L293.7,134.5L294.1,134.6L294.4,134.6L294.8,134.7L295.1,134.7L295.4,134.6L295.8,134.6L296.1,134.5L296.5,134.4L296.8,134.3L297.1,134.1L297.5,134.0L297.8,133.8L298.2,133.6L298.5,133.4L298.8,133.3L299.2,133.1L299.5,133.0L299.9,132.8L300.2,132.7L300.5,132.7L300.9,132.6L301.2,132.6L301.6,132.6L301.9,132.6L302.2,132.6L302.6,132.7L302.9,132.8L303.3,132.8L303.6,132.9L303.9,133.0L304.3,133.0L304.6,133.1L305.0,133.1L305.3,133.1L305.6,133.1L306.0,133.1L306.3,133.0L306.7,133.0L307.0,132.9L307.3,132.8L307.7,132.7L308.0,132.6L308.4,132.5L308.7,132.3L309.0,132.2L309.4,132.1L309.7,132.0L310.1,131.9L310.4,131.8L310.7,131.8L311.1,131.7L311.4,131.7L311.8,131.7L312.1,131.7L312.4,131.7L312.8,131.7L313.1,131.8L313.5,131.8L313.8,131.9L314.1,131.9L314.5,132.0L314.8,132.0L315.2,132.0L315.5,132.0L315.8,132.1L316.2,132.0L316.5,132.0L316.9,132.0L317.2,132.0L317.6,131.9L317.9,131.8L318.2,131.8L318.6,131.7L318.9,131.6L319.3,131.5L319.6,131.4L319.9,131.4L320.3,131.3L320.6,131.3L321.0,131.2L321.3,131.2L321.6,131.1L322.0,131.1L322.3,131.1L322.7,131.1L323.0,131.1L323.3,131.2L323.7,131.2L324.0,131.2L324.4,131.3L324.7,131.3L325.0,131.3L325.4,131.3L325.7,131.4L326.1,131.4L326.4,131.4L326.7,131.4L327.1,131.4L327.4,131.3L327.8,131.3L328.1,131.3L328.4,131.2L328.8,131.2L329.1,131.1L329.5,131.1L329.8,131.0L330.1,131.0L330.5,131.0L330.8,130.9L331.2,130.9L331.5,130.9L331.8,130.8L332.2,130.8L332.5,130.8L332.9,130.8L333.2,130.8L333.5,130.8L333.9,130.9L334.2,130.9L334.6,130.9L334.9,130.9L335.2,130.9L335.6,131.0L335.9,131.0L336.3,131.0L336.6,131.0L336.9,131.0L337.3,131.0L337.6,131.0L338.0,131.0L338.3,130.9L338.6,130.9L339.0,130.9L339.3,130.9L339.7,130.8L340.0,130.8L340.3,130.8L340.7,130.8L341.0,130.8L341.4,130.7L341.7,130.7L342.0,130.7L342.4,130.7L342.7,130.7L343.1,130.7L343.4,130.7L343.7,130.7L344.1,130.7L344.4,130.7L344.8,130.7L345.1,130.7L345.4,130.7L345.8,130.8L346.1,130.8L346.5,130.8L346.8,130.8L347.2,130.8L347.5,130.8L347.8,130.8L348.2,130.8L348.5,130.8L348.9,130.8L349.2,130.8L349.5,130.7L349.9,130.7L350.2,130.7L350.6,130.7L350.9,130.7L351.2,130.7L351.6,130.7L351.9,130.7L352.3,130.7L352.6,130.7L352.9,130.7L353.3,130.7L353.6,130.7L354.0,130.7L354.3,130.7L354.6,130.7L355.0,130.7L355.3,130.7L355.7,130.7L356.0,130.7L356.3,130.7L356.7,130.7L357.0,130.7L357.4,130.7L357.7,130.7L358.0,130.7L358.4,130.7L358.7,130.7L359.1,130.7L359.4,130.7L359.7,130.7L360.1,130.7L360.4,130.7L360.8,130.7L361.1,130.7L361.4,130.7L361.8,130.7L362.1,130.7L362.5,130.7L362.8,130.7L363.1,130.7L363.5,130.7L363.8,130.7L364.2,130.7L364.5,130.7L364.8,130.7L365.2,130.7L365.5,130.7L365.9,130.7L366.2,130.7L366.5,130.7L366.9,130.7L367.2,130.7L367.6,130.7L367.9,130.7L368.2,130.7L368.6,130.7L368.9,130.7L369.3,130.7L369.6,130.7L369.9,130.7L370.3,130.7L370.6,130.7L371.0,130.7L371.3,130.7L371.6,130.7L372.0,130.7L372.3,130.7L372.7,130.7L373.0,130.7L373.3,130.7L373.7,130.7L374.0,130.7L374.4,130.7L374.7,130.7L375.0,130.7L375.4,130.7L375.7,130.7L376.1,130.7L376.4,130.7L376.7,130.7L377.1,130.7L377.4,130.7L377.8,130.7L378.1,130.7L378.5,130.7L378.8,130.7L379.1,130.7L379.5,130.7L379.8,130.7L380.2,130.7L380.5,130.7L380.8,130.7L381.2,130.7L381.5,130.7L381.9,130.7L382.2,130.7L382.5,130.7L382.9,130.7L383.2,130.7L383.6,130.7L383.9,130.7L384.2,130.7L384.6,130.7L384.9,130.7L385.3,130.7L385.6,130.7L385.9,130.7L386.3,130.7L386.6,130.7L387.0,130.7L387.3,130.7L387.6,130.7L388.0,130.7L388.3,130.7L388.7,130.7L389.0,130.7L389.3,130.7L389.7,130.7L390.0,130.7L390.4,130.7L390.7,130.7L391.0,130.7L391.4,130.7L391.7,130.7L392.1,130.7L392.4,130.7L392.7,130.7L393.1,130.7L393.4,130.7L393.8,130.7L394.1,130.7L394.4,130.7L394.8,130.7L395.1,130.7L395.5,130.7L395.8,130.7L396.1,130.7L396.5,130.7L396.8,130.7L397.2,130.7L397.5,130.7L397.8,130.7L398.2,130.7L398.5,130.7L398.9,130.7L399.2,130.7L399.5,130.7L399.9,130.7L400.2,130.7L400.6,130.7L400.9,130.7L401.2,130.7L401.6,130.7L401.9,130.7L402.3,130.7L402.6,130.7L402.9,130.7L403.3,130.7L403.6,130.7L404.0,130.7L404.3,130.7L404.6,130.7L405.0,130.7L405.3,130.7L405.7,130.7L406.0,130.7L406.3,130.7L406.7,130.7L407.0,130.7L407.4,130.7L407.7,130.7L408.0,130.7L408.4,130.7L408.7,130.7L409.1,130.7L409.4,130.7L409.8,130.7L410.1,130.7L410.4,130.7L410.8,130.7L411.1,130.7L411.5,130.7L411.8,130.7L412.1,130.7L412.5,130.7L412.8,130.7L413.2,130.7L413.5,130.7L413.8,130.7L414.2,130.7" stroke="#38a822" stroke-width="1.4"/><path d="M51.5,176.7L51.8,176.7L52.2,176.6L52.5,176.6L52.9,176.6L53.2,176.6L53.5,176.6L53.9,176.6L54.2,176.6L54.6,176.6L54.9,176.6L55.2,176.6L55.6,176.6L55.9,176.6L56.3,176.6L56.6,176.6L56.9,176.6L57.3,176.6L57.6,176.6L58.0,176.6L58.3,176.6L58.6,176.6L59.0,176.6L59.3,176.6L59.7,176.6L60.0,176.6L60.3,176.6L60.7,176.6L61.0,176.6L61.4,176.6L61.7,176.6L62.0,176.6L62.4,176.6L62.7,176.6L63.1,176.6L63.4,176.6L63.7,176.6L64.1,176.6L64.4,176.6L64.8,176.6L65.1,176.6L65.4,176.6L65.8,176.6L66.1,176.6L66.5,176.6L66.8,176.6L67.2,176.6L67.5,176.6L67.8,176.6L68.2,176.6L68.5,176.6L68.9,176.6L69.2,176.6L69.5,176.6L69.9,176.6L70.2,176.6L70.6,176.6L70.9,176.6L71.2,176.6L71.6,176.6L71.9,176.6L72.3,176.6L72.6,176.6L72.9,176.6L73.3,176.6L73.6,176.6L74.0,176.6L74.3,176.6L74.6,176.6L75.0,176.6L75.3,176.6L75.7,176.6L76.0,176.6L76.3,176.6L76.7,176.6L77.0,176.6L77.4,176.6L77.7,176.6L78.0,176.6L78.4,176.6L78.7,176.6L79.1,176.6L79.4,176.6L79.7,176.6L80.1,176.6L80.4,176.6L80.8,176.6L81.1,176.6L81.4,176.6L81.8,176.6L82.1,176.6L82.5,176.6L82.8,176.6L83.1,176.6L83.5,176.6L83.8,176.6L84.2,176.6L84.5,176.6L84.8,176.6L85.2,176.6L85.5,176.6L85.9,176.6L86.2,176.6L86.5,176.6L86.9,176.6L87.2,176.6L87.6,176.6L87.9,176.6L88.2,176.6L88.6,176.6L88.9,176.6L89.3,176.6L89.6,176.6L89.9,176.6L90.3,176.6L90.6,176.6L91.0,176.6L91.3,176.6L91.6,176.6L92.0,176.6L92.3,176.6L92.7,176.6L93.0,176.6L93.3,176.6L93.7,176.6L94.0,176.6L94.4,176.6L94.7,176.6L95.0,176.6L95.4,176.6L95.7,176.6L96.1,176.6L96.4,176.6L96.7,176.6L97.1,176.6L97.4,176.6L97.8,176.6L98.1,176.6L98.5,176.6L98.8,176.6L99.1,176.6L99.5,176.6L99.8,176.6L100.2,176.6L100.5,176.6L100.8,176.6L101.2,176.6L101.5,176.6L101.9,176.6L102.2,176.6L102.5,176.6L102.9,176.6L103.2,176.6L103.6,176.6L103.9,176.6L104.2,176.6L104.6,176.6L104.9,176.6L105.3,176.6L105.6,176.6L105.9,176.6L106.3,176.6L106.6,176.6L107.0,176.6L107.3,176.6L107.6,176.6L108.0,176.6L108.3,176.5L108.7,176.5L109.0,176.5L109.3,176.5L109.7,176.5L110.0,176.5L110.4,176.5L110.7,176.5L111.0,176.5L111.4,176.5L111.7,176.5L112.1,176.5L112.4,176.5L112.7,176.5L113.1,176.5L113.4,176.5L113.8,176.5L114.1,176.5L114.4,176.5L114.8,176.5L115.1,176.5L115.5,176.4L115.8,176.4L116.1,176.4L116.5,176.4L116.8,176.4L117.2,176.4L117.5,176.4L117.8,176.4L118.2,176.4L118.5,176.4L118.9,176.4L119.2,176.4L119.5,176.4L119.9,176.4L120.2,176.3L120.6,176.3L120.9,176.3L121.2,176.3L121.6,176.3L121.9,176.3L122.3,176.3L122.6,176.3L122.9,176.3L123.3,176.3L123.6,176.2L124.0,176.2L124.3,176.2L124.6,176.2L125.0,176.2L125.3,176.2L125.7,176.2L126.0,176.2L126.3,176.2L126.7,176.1L127.0,176.1L127.4,176.1L127.7,176.1L128.0,176.1L128.4,176.1L128.7,176.1L129.1,176.0L129.4,176.0L129.8,176.0L130.1,176.0L130.4,176.0L130.8,176.0L131.1,175.9L131.5,175.9L131.8,175.9L132.1,175.9L132.5,175.9L132.8,175.9L133.2,175.8L133.5,175.8L133.8,175.8L134.2,175.8L134.5,175.8L134.9,175.7L135.2,175.7L135.5,175.7L135.9,175.7L136.2,175.7L136.6,175.6L136.9,175.6L137.2,175.6L137.6,175.6L137.9,175.5L138.3,175.5L138.6,175.5L138.9,175.5L139.3,175.4L139.6,175.4L140.0,175.4L140.3,175.4L140.6,175.3L141.0,175.3L141.3,175.3L141.7,175.2L142.0,175.2L142.3,175.2L142.7,175.2L143.0,175.1L143.4,175.1L143.7,175.1L144.0,175.0L144.4,175.0L144.7,175.0L145.1,174.9L145.4,174.9L145.7,174.9L146.1,174.8L146.4,174.8L146.8,174.8L147.1,174.7L147.4,174.7L147.8,174.6L148.1,174.6L148.5,174.6L148.8,174.5L149.1,174.5L149.5,174.4L149.8,174.4L150.2,174.4L150.5,174.3L150.8,174.3L151.2,174.2L151.5,174.2L151.9,174.1L152.2,174.1L152.5,174.1L152.9,174.0L153.2,174.0L153.6,173.9L153.9,173.9L154.2,173.8L154.6,173.8L154.9,173.7L155.3,173.7L155.6,173.6L155.9,173.6L156.3,173.5L156.6,173.4L157.0,173.4L157.3,173.3L157.6,173.3L158.0,173.2L158.3,173.2L158.7,173.1L159.0,173.0L159.3,173.0L159.7,172.9L160.0,172.9L160.4,172.8L160.7,172.7L161.1,172.7L161.4,172.6L161.7,172.5L162.1,172.5L162.4,172.4L162.8,172.3L163.1,172.3L163.4,172.2L163.8,172.1L164.1,172.1L164.5,172.0L164.8,171.9L165.1,171.9L165.5,171.8L165.8,171.7L166.2,171.6L166.5,171.6L166.8,171.5L167.2,171.4L167.5,171.3L167.9,171.2L168.2,171.2L168.5,171.1L168.9,171.0L169.2,170.9L169.6,170.8L169.9,170.7L170.2,170.7L170.6,170.6L170.9,170.5L171.3,170.4L171.6,170.3L171.9,170.2L172.3,170.1L172.6,170.0L173.0,169.9L173.3,169.9L173.6,169.8L174.0,169.7L174.3,169.6L174.7,169.5L175.0,169.4L175.3,169.3L175.7,169.2L176.0,169.1L176.4,169.0L176.7,168.9L177.0,168.8L177.4,168.7L177.7,168.6L178.1,168.5L178.4,168.3L178.7,168.2L179.1,168.1L179.4,168.0L179.8,167.9L180.1,167.8L180.4,167.7L180.8,167.6L181.1,167.5L181.5,167.3L181.8,167.2L182.1,167.1L182.5,167.0L182.8,166.9L183.2,166.8L183.5,166.6L183.8,166.5L184.2,166.4L184.5,166.3L184.9,166.1L185.2,166.0L185.5,165.9L185.9,165.8L186.2,165.6L186.6,165.5L186.9,165.4L187.2,165.2L187.6,165.1L187.9,165.0L188.3,164.8L188.6,164.7L188.9,164.6L189.3,164.4L189.6,164.3L190.0,164.2L190.3,164.0L190.6,163.9L191.0,163.7L191.3,163.6L191.7,163.4L192.0,163.3L192.4,163.2L192.7,163.0L193.0,162.9L193.4,162.7L193.7,162.6L194.1,162.4L194.4,162.3L194.7,162.1L195.1,162.0L195.4,161.8L195.8,161.7L196.1,161.5L196.4,161.3L196.8,161.2L197.1,161.0L197.5,160.9L197.8,160.7L198.1,160.6L198.5,160.4L198.8,160.2L199.2,160.1L199.5,159.9L199.8,159.7L200.2,159.6L200.5,159.4L200.9,159.2L201.2,159.1L201.5,158.9L201.9,158.7L202.2,158.6L202.6,158.4L202.9,158.2L203.2,158.0L203.6,157.9L203.9,157.7L204.3,157.5L204.6,157.3L204.9,157.2L205.3,157.0L205.6,156.8L206.0,156.6L206.3,156.5L206.6,156.3L207.0,156.1L207.3,155.9L207.7,155.7L208.0,155.5L208.3,155.4L208.7,155.2L209.0,155.0L209.4,154.8L209.7,154.6L210.0,154.4L210.4,154.2L210.7,154.0L211.1,153.9L211.4,153.7L211.7,153.5L212.1,153.3L212.4,153.1L212.8,152.9L213.1,152.7L213.4,152.5L213.8,152.3L214.1,152.1L214.5,151.9L214.8,151.7L215.1,151.5L215.5,151.3L215.8,151.1L216.2,150.9L216.5,150.7L216.8,150.5L217.2,150.3L217.5,150.1L217.9,149.9L218.2,149.7L218.5,149.5L218.9,149.3L219.2,149.1L219.6,148.9L219.9,148.7L220.2,148.5L220.6,148.3L220.9,148.1L221.3,147.9L221.6,147.7L221.9,147.5L222.3,147.3L222.6,147.1L223.0,146.9L223.3,146.7L223.7,146.5L224.0,146.3L224.3,146.0L224.7,145.8L225.0,145.6L225.4,145.4L225.7,145.2L226.0,145.0L226.4,144.8L226.7,144.6L227.1,144.4L227.4,144.2L227.7,143.9L228.1,143.7L228.4,143.5L228.8,143.3L229.1,143.1L229.4,142.9L229.8,142.7L230.1,142.5L230.5,142.3L230.8,142.1L231.1,141.8L231.5,141.6L231.8,141.4L232.2,141.2L232.5,141.0L232.8,140.8L233.2,140.6L233.5,140.4L233.9,140.1L234.2,139.9L234.5,139.7L234.9,139.5L235.2,139.3L235.6,139.1L235.9,138.9L236.2,138.7L236.6,138.5L236.9,138.2L237.3,138.0L237.6,137.8L237.9,137.6L238.3,137.4L238.6,137.2L239.0,137.0L239.3,136.8L239.6,136.6L240.0,136.4L240.3,136.1L240.7,135.9L241.0,135.7L241.3,135.5L241.7,135.3L242.0,135.1L242.4,134.9L242.7,134.7L243.0,134.5L243.4,134.3L243.7,134.1L244.1,133.9L244.4,133.7L244.7,133.4L245.1,133.2L245.4,133.0L245.8,132.8L246.1,132.6L246.4,132.4L246.8,132.2L247.1,132.0L247.5,131.8L247.8,131.6L248.1,131.4L248.5,131.2L248.8,131.0L249.2,130.8L249.5,130.6L249.8,130.4L250.2,130.2L250.5,130.0L250.9,129.8L251.2,129.6L251.5,129.4L251.9,129.2L252.2,129.0L252.6,128.8L252.9,128.7L253.2,128.5L253.6,128.3L253.9,128.1L254.3,127.9L254.6,127.7L255.0,127.5L255.3,127.3L255.6,127.1L256.0,126.9L256.3,126.7L256.7,126.6L257.0,126.4L257.3,126.2L257.7,126.0L258.0,125.8L258.4,125.6L258.7,125.5L259.0,125.3L259.4,125.1L259.7,124.9L260.1,124.7L260.4,124.6L260.7,124.4L261.1,124.2L261.4,124.0L261.8,123.8L262.1,123.7L262.4,123.5L262.8,123.3L263.1,123.1L263.5,123.0L263.8,122.8L264.1,122.6L264.5,122.5L264.8,122.3L265.2,122.1L265.5,122.0L265.8,121.8L266.2,121.6L266.5,121.5L266.9,121.3L267.2,121.1L267.5,121.0L267.9,120.8L268.2,120.7L268.6,120.5L268.9,120.3L269.2,120.2L269.6,120.0L269.9,119.9L270.3,119.7L270.6,119.6L270.9,119.4L271.3,119.3L271.6,119.1L272.0,118.9L272.3,118.8L272.6,118.7L273.0,118.5L273.3,118.4L273.7,118.2L274.0,118.1L274.3,117.9L274.7,117.8L275.0,117.6L275.4,117.5L275.7,117.4L276.0,117.2L276.4,117.1L276.7,116.9L277.1,116.8L277.4,116.7L277.7,116.5L278.1,116.4L278.4,116.3L278.8,116.1L279.1,116.0L279.4,115.9L279.8,115.7L280.1,115.6L280.5,115.5L280.8,115.4L281.1,115.2L281.5,115.1L281.8,115.0L282.2,114.9L282.5,114.7L282.8,114.6L283.2,114.5L283.5,114.4L283.9,114.3L284.2,114.2L284.5,114.0L284.9,113.9L285.2,113.8L285.6,113.7L285.9,113.6L286.3,113.5L286.6,113.4L286.9,113.3L287.3,113.1L287.6,113.0L288.0,112.9L288.3,112.8L288.6,112.7L289.0,112.6L289.3,112.5L289.7,112.4L290.0,112.3L290.3,112.2L290.7,112.1L291.0,112.0L291.4,111.9L291.7,111.8L292.0,111.7L292.4,111.6L292.7,111.5L293.1,111.4L293.4,111.3L293.7,111.3L294.1,111.2L294.4,111.1L294.8,111.0L295.1,110.9L295.4,110.8L295.8,110.7L296.1,110.6L296.5,110.6L296.8,110.5L297.1,110.4L297.5,110.3L297.8,110.2L298.2,110.2L298.5,110.1L298.8,110.0L299.2,109.9L299.5,109.8L299.9,109.8L300.2,109.7L300.5,109.6L300.9,109.5L301.2,109.5L301.6,109.4L301.9,109.3L302.2,109.3L302.6,109.2L302.9,109.1L303.3,109.1L303.6,109.0L303.9,108.9L304.3,108.9L304.6,108.8L305.0,108.7L305.3,108.7L305.6,108.6L306.0,108.5L306.3,108.5L306.7,108.4L307.0,108.4L307.3,108.3L307.7,108.2L308.0,108.2L308.4,108.1L308.7,108.1L309.0,108.0L309.4,108.0L309.7,107.9L310.1,107.9L310.4,107.8L310.7,107.7L311.1,107.7L311.4,107.6L311.8,107.6L312.1,107.5L312.4,107.5L312.8,107.4L313.1,107.4L313.5,107.4L313.8,107.3L314.1,107.3L314.5,107.2L314.8,107.2L315.2,107.1L315.5,107.1L315.8,107.0L316.2,107.0L316.5,107.0L316.9,106.9L317.2,106.9L317.6,106.8L317.9,106.8L318.2,106.8L318.6,106.7L318.9,106.7L319.3,106.7L319.6,106.6L319.9,106.6L320.3,106.5L320.6,106.5L321.0,106.5L321.3,106.4L321.6,106.4L322.0,106.4L322.3,106.3L322.7,106.3L323.0,106.3L323.3,106.3L323.7,106.2L324.0,106.2L324.4,106.2L324.7,106.1L325.0,106.1L325.4,106.1L325.7,106.1L326.1,106.0L326.4,106.0L326.7,106.0L327.1,105.9L327.4,105.9L327.8,105.9L328.1,105.9L328.4,105.9L328.8,105.8L329.1,105.8L329.5,105.8L329.8,105.8L330.1,105.7L330.5,105.7L330.8,105.7L331.2,105.7L331.5,105.7L331.8,105.6L332.2,105.6L332.5,105.6L332.9,105.6L333.2,105.6L333.5,105.5L333.9,105.5L334.2,105.5L334.6,105.5L334.9,105.5L335.2,105.5L335.6,105.4L335.9,105.4L336.3,105.4L336.6,105.4L336.9,105.4L337.3,105.4L337.6,105.3L338.0,105.3L338.3,105.3L338.6,105.3L339.0,105.3L339.3,105.3L339.7,105.3L340.0,105.3L340.3,105.2L340.7,105.2L341.0,105.2L341.4,105.2L341.7,105.2L342.0,105.2L342.4,105.2L342.7,105.2L343.1,105.1L343.4,105.1L343.7,105.1L344.1,105.1L344.4,105.1L344.8,105.1L345.1,105.1L345.4,105.1L345.8,105.1L346.1,105.1L346.5,105.1L346.8,105.0L347.2,105.0L347.5,105.0L347.8,105.0L348.2,105.0L348.5,105.0L348.9,105.0L349.2,105.0L349.5,105.0L349.9,105.0L350.2,105.0L350.6,105.0L350.9,105.0L351.2,105.0L351.6,105.0L351.9,104.9L352.3,104.9L352.6,104.9L352.9,104.9L353.3,104.9L353.6,104.9L354.0,104.9L354.3,104.9L354.6,104.9L355.0,104.9L355.3,104.9L355.7,104.9L356.0,104.9L356.3,104.9L356.7,104.9L357.0,104.9L357.4,104.9L357.7,104.9L358.0,104.9L358.4,104.9L358.7,104.9L359.1,104.9L359.4,104.9L359.7,104.9L360.1,104.8L360.4,104.8L360.8,104.8L361.1,104.8L361.4,104.8L361.8,104.8L362.1,104.8L362.5,104.8L362.8,104.8L363.1,104.8L363.5,104.8L363.8,104.8L364.2,104.8L364.5,104.8L364.8,104.8L365.2,104.8L365.5,104.8L365.9,104.8L366.2,104.8L366.5,104.8L366.9,104.8L367.2,104.8L367.6,104.8L367.9,104.8L368.2,104.8L368.6,104.8L368.9,104.8L369.3,104.8L369.6,104.8L369.9,104.8L370.3,104.8L370.6,104.8L371.0,104.8L371.3,104.8L371.6,104.8L372.0,104.8L372.3,104.8L372.7,104.8L373.0,104.8L373.3,104.8L373.7,104.8L374.0,104.8L374.4,104.8L374.7,104.8L375.0,104.8L375.4,104.8L375.7,104.8L376.1,104.8L376.4,104.8L376.7,104.8L377.1,104.8L377.4,104.8L377.8,104.8L378.1,104.8L378.5,104.8L378.8,104.8L379.1,104.8L379.5,104.8L379.8,104.8L380.2,104.8L380.5,104.8L380.8,104.8L381.2,104.8L381.5,104.8L381.9,104.8L382.2,104.8L382.5,104.8L382.9,104.8L383.2,104.8L383.6,104.8L383.9,104.8L384.2,104.8L384.6,104.8L384.9,104.8L385.3,104.8L385.6,104.8L385.9,104.8L386.3,104.8L386.6,104.8L387.0,104.8L387.3,104.8L387.6,104.8L388.0,104.8L388.3,104.8L388.7,104.8L389.0,104.8L389.3,104.8L389.7,104.8L390.0,104.8L390.4,104.8L390.7,104.8L391.0,104.8L391.4,104.8L391.7,104.8L392.1,104.8L392.4,104.8L392.7,104.8L393.1,104.8L393.4,104.8L393.8,104.8L394.1,104.8L394.4,104.8L394.8,104.8L395.1,104.8L395.5,104.8L395.8,104.8L396.1,104.8L396.5,104.8L396.8,104.8L397.2,104.8L397.5,104.8L397.8,104.8L398.2,104.8L398.5,104.8L398.9,104.8L399.2,104.8L399.5,104.8L399.9,104.8L400.2,104.8L400.6,104.8L400.9,104.8L401.2,104.8L401.6,104.8L401.9,104.8L402.3,104.8L402.6,104.8L402.9,104.8L403.3,104.8L403.6,104.8L404.0,104.8L404.3,104.8L404.6,104.8L405.0,104.8L405.3,104.8L405.7,104.8L406.0,104.8L406.3,104.8L406.7,104.8L407.0,104.8L407.4,104.8L407.7,104.8L408.0,104.8L408.4,104.8L408.7,104.8L409.1,104.8L409.4,104.8L409.8,104.8L410.1,104.8L410.4,104.8L410.8,104.8L411.1,104.8L411.5,104.8L411.8,104.8L412.1,104.8L412.5,104.8L412.8,104.8L413.2,104.8L413.5,104.8L413.8,104.8L414.2,104.8" stroke="#2359bf" stroke-width="1.25" stroke-dasharray="8.1,2"/><path d="M51.5,176.7L51.8,176.7L52.2,176.7L52.5,176.7L52.9,176.7L53.2,176.7L53.5,176.7L53.9,176.7L54.2,176.7L54.6,176.6L54.9,176.6L55.2,176.6L55.6,176.6L55.9,176.6L56.3,176.6L56.6,176.6L56.9,176.6L57.3,176.6L57.6,176.6L58.0,176.6L58.3,176.6L58.6,176.6L59.0,176.6L59.3,176.6L59.7,176.6L60.0,176.6L60.3,176.6L60.7,176.6L61.0,176.6L61.4,176.6L61.7,176.6L62.0,176.6L62.4,176.6L62.7,176.6L63.1,176.6L63.4,176.6L63.7,176.6L64.1,176.6L64.4,176.6L64.8,176.6L65.1,176.6L65.4,176.6L65.8,176.6L66.1,176.6L66.5,176.6L66.8,176.6L67.2,176.6L67.5,176.6L67.8,176.6L68.2,176.6L68.5,176.6L68.9,176.6L69.2,176.6L69.5,176.6L69.9,176.6L70.2,176.6L70.6,176.6L70.9,176.6L71.2,176.6L71.6,176.6L71.9,176.6L72.3,176.6L72.6,176.6L72.9,176.6L73.3,176.6L73.6,176.6L74.0,176.6L74.3,176.6L74.6,176.6L75.0,176.6L75.3,176.6L75.7,176.6L76.0,176.6L76.3,176.6L76.7,176.6L77.0,176.6L77.4,176.6L77.7,176.6L78.0,176.6L78.4,176.6L78.7,176.6L79.1,176.6L79.4,176.6L79.7,176.6L80.1,176.6L80.4,176.6L80.8,176.6L81.1,176.6L81.4,176.6L81.8,176.6L82.1,176.6L82.5,176.6L82.8,176.6L83.1,176.6L83.5,176.6L83.8,176.6L84.2,176.6L84.5,176.6L84.8,176.6L85.2,176.6L85.5,176.6L85.9,176.6L86.2,176.6L86.5,176.6L86.9,176.6L87.2,176.6L87.6,176.6L87.9,176.6L88.2,176.6L88.6,176.6L88.9,176.6L89.3,176.6L89.6,176.6L89.9,176.6L90.3,176.6L90.6,176.6L91.0,176.6L91.3,176.6L91.6,176.6L92.0,176.6L92.3,176.6L92.7,176.6L93.0,176.6L93.3,176.6L93.7,176.6L94.0,176.6L94.4,176.6L94.7,176.6L95.0,176.6L95.4,176.6L95.7,176.6L96.1,176.6L96.4,176.6L96.7,176.6L97.1,176.6L97.4,176.6L97.8,176.6L98.1,176.6L98.5,176.6L98.8,176.6L99.1,176.6L99.5,176.6L99.8,176.6L100.2,176.6L100.5,176.6L100.8,176.6L101.2,176.6L101.5,176.6L101.9,176.6L102.2,176.6L102.5,176.6L102.9,176.6L103.2,176.6L103.6,176.6L103.9,176.6L104.2,176.6L104.6,176.6L104.9,176.6L105.3,176.6L105.6,176.6L105.9,176.6L106.3,176.6L106.6,176.6L107.0,176.6L107.3,176.6L107.6,176.6L108.0,176.5L108.3,176.5L108.7,176.5L109.0,176.5L109.3,176.5L109.7,176.5L110.0,176.5L110.4,176.5L110.7,176.5L111.0,176.5L111.4,176.5L111.7,176.5L112.1,176.5L112.4,176.5L112.7,176.5L113.1,176.5L113.4,176.5L113.8,176.5L114.1,176.5L114.4,176.5L114.8,176.5L115.1,176.5L115.5,176.5L115.8,176.5L116.1,176.4L116.5,176.4L116.8,176.4L117.2,176.4L117.5,176.4L117.8,176.4L118.2,176.4L118.5,176.4L118.9,176.4L119.2,176.4L119.5,176.3L119.9,176.3L120.2,176.3L120.6,176.3L120.9,176.3L121.2,176.3L121.6,176.3L121.9,176.3L122.3,176.3L122.6,176.3L122.9,176.3L123.3,176.3L123.6,176.3L124.0,176.2L124.3,176.2L124.6,176.2L125.0,176.2L125.3,176.2L125.7,176.2L126.0,176.2L126.3,176.2L126.7,176.2L127.0,176.1L127.4,176.1L127.7,176.1L128.0,176.1L128.4,176.1L128.7,176.1L129.1,176.0L129.4,176.0L129.8,176.0L130.1,176.0L130.4,175.9L130.8,175.9L131.1,175.9L131.5,175.9L131.8,175.9L132.1,175.9L132.5,175.8L132.8,175.8L133.2,175.8L133.5,175.8L133.8,175.8L134.2,175.8L134.5,175.8L134.9,175.8L135.2,175.8L135.5,175.7L135.9,175.7L136.2,175.7L136.6,175.7L136.9,175.7L137.2,175.6L137.6,175.6L137.9,175.6L138.3,175.5L138.6,175.5L138.9,175.5L139.3,175.4L139.6,175.4L140.0,175.4L140.3,175.3L140.6,175.3L141.0,175.2L141.3,175.2L141.7,175.2L142.0,175.2L142.3,175.1L142.7,175.1L143.0,175.1L143.4,175.1L143.7,175.0L144.0,175.0L144.4,175.0L144.7,175.0L145.1,175.0L145.4,174.9L145.7,174.9L146.1,174.9L146.4,174.9L146.8,174.8L147.1,174.8L147.4,174.8L147.8,174.7L148.1,174.7L148.5,174.6L148.8,174.6L149.1,174.5L149.5,174.4L149.8,174.4L150.2,174.3L150.5,174.3L150.8,174.2L151.2,174.1L151.5,174.1L151.9,174.0L152.2,174.0L152.5,174.0L152.9,173.9L153.2,173.9L153.6,173.8L153.9,173.8L154.2,173.8L154.6,173.8L154.9,173.7L155.3,173.7L155.6,173.7L155.9,173.6L156.3,173.6L156.6,173.6L157.0,173.5L157.3,173.5L157.6,173.4L158.0,173.3L158.3,173.3L158.7,173.2L159.0,173.1L159.3,173.0L159.7,172.9L160.0,172.9L160.4,172.8L160.7,172.7L161.1,172.6L161.4,172.5L161.7,172.4L162.1,172.3L162.4,172.3L162.8,172.2L163.1,172.1L163.4,172.1L163.8,172.0L164.1,172.0L164.5,171.9L164.8,171.9L165.1,171.9L165.5,171.8L165.8,171.8L166.2,171.7L166.5,171.7L166.8,171.6L167.2,171.6L167.5,171.5L167.9,171.4L168.2,171.3L168.5,171.2L168.9,171.1L169.2,171.0L169.6,170.9L169.9,170.8L170.2,170.7L170.6,170.6L170.9,170.4L171.3,170.3L171.6,170.2L171.9,170.1L172.3,170.0L172.6,169.8L173.0,169.7L173.3,169.7L173.6,169.6L174.0,169.5L174.3,169.4L174.7,169.4L175.0,169.3L175.3,169.3L175.7,169.2L176.0,169.2L176.4,169.1L176.7,169.0L177.0,169.0L177.4,168.9L177.7,168.8L178.1,168.7L178.4,168.6L178.7,168.5L179.1,168.4L179.4,168.2L179.8,168.1L180.1,167.9L180.4,167.8L180.8,167.6L181.1,167.4L181.5,167.3L181.8,167.1L182.1,166.9L182.5,166.8L182.8,166.6L183.2,166.5L183.5,166.4L183.8,166.3L184.2,166.2L184.5,166.1L184.9,166.0L185.2,165.9L185.5,165.8L185.9,165.8L186.2,165.7L186.6,165.6L186.9,165.6L187.2,165.5L187.6,165.4L187.9,165.3L188.3,165.2L188.6,165.0L188.9,164.9L189.3,164.8L189.6,164.6L190.0,164.4L190.3,164.2L190.6,164.0L191.0,163.8L191.3,163.6L191.7,163.4L192.0,163.2L192.4,163.0L192.7,162.8L193.0,162.6L193.4,162.4L193.7,162.3L194.1,162.1L194.4,162.0L194.7,161.9L195.1,161.8L195.4,161.7L195.8,161.6L196.1,161.5L196.4,161.4L196.8,161.3L197.1,161.2L197.5,161.1L197.8,161.0L198.1,160.9L198.5,160.8L198.8,160.7L199.2,160.5L199.5,160.3L199.8,160.1L200.2,159.9L200.5,159.7L200.9,159.5L201.2,159.3L201.5,159.0L201.9,158.8L202.2,158.5L202.6,158.3L202.9,158.0L203.2,157.8L203.6,157.6L203.9,157.4L204.3,157.2L204.6,157.0L204.9,156.9L205.3,156.7L205.6,156.6L206.0,156.5L206.3,156.4L206.6,156.3L207.0,156.2L207.3,156.1L207.7,156.0L208.0,155.9L208.3,155.8L208.7,155.7L209.0,155.5L209.4,155.3L209.7,155.2L210.0,155.0L210.4,154.7L210.7,154.5L211.1,154.2L211.4,154.0L211.7,153.7L212.1,153.4L212.4,153.2L212.8,152.9L213.1,152.6L213.4,152.3L213.8,152.1L214.1,151.9L214.5,151.6L214.8,151.4L215.1,151.3L215.5,151.1L215.8,150.9L216.2,150.8L216.5,150.7L216.8,150.6L217.2,150.5L217.5,150.4L217.9,150.3L218.2,150.1L218.5,150.0L218.9,149.9L219.2,149.7L219.6,149.6L219.9,149.4L220.2,149.2L220.6,149.0L220.9,148.7L221.3,148.5L221.6,148.2L221.9,147.9L222.3,147.6L222.6,147.3L223.0,147.0L223.3,146.7L223.7,146.4L224.0,146.1L224.3,145.9L224.7,145.6L225.0,145.4L225.4,145.2L225.7,145.0L226.0,144.8L226.4,144.7L226.7,144.6L227.1,144.4L227.4,144.3L227.7,144.2L228.1,144.1L228.4,144.0L228.8,143.9L229.1,143.7L229.4,143.6L229.8,143.4L230.1,143.3L230.5,143.1L230.8,142.8L231.1,142.6L231.5,142.3L231.8,142.1L232.2,141.8L232.5,141.5L232.8,141.2L233.2,140.9L233.5,140.6L233.9,140.3L234.2,140.0L234.5,139.7L234.9,139.5L235.2,139.2L235.6,139.0L235.9,138.8L236.2,138.6L236.6,138.5L236.9,138.3L237.3,138.2L237.6,138.1L237.9,137.9L238.3,137.8L238.6,137.7L239.0,137.6L239.3,137.5L239.6,137.4L240.0,137.2L240.3,137.1L240.7,136.9L241.0,136.7L241.3,136.5L241.7,136.2L242.0,136.0L242.4,135.7L242.7,135.4L243.0,135.1L243.4,134.8L243.7,134.5L244.1,134.2L244.4,133.9L244.7,133.7L245.1,133.4L245.4,133.2L245.8,132.9L246.1,132.7L246.4,132.5L246.8,132.4L247.1,132.2L247.5,132.1L247.8,132.0L248.1,131.9L248.5,131.8L248.8,131.7L249.2,131.6L249.5,131.4L249.8,131.3L250.2,131.2L250.5,131.1L250.9,130.9L251.2,130.7L251.5,130.5L251.9,130.3L252.2,130.1L252.6,129.9L252.9,129.6L253.2,129.3L253.6,129.1L253.9,128.8L254.3,128.5L254.6,128.3L255.0,128.0L255.3,127.8L255.6,127.5L256.0,127.3L256.3,127.1L256.7,126.9L257.0,126.8L257.3,126.6L257.7,126.5L258.0,126.4L258.4,126.3L258.7,126.2L259.0,126.1L259.4,126.0L259.7,125.9L260.1,125.8L260.4,125.7L260.7,125.6L261.1,125.4L261.4,125.3L261.8,125.1L262.1,125.0L262.4,124.8L262.8,124.6L263.1,124.3L263.5,124.1L263.8,123.9L264.1,123.6L264.5,123.4L264.8,123.2L265.2,122.9L265.5,122.7L265.8,122.5L266.2,122.3L266.5,122.1L266.9,121.9L267.2,121.8L267.5,121.7L267.9,121.5L268.2,121.4L268.6,121.3L268.9,121.2L269.2,121.2L269.6,121.1L269.9,121.0L270.3,120.9L270.6,120.8L270.9,120.8L271.3,120.7L271.6,120.5L272.0,120.4L272.3,120.3L272.6,120.1L273.0,120.0L273.3,119.8L273.7,119.6L274.0,119.4L274.3,119.2L274.7,119.0L275.0,118.8L275.4,118.6L275.7,118.4L276.0,118.2L276.4,118.1L276.7,117.9L277.1,117.8L277.4,117.6L277.7,117.5L278.1,117.4L278.4,117.3L278.8,117.2L279.1,117.1L279.4,117.1L279.8,117.0L280.1,117.0L280.5,116.9L280.8,116.8L281.1,116.8L281.5,116.7L281.8,116.6L282.2,116.5L282.5,116.4L282.8,116.3L283.2,116.2L283.5,116.0L283.9,115.9L284.2,115.8L284.5,115.6L284.9,115.4L285.2,115.3L285.6,115.1L285.9,115.0L286.3,114.8L286.6,114.7L286.9,114.6L287.3,114.4L287.6,114.3L288.0,114.2L288.3,114.1L288.6,114.0L289.0,114.0L289.3,113.9L289.7,113.9L290.0,113.8L290.3,113.8L290.7,113.7L291.0,113.7L291.4,113.6L291.7,113.6L292.0,113.5L292.4,113.5L292.7,113.4L293.1,113.3L293.4,113.2L293.7,113.1L294.1,113.0L294.4,112.9L294.8,112.8L295.1,112.7L295.4,112.6L295.8,112.4L296.1,112.3L296.5,112.2L296.8,112.1L297.1,112.0L297.5,111.9L297.8,111.8L298.2,111.7L298.5,111.7L298.8,111.6L299.2,111.6L299.5,111.5L299.9,111.5L300.2,111.4L300.5,111.4L300.9,111.4L301.2,111.3L301.6,111.3L301.9,111.3L302.2,111.2L302.6,111.2L302.9,111.1L303.3,111.1L303.6,111.0L303.9,111.0L304.3,110.9L304.6,110.8L305.0,110.8L305.3,110.7L305.6,110.6L306.0,110.5L306.3,110.4L306.7,110.3L307.0,110.3L307.3,110.2L307.7,110.1L308.0,110.1L308.4,110.0L308.7,109.9L309.0,109.9L309.4,109.9L309.7,109.8L310.1,109.8L310.4,109.8L310.7,109.7L311.1,109.7L311.4,109.7L311.8,109.7L312.1,109.7L312.4,109.6L312.8,109.6L313.1,109.6L313.5,109.6L313.8,109.5L314.1,109.5L314.5,109.4L314.8,109.4L315.2,109.3L315.5,109.3L315.8,109.2L316.2,109.2L316.5,109.1L316.9,109.1L317.2,109.0L317.6,109.0L317.9,108.9L318.2,108.9L318.6,108.9L318.9,108.8L319.3,108.8L319.6,108.8L319.9,108.7L320.3,108.7L320.6,108.7L321.0,108.7L321.3,108.7L321.6,108.7L322.0,108.6L322.3,108.6L322.7,108.6L323.0,108.6L323.3,108.6L323.7,108.6L324.0,108.6L324.4,108.5L324.7,108.5L325.0,108.5L325.4,108.5L325.7,108.4L326.1,108.4L326.4,108.4L326.7,108.3L327.1,108.3L327.4,108.3L327.8,108.2L328.1,108.2L328.4,108.2L328.8,108.2L329.1,108.1L329.5,108.1L329.8,108.1L330.1,108.1L330.5,108.1L330.8,108.1L331.2,108.0L331.5,108.0L331.8,108.0L332.2,108.0L332.5,108.0L332.9,108.0L333.2,108.0L333.5,108.0L333.9,108.0L334.2,108.0L334.6,108.0L334.9,108.0L335.2,108.0L335.6,107.9L335.9,107.9L336.3,107.9L336.6,107.9L336.9,107.9L337.3,107.9L337.6,107.8L338.0,107.8L338.3,107.8L338.6,107.8L339.0,107.8L339.3,107.8L339.7,107.8L340.0,107.7L340.3,107.7L340.7,107.7L341.0,107.7L341.4,107.7L341.7,107.7L342.0,107.7L342.4,107.7L342.7,107.7L343.1,107.7L343.4,107.7L343.7,107.7L344.1,107.7L344.4,107.7L344.8,107.7L345.1,107.7L345.4,107.7L345.8,107.7L346.1,107.7L346.5,107.7L346.8,107.7L347.2,107.7L347.5,107.6L347.8,107.6L348.2,107.6L348.5,107.6L348.9,107.6L349.2,107.6L349.5,107.6L349.9,107.6L350.2,107.6L350.6,107.6L350.9,107.6L351.2,107.6L351.6,107.6L351.9,107.6L352.3,107.6L352.6,107.6L352.9,107.6L353.3,107.6L353.6,107.6L354.0,107.6L354.3,107.6L354.6,107.6L355.0,107.6L355.3,107.6L355.7,107.6L356.0,107.6L356.3,107.6L356.7,107.6L357.0,107.6L357.4,107.6L357.7,107.6L358.0,107.6L358.4,107.6L358.7,107.6L359.1,107.6L359.4,107.6L359.7,107.6L360.1,107.5L360.4,107.5L360.8,107.5L361.1,107.5L361.4,107.5L361.8,107.5L362.1,107.5L362.5,107.5L362.8,107.5L363.1,107.5L363.5,107.6L363.8,107.6L364.2,107.6L364.5,107.6L364.8,107.6L365.2,107.6L365.5,107.6L365.9,107.6L366.2,107.6L366.5,107.6L366.9,107.6L367.2,107.6L367.6,107.6L367.9,107.6L368.2,107.6L368.6,107.6L368.9,107.6L369.3,107.6L369.6,107.6L369.9,107.6L370.3,107.6L370.6,107.6L371.0,107.6L371.3,107.6L371.6,107.6L372.0,107.6L372.3,107.6L372.7,107.6L373.0,107.6L373.3,107.6L373.7,107.6L374.0,107.6L374.4,107.6L374.7,107.6L375.0,107.6L375.4,107.6L375.7,107.6L376.1,107.6L376.4,107.6L376.7,107.6L377.1,107.6L377.4,107.6L377.8,107.6L378.1,107.6L378.5,107.6L378.8,107.6L379.1,107.6L379.5,107.6L379.8,107.6L380.2,107.6L380.5,107.6L380.8,107.6L381.2,107.6L381.5,107.6L381.9,107.6L382.2,107.6L382.5,107.6L382.9,107.6L383.2,107.6L383.6,107.6L383.9,107.6L384.2,107.6L384.6,107.6L384.9,107.6L385.3,107.6L385.6,107.6L385.9,107.6L386.3,107.6L386.6,107.6L387.0,107.6L387.3,107.6L387.6,107.6L388.0,107.6L388.3,107.6L388.7,107.6L389.0,107.6L389.3,107.6L389.7,107.6L390.0,107.6L390.4,107.6L390.7,107.6L391.0,107.6L391.4,107.6L391.7,107.6L392.1,107.6L392.4,107.6L392.7,107.6L393.1,107.6L393.4,107.6L393.8,107.6L394.1,107.6L394.4,107.6L394.8,107.6L395.1,107.6L395.5,107.6L395.8,107.6L396.1,107.6L396.5,107.6L396.8,107.6L397.2,107.6L397.5,107.6L397.8,107.6L398.2,107.6L398.5,107.6L398.9,107.6L399.2,107.6L399.5,107.6L399.9,107.6L400.2,107.6L400.6,107.6L400.9,107.6L401.2,107.6L401.6,107.6L401.9,107.6L402.3,107.6L402.6,107.6L402.9,107.6L403.3,107.6L403.6,107.6L404.0,107.6L404.3,107.6L404.6,107.6L405.0,107.6L405.3,107.6L405.7,107.6L406.0,107.6L406.3,107.6L406.7,107.6L407.0,107.6L407.4,107.6L407.7,107.6L408.0,107.6L408.4,107.6L408.7,107.6L409.1,107.6L409.4,107.6L409.8,107.6L410.1,107.6L410.4,107.6L410.8,107.6L411.1,107.6L411.5,107.6L411.8,107.6L412.1,107.6L412.5,107.6L412.8,107.6L413.2,107.6L413.5,107.6L413.8,107.6L414.2,107.6" stroke="#2359bf" stroke-width="1.4"/></g><clipPath id="cb"><rect x="51.5" y="176.65" width="362.9" height="26.75"/></clipPath><path clip-path="url(#cb)" d="M51.7,190.1L53.6,187.2L57.2,186.5L59.0,193.7L61.6,195.9L63.7,191.5L65.2,193.0L66.6,185.7L68.8,184.3L71.7,198.7L73.9,190.1L76.0,193.7L79.6,182.1L84.0,194.4L85.4,190.1L88.3,195.9L91.9,180.7L94.8,192.2L97.0,186.5L99.9,197.7L103.5,181.4L105.7,190.8L107.8,185.0L110.0,187.9L112.6,191.8L116.0,183.5L118.2,196.4L121.7,186.1L125.3,194.3L127.5,185.4L130.0,198.1L132.7,188.9L136.1,191.9L138.9,180.7L142.1,196.8L145.9,184.0L149.3,193.6L151.7,188.2L155.1,199.1L158.2,182.2L160.7,196.0L163.0,186.1L165.7,197.8L169.4,183.6L172.9,198.2L176.4,182.0L179.1,198.0L181.8,182.2L184.8,192.9L187.7,182.2L190.6,193.0L194.1,181.4L197.3,192.9L200.1,183.4L203.2,197.5L205.9,184.8L208.6,191.3L210.9,184.0L214.7,197.3L217.9,182.1L221.0,199.1L223.6,182.8L227.0,196.4L230.2,183.3L234.0,199.3L236.4,182.6L240.0,195.2L242.6,183.5L245.8,199.3L248.3,181.6L251.3,193.5L255.1,179.9L257.3,196.8L260.6,185.9L263.9,193.6L267.7,185.8L271.1,196.2L274.8,187.1L277.5,197.6L280.3,186.3L282.6,199.4L286.2,188.6L290.0,195.1L292.5,184.3L295.1,198.1L297.8,187.7L300.1,196.9L303.2,182.3L306.8,196.7L309.6,185.3L313.1,194.7L316.7,187.0L319.5,199.1L322.1,183.1L324.6,195.6L327.5,185.8L330.4,191.2L334.1,180.5L337.5,196.0L340.2,182.3L343.1,194.8L346.4,184.4L349.1,195.3L352.2,186.1L355.2,198.3L357.9,188.2L360.9,191.4L363.9,186.6L367.0,196.6L369.7,180.4L372.2,194.6L375.6,180.9L378.2,193.7L381.3,188.9L384.5,190.5L386.7,182.0L389.3,192.1L391.7,185.8L395.1,196.2L398.5,185.7L402.1,190.2L405.5,183.3L408.8,196.1L411.9,186.1L415.5,198.3" stroke="#000" stroke-width="1.25" fill="none" stroke-linejoin="round"/><rect x="51.5" y="56.85" width="362.9" height="119.80000000000001" stroke="#000" stroke-width="0.85" fill="none"/><rect x="51.5" y="176.65" width="362.9" height="26.75" stroke="#000" stroke-width="0.85" fill="none"/><path d="M108.20,56.85v3.5M108.20,173.35v6.4M108.20,203.4v-3.4M164.91,56.85v3.5M164.91,173.35v6.4M164.91,203.4v-3.4M221.61,56.85v3.5M221.61,173.35v6.4M221.61,203.4v-3.4M278.31,56.85v3.5M278.31,173.35v6.4M278.31,203.4v-3.4M335.02,56.85v3.5M335.02,173.35v6.4M335.02,203.4v-3.4M391.72,56.85v3.5M391.72,173.35v6.4M391.72,203.4v-3.4M51.5,152.69h3.5M414.4,152.69h-3.5M51.5,128.73h3.5M414.4,128.73h-3.5M51.5,104.77h3.5M414.4,104.77h-3.5M51.5,80.81h3.5M414.4,80.81h-3.5M51.5,180.10h3.2M414.4,180.10h-3.2M51.5,182.93h3.2M414.4,182.93h-3.2M51.5,185.76h3.2M414.4,185.76h-3.2M51.5,188.59h3.2M414.4,188.59h-3.2M51.5,191.42h3.2M414.4,191.42h-3.2M51.5,194.25h3.2M414.4,194.25h-3.2M51.5,197.08h3.2M414.4,197.08h-3.2M51.5,199.91h3.2M414.4,199.91h-3.2" stroke="#000" stroke-width="0.6" fill="none"/><path d="M4.49,186.83C3.15,184.58 4.72,182.79 7.19,183.24C10.56,183.91 12.58,187.51 12.13,190.88C11.69,193.80 8.99,195.37 6.29,194.58C5.17,194.25 4.27,193.57 3.93,192.67M4.49,186.83C6.97,187.96 10.34,190.43 16.85,192.22" fill="none" stroke="#111" stroke-width="1.05" stroke-linecap="round" stroke-linejoin="round"/></svg>
<div class="t" style="font-size:17px;transform:translate(24.51px,70.21px) scale(1.058,1.052)">0.8</div>
<div class="t" style="font-size:17px;transform:translate(24.53px,118.11px) scale(1.032,1.052)">0.4</div>
<div class="t" style="font-size:17px;transform:translate(37.70px,166.01px) scale(1.071,1.052)">0</div>
<div class="t" style="font-size:17px;transform:translate(46.09px,207.38px) scale(1.086,1.026)">0</div>
<div class="t" style="font-size:17px;transform:translate(147.04px,207.38px) scale(1.009,1.026)">1000</div>
<div class="t" style="font-size:17px;transform:translate(261.14px,207.38px) scale(1.009,1.026)">2000</div>
<div class="t" style="font-size:17px;transform:translate(374.39px,207.38px) scale(1.015,1.026)">3000</div>
<div class="t" style="font-size:20px;transform:translate(215.43px,224.78px) scale(0.967,1.110)"><i>t</i><span style="display:inline-block;width:0.42em"></span>[a.u.]</div>
<div class="t" style="font-size:20px;transform:translate(1.99px,170.04px) rotate(-90deg) scale(1.071,0.904)">Populations</div>
<div class="t" style="font-size:20px;transform:translate(204.17px,64.09px) scale(1.045,0.985)">1<i>s</i></div>
<div class="t" style="font-size:20px;transform:translate(353.15px,82.67px) scale(1.047,0.920)">3<i>p<sub>z</sub></i></div>
<div class="t" style="font-size:20px;transform:translate(352.42px,134.17px) scale(1.037,0.920)">2<i>p<sub>z</sub></i></div>
</body></html>
